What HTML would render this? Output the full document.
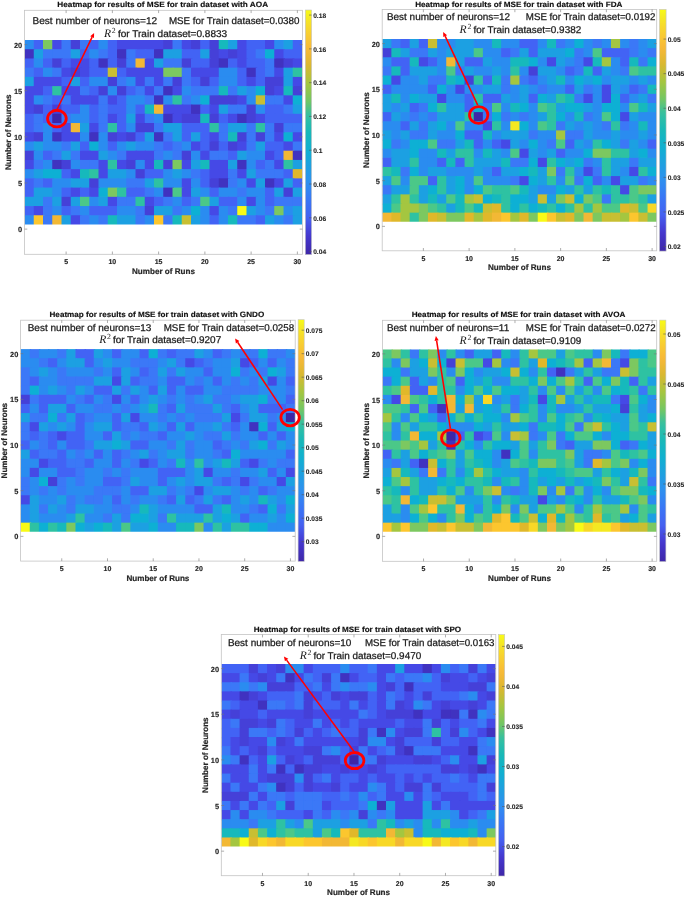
<!DOCTYPE html><html><head><meta charset="utf-8"><style>html,body{margin:0;padding:0;background:#fff;width:685px;height:897px;overflow:hidden}
svg{display:block;will-change:transform}
text{font-family:"Liberation Sans", sans-serif;fill:#262626;text-rendering:geometricPrecision}
.tk{font-size:7px;font-weight:bold;stroke:#262626;stroke-width:0.15px}
.cbt{font-size:6.6px;font-weight:bold;stroke:#262626;stroke-width:0.12px}
.tky{font-size:7.4px;font-weight:bold;stroke:#262626;stroke-width:0.15px}
.lb{font-size:8.1px;font-weight:bold;stroke:#262626;stroke-width:0.2px}
.ti{font-size:7.7px;font-weight:bold;fill:#111;stroke:#111;stroke-width:0.15px}
.an{font-size:9.8px;fill:#1a1a1a;stroke:#1a1a1a;stroke-width:0.25px}
.r2{font-family:"Liberation Serif",serif;font-style:italic;font-size:11.6px;fill:#1a1a1a}
.sup{font-family:"Liberation Serif",serif;font-size:7.8px;fill:#1a1a1a}
rect[class^=z]{width:1.16px;height:1.16px}
.z0{fill:#3e26a8}.z1{fill:#4030c0}.z2{fill:#4540d8}.z3{fill:#4549e6}.z4{fill:#4364f5}.z5{fill:#3a78f7}.z6{fill:#2c8cf0}.z7{fill:#1ea0e2}.z8{fill:#10b0d4}.z9{fill:#18b9bc}.za{fill:#2ec2a2}.zb{fill:#4cc888}.zc{fill:#7cc860}.zd{fill:#a4c640}.ze{fill:#c8bf30}.zf{fill:#e0b82c}.zg{fill:#f2b834}.zh{fill:#fcc62e}.zi{fill:#f8d828}.zj{fill:#f4e820}.zk{fill:#f8fa14}</style></head><body><svg width="685" height="897" viewBox="0 0 685 897">
<defs><linearGradient id="par" x1="0" y1="0" x2="0" y2="1"><stop offset="0.000" stop-color="#f9fb15"/><stop offset="0.025" stop-color="#f5ee21"/><stop offset="0.050" stop-color="#f6e227"/><stop offset="0.075" stop-color="#f7d72d"/><stop offset="0.100" stop-color="#f8cd31"/><stop offset="0.125" stop-color="#f8c434"/><stop offset="0.150" stop-color="#f8bb37"/><stop offset="0.175" stop-color="#f1b836"/><stop offset="0.200" stop-color="#e6b833"/><stop offset="0.225" stop-color="#dab831"/><stop offset="0.250" stop-color="#c9bc35"/><stop offset="0.275" stop-color="#b7c13a"/><stop offset="0.300" stop-color="#a4c640"/><stop offset="0.325" stop-color="#93c64c"/><stop offset="0.350" stop-color="#82c658"/><stop offset="0.375" stop-color="#6fc667"/><stop offset="0.400" stop-color="#54c381"/><stop offset="0.425" stop-color="#3ac09b"/><stop offset="0.450" stop-color="#2dbea7"/><stop offset="0.475" stop-color="#22bbaf"/><stop offset="0.500" stop-color="#18b8b8"/><stop offset="0.525" stop-color="#15b5c1"/><stop offset="0.550" stop-color="#12b2c9"/><stop offset="0.575" stop-color="#11afd1"/><stop offset="0.600" stop-color="#16a9d7"/><stop offset="0.625" stop-color="#1ca3dd"/><stop offset="0.650" stop-color="#219de2"/><stop offset="0.675" stop-color="#2797e8"/><stop offset="0.700" stop-color="#2d91ee"/><stop offset="0.725" stop-color="#3189f1"/><stop offset="0.750" stop-color="#3580f3"/><stop offset="0.775" stop-color="#3977f5"/><stop offset="0.800" stop-color="#3d6ff4"/><stop offset="0.825" stop-color="#4168f2"/><stop offset="0.850" stop-color="#4560f0"/><stop offset="0.875" stop-color="#4552e5"/><stop offset="0.900" stop-color="#4543d9"/><stop offset="0.925" stop-color="#4537cd"/><stop offset="0.950" stop-color="#4231c1"/><stop offset="0.975" stop-color="#402cb4"/><stop offset="1.000" stop-color="#3e26a8"/></linearGradient></defs>
<rect width="685" height="897" fill="#fff"/>
<rect x="24.5" y="10.3" width="278" height="244" fill="#fff"/>
<clipPath id="cAOA"><rect x="24.5" y="40" width="277.5" height="184.5"/></clipPath>
<filter id="fAOA" filterUnits="userSpaceOnUse" x="24.5" y="40" width="277.5" height="184.5"><feGaussianBlur stdDeviation="0.45" edgeMode="duplicate"/></filter>
<g clip-path="url(#cAOA)" filter="url(#fAOA)"><g transform="translate(24.5 40) scale(9.2500 9.2250)">
<rect x="0" y="0" width="1.16" height="1.16" class="z6"/>
<rect x="1" y="0" width="1.16" height="1.16" class="z4"/>
<rect x="2" y="0" width="1.16" height="1.16" class="zc"/>
<rect x="3" y="0" width="1.16" height="1.16" class="z3"/>
<rect x="4" y="0" width="1.16" height="1.16" class="z5"/>
<rect x="5" y="0" width="1.16" height="1.16" class="z2"/>
<rect x="6" y="0" width="1.16" height="1.16" class="z5"/>
<rect x="7" y="0" width="1.16" height="1.16" class="z4"/>
<rect x="8" y="0" width="1.16" height="1.16" class="z6"/>
<rect x="9" y="0" width="1.16" height="1.16" class="z4"/>
<rect x="10" y="0" width="1.16" height="1.16" class="z3"/>
<rect x="11" y="0" width="1.16" height="1.16" class="z3"/>
<rect x="12" y="0" width="1.16" height="1.16" class="z3"/>
<rect x="13" y="0" width="1.16" height="1.16" class="z3"/>
<rect x="14" y="0" width="1.16" height="1.16" class="z3"/>
<rect x="15" y="0" width="1.16" height="1.16" class="z2"/>
<rect x="16" y="0" width="1.16" height="1.16" class="z5"/>
<rect x="17" y="0" width="1.16" height="1.16" class="z3"/>
<rect x="18" y="0" width="1.16" height="1.16" class="z2"/>
<rect x="19" y="0" width="1.16" height="1.16" class="z4"/>
<rect x="20" y="0" width="1.16" height="1.16" class="z2"/>
<rect x="21" y="0" width="1.16" height="1.16" class="z9"/>
<rect x="22" y="0" width="1.16" height="1.16" class="z7"/>
<rect x="23" y="0" width="1.16" height="1.16" class="z3"/>
<rect x="24" y="0" width="1.16" height="1.16" class="z4"/>
<rect x="25" y="0" width="1.16" height="1.16" class="z4"/>
<rect x="26" y="0" width="1.16" height="1.16" class="z3"/>
<rect x="27" y="0" width="1.16" height="1.16" class="z6"/>
<rect x="28" y="0" width="1.16" height="1.16" class="z7"/>
<rect x="29" y="0" width="1.16" height="1.16" class="z4"/>
<rect x="0" y="1" width="1.16" height="1.16" class="z1"/>
<rect x="1" y="1" width="1.16" height="1.16" class="z7"/>
<rect x="2" y="1" width="1.16" height="1.16" class="z5"/>
<rect x="3" y="1" width="1.16" height="1.16" class="z5"/>
<rect x="4" y="1" width="1.16" height="1.16" class="z5"/>
<rect x="5" y="1" width="1.16" height="1.16" class="z7"/>
<rect x="6" y="1" width="1.16" height="1.16" class="z4"/>
<rect x="7" y="1" width="1.16" height="1.16" class="z6"/>
<rect x="8" y="1" width="1.16" height="1.16" class="z5"/>
<rect x="9" y="1" width="1.16" height="1.16" class="z4"/>
<rect x="10" y="1" width="1.16" height="1.16" class="z1"/>
<rect x="11" y="1" width="1.16" height="1.16" class="z5"/>
<rect x="12" y="1" width="1.16" height="1.16" class="z4"/>
<rect x="13" y="1" width="1.16" height="1.16" class="z4"/>
<rect x="14" y="1" width="1.16" height="1.16" class="z1"/>
<rect x="15" y="1" width="1.16" height="1.16" class="z7"/>
<rect x="16" y="1" width="1.16" height="1.16" class="z7"/>
<rect x="17" y="1" width="1.16" height="1.16" class="z4"/>
<rect x="18" y="1" width="1.16" height="1.16" class="z4"/>
<rect x="19" y="1" width="1.16" height="1.16" class="z7"/>
<rect x="20" y="1" width="1.16" height="1.16" class="z2"/>
<rect x="21" y="1" width="1.16" height="1.16" class="z3"/>
<rect x="22" y="1" width="1.16" height="1.16" class="z2"/>
<rect x="23" y="1" width="1.16" height="1.16" class="z3"/>
<rect x="24" y="1" width="1.16" height="1.16" class="z4"/>
<rect x="25" y="1" width="1.16" height="1.16" class="z5"/>
<rect x="26" y="1" width="1.16" height="1.16" class="z8"/>
<rect x="27" y="1" width="1.16" height="1.16" class="z3"/>
<rect x="28" y="1" width="1.16" height="1.16" class="z4"/>
<rect x="29" y="1" width="1.16" height="1.16" class="z4"/>
<rect x="0" y="2" width="1.16" height="1.16" class="z4"/>
<rect x="1" y="2" width="1.16" height="1.16" class="z6"/>
<rect x="2" y="2" width="1.16" height="1.16" class="z4"/>
<rect x="3" y="2" width="1.16" height="1.16" class="z2"/>
<rect x="4" y="2" width="1.16" height="1.16" class="z4"/>
<rect x="5" y="2" width="1.16" height="1.16" class="z3"/>
<rect x="6" y="2" width="1.16" height="1.16" class="z3"/>
<rect x="7" y="2" width="1.16" height="1.16" class="z4"/>
<rect x="8" y="2" width="1.16" height="1.16" class="z1"/>
<rect x="9" y="2" width="1.16" height="1.16" class="z4"/>
<rect x="10" y="2" width="1.16" height="1.16" class="z2"/>
<rect x="11" y="2" width="1.16" height="1.16" class="z5"/>
<rect x="12" y="2" width="1.16" height="1.16" class="zg"/>
<rect x="13" y="2" width="1.16" height="1.16" class="z3"/>
<rect x="14" y="2" width="1.16" height="1.16" class="z7"/>
<rect x="15" y="2" width="1.16" height="1.16" class="z5"/>
<rect x="16" y="2" width="1.16" height="1.16" class="z5"/>
<rect x="17" y="2" width="1.16" height="1.16" class="z2"/>
<rect x="18" y="2" width="1.16" height="1.16" class="z4"/>
<rect x="19" y="2" width="1.16" height="1.16" class="z4"/>
<rect x="20" y="2" width="1.16" height="1.16" class="z2"/>
<rect x="21" y="2" width="1.16" height="1.16" class="z1"/>
<rect x="22" y="2" width="1.16" height="1.16" class="z4"/>
<rect x="23" y="2" width="1.16" height="1.16" class="z3"/>
<rect x="24" y="2" width="1.16" height="1.16" class="z4"/>
<rect x="25" y="2" width="1.16" height="1.16" class="z4"/>
<rect x="26" y="2" width="1.16" height="1.16" class="z5"/>
<rect x="27" y="2" width="1.16" height="1.16" class="z1"/>
<rect x="28" y="2" width="1.16" height="1.16" class="z2"/>
<rect x="29" y="2" width="1.16" height="1.16" class="z3"/>
<rect x="0" y="3" width="1.16" height="1.16" class="z5"/>
<rect x="1" y="3" width="1.16" height="1.16" class="z4"/>
<rect x="2" y="3" width="1.16" height="1.16" class="z6"/>
<rect x="3" y="3" width="1.16" height="1.16" class="z5"/>
<rect x="4" y="3" width="1.16" height="1.16" class="z3"/>
<rect x="5" y="3" width="1.16" height="1.16" class="z2"/>
<rect x="6" y="3" width="1.16" height="1.16" class="z3"/>
<rect x="7" y="3" width="1.16" height="1.16" class="z4"/>
<rect x="8" y="3" width="1.16" height="1.16" class="z4"/>
<rect x="9" y="3" width="1.16" height="1.16" class="ze"/>
<rect x="10" y="3" width="1.16" height="1.16" class="z4"/>
<rect x="11" y="3" width="1.16" height="1.16" class="z3"/>
<rect x="12" y="3" width="1.16" height="1.16" class="z3"/>
<rect x="13" y="3" width="1.16" height="1.16" class="z3"/>
<rect x="14" y="3" width="1.16" height="1.16" class="z3"/>
<rect x="15" y="3" width="1.16" height="1.16" class="zc"/>
<rect x="16" y="3" width="1.16" height="1.16" class="zc"/>
<rect x="17" y="3" width="1.16" height="1.16" class="z5"/>
<rect x="18" y="3" width="1.16" height="1.16" class="z3"/>
<rect x="19" y="3" width="1.16" height="1.16" class="z3"/>
<rect x="20" y="3" width="1.16" height="1.16" class="z3"/>
<rect x="21" y="3" width="1.16" height="1.16" class="z6"/>
<rect x="22" y="3" width="1.16" height="1.16" class="z6"/>
<rect x="23" y="3" width="1.16" height="1.16" class="z4"/>
<rect x="24" y="3" width="1.16" height="1.16" class="z1"/>
<rect x="25" y="3" width="1.16" height="1.16" class="z4"/>
<rect x="26" y="3" width="1.16" height="1.16" class="z5"/>
<rect x="27" y="3" width="1.16" height="1.16" class="z3"/>
<rect x="28" y="3" width="1.16" height="1.16" class="z7"/>
<rect x="29" y="3" width="1.16" height="1.16" class="za"/>
<rect x="0" y="4" width="1.16" height="1.16" class="z7"/>
<rect x="1" y="4" width="1.16" height="1.16" class="z3"/>
<rect x="2" y="4" width="1.16" height="1.16" class="z3"/>
<rect x="3" y="4" width="1.16" height="1.16" class="z3"/>
<rect x="4" y="4" width="1.16" height="1.16" class="z4"/>
<rect x="5" y="4" width="1.16" height="1.16" class="z7"/>
<rect x="6" y="4" width="1.16" height="1.16" class="z4"/>
<rect x="7" y="4" width="1.16" height="1.16" class="z6"/>
<rect x="8" y="4" width="1.16" height="1.16" class="z6"/>
<rect x="9" y="4" width="1.16" height="1.16" class="z2"/>
<rect x="10" y="4" width="1.16" height="1.16" class="z5"/>
<rect x="11" y="4" width="1.16" height="1.16" class="z6"/>
<rect x="12" y="4" width="1.16" height="1.16" class="z3"/>
<rect x="13" y="4" width="1.16" height="1.16" class="z5"/>
<rect x="14" y="4" width="1.16" height="1.16" class="z3"/>
<rect x="15" y="4" width="1.16" height="1.16" class="z5"/>
<rect x="16" y="4" width="1.16" height="1.16" class="z2"/>
<rect x="17" y="4" width="1.16" height="1.16" class="z5"/>
<rect x="18" y="4" width="1.16" height="1.16" class="z4"/>
<rect x="19" y="4" width="1.16" height="1.16" class="z2"/>
<rect x="20" y="4" width="1.16" height="1.16" class="z4"/>
<rect x="21" y="4" width="1.16" height="1.16" class="z6"/>
<rect x="22" y="4" width="1.16" height="1.16" class="z6"/>
<rect x="23" y="4" width="1.16" height="1.16" class="z4"/>
<rect x="24" y="4" width="1.16" height="1.16" class="z3"/>
<rect x="25" y="4" width="1.16" height="1.16" class="z4"/>
<rect x="26" y="4" width="1.16" height="1.16" class="z2"/>
<rect x="27" y="4" width="1.16" height="1.16" class="z2"/>
<rect x="28" y="4" width="1.16" height="1.16" class="z7"/>
<rect x="29" y="4" width="1.16" height="1.16" class="z3"/>
<rect x="0" y="5" width="1.16" height="1.16" class="z3"/>
<rect x="1" y="5" width="1.16" height="1.16" class="z3"/>
<rect x="2" y="5" width="1.16" height="1.16" class="z4"/>
<rect x="3" y="5" width="1.16" height="1.16" class="za"/>
<rect x="4" y="5" width="1.16" height="1.16" class="z3"/>
<rect x="5" y="5" width="1.16" height="1.16" class="z3"/>
<rect x="6" y="5" width="1.16" height="1.16" class="z5"/>
<rect x="7" y="5" width="1.16" height="1.16" class="z4"/>
<rect x="8" y="5" width="1.16" height="1.16" class="z2"/>
<rect x="9" y="5" width="1.16" height="1.16" class="z6"/>
<rect x="10" y="5" width="1.16" height="1.16" class="z2"/>
<rect x="11" y="5" width="1.16" height="1.16" class="z4"/>
<rect x="12" y="5" width="1.16" height="1.16" class="z5"/>
<rect x="13" y="5" width="1.16" height="1.16" class="z3"/>
<rect x="14" y="5" width="1.16" height="1.16" class="z5"/>
<rect x="15" y="5" width="1.16" height="1.16" class="z1"/>
<rect x="16" y="5" width="1.16" height="1.16" class="z3"/>
<rect x="17" y="5" width="1.16" height="1.16" class="z6"/>
<rect x="18" y="5" width="1.16" height="1.16" class="z5"/>
<rect x="19" y="5" width="1.16" height="1.16" class="z5"/>
<rect x="20" y="5" width="1.16" height="1.16" class="z5"/>
<rect x="21" y="5" width="1.16" height="1.16" class="z9"/>
<rect x="22" y="5" width="1.16" height="1.16" class="z5"/>
<rect x="23" y="5" width="1.16" height="1.16" class="z7"/>
<rect x="24" y="5" width="1.16" height="1.16" class="z6"/>
<rect x="25" y="5" width="1.16" height="1.16" class="z8"/>
<rect x="26" y="5" width="1.16" height="1.16" class="z2"/>
<rect x="27" y="5" width="1.16" height="1.16" class="z3"/>
<rect x="28" y="5" width="1.16" height="1.16" class="z9"/>
<rect x="29" y="5" width="1.16" height="1.16" class="z2"/>
<rect x="0" y="6" width="1.16" height="1.16" class="z3"/>
<rect x="1" y="6" width="1.16" height="1.16" class="z6"/>
<rect x="2" y="6" width="1.16" height="1.16" class="z5"/>
<rect x="3" y="6" width="1.16" height="1.16" class="z4"/>
<rect x="4" y="6" width="1.16" height="1.16" class="z5"/>
<rect x="5" y="6" width="1.16" height="1.16" class="z3"/>
<rect x="6" y="6" width="1.16" height="1.16" class="z3"/>
<rect x="7" y="6" width="1.16" height="1.16" class="z3"/>
<rect x="8" y="6" width="1.16" height="1.16" class="z5"/>
<rect x="9" y="6" width="1.16" height="1.16" class="z3"/>
<rect x="10" y="6" width="1.16" height="1.16" class="z4"/>
<rect x="11" y="6" width="1.16" height="1.16" class="z6"/>
<rect x="12" y="6" width="1.16" height="1.16" class="z6"/>
<rect x="13" y="6" width="1.16" height="1.16" class="z5"/>
<rect x="14" y="6" width="1.16" height="1.16" class="z1"/>
<rect x="15" y="6" width="1.16" height="1.16" class="z6"/>
<rect x="16" y="6" width="1.16" height="1.16" class="za"/>
<rect x="17" y="6" width="1.16" height="1.16" class="z5"/>
<rect x="18" y="6" width="1.16" height="1.16" class="z6"/>
<rect x="19" y="6" width="1.16" height="1.16" class="z8"/>
<rect x="20" y="6" width="1.16" height="1.16" class="z2"/>
<rect x="21" y="6" width="1.16" height="1.16" class="z2"/>
<rect x="22" y="6" width="1.16" height="1.16" class="z2"/>
<rect x="23" y="6" width="1.16" height="1.16" class="z3"/>
<rect x="24" y="6" width="1.16" height="1.16" class="z6"/>
<rect x="25" y="6" width="1.16" height="1.16" class="ze"/>
<rect x="26" y="6" width="1.16" height="1.16" class="z5"/>
<rect x="27" y="6" width="1.16" height="1.16" class="z5"/>
<rect x="28" y="6" width="1.16" height="1.16" class="z3"/>
<rect x="29" y="6" width="1.16" height="1.16" class="z8"/>
<rect x="0" y="7" width="1.16" height="1.16" class="z3"/>
<rect x="1" y="7" width="1.16" height="1.16" class="z2"/>
<rect x="2" y="7" width="1.16" height="1.16" class="z4"/>
<rect x="3" y="7" width="1.16" height="1.16" class="z2"/>
<rect x="4" y="7" width="1.16" height="1.16" class="z4"/>
<rect x="5" y="7" width="1.16" height="1.16" class="z4"/>
<rect x="6" y="7" width="1.16" height="1.16" class="z6"/>
<rect x="7" y="7" width="1.16" height="1.16" class="z4"/>
<rect x="8" y="7" width="1.16" height="1.16" class="z5"/>
<rect x="9" y="7" width="1.16" height="1.16" class="z4"/>
<rect x="10" y="7" width="1.16" height="1.16" class="z4"/>
<rect x="11" y="7" width="1.16" height="1.16" class="z6"/>
<rect x="12" y="7" width="1.16" height="1.16" class="z4"/>
<rect x="13" y="7" width="1.16" height="1.16" class="z9"/>
<rect x="14" y="7" width="1.16" height="1.16" class="zg"/>
<rect x="15" y="7" width="1.16" height="1.16" class="z3"/>
<rect x="16" y="7" width="1.16" height="1.16" class="z3"/>
<rect x="17" y="7" width="1.16" height="1.16" class="z3"/>
<rect x="18" y="7" width="1.16" height="1.16" class="z1"/>
<rect x="19" y="7" width="1.16" height="1.16" class="z4"/>
<rect x="20" y="7" width="1.16" height="1.16" class="z3"/>
<rect x="21" y="7" width="1.16" height="1.16" class="z7"/>
<rect x="22" y="7" width="1.16" height="1.16" class="z5"/>
<rect x="23" y="7" width="1.16" height="1.16" class="z5"/>
<rect x="24" y="7" width="1.16" height="1.16" class="z2"/>
<rect x="25" y="7" width="1.16" height="1.16" class="z6"/>
<rect x="26" y="7" width="1.16" height="1.16" class="z4"/>
<rect x="27" y="7" width="1.16" height="1.16" class="z4"/>
<rect x="28" y="7" width="1.16" height="1.16" class="z5"/>
<rect x="29" y="7" width="1.16" height="1.16" class="z7"/>
<rect x="0" y="8" width="1.16" height="1.16" class="z4"/>
<rect x="1" y="8" width="1.16" height="1.16" class="z5"/>
<rect x="2" y="8" width="1.16" height="1.16" class="z4"/>
<rect x="3" y="8" width="1.16" height="1.16" class="z0"/>
<rect x="4" y="8" width="1.16" height="1.16" class="z5"/>
<rect x="5" y="8" width="1.16" height="1.16" class="z6"/>
<rect x="6" y="8" width="1.16" height="1.16" class="z6"/>
<rect x="7" y="8" width="1.16" height="1.16" class="z4"/>
<rect x="8" y="8" width="1.16" height="1.16" class="z5"/>
<rect x="9" y="8" width="1.16" height="1.16" class="z3"/>
<rect x="10" y="8" width="1.16" height="1.16" class="z4"/>
<rect x="11" y="8" width="1.16" height="1.16" class="z7"/>
<rect x="12" y="8" width="1.16" height="1.16" class="z3"/>
<rect x="13" y="8" width="1.16" height="1.16" class="z5"/>
<rect x="14" y="8" width="1.16" height="1.16" class="z6"/>
<rect x="15" y="8" width="1.16" height="1.16" class="z1"/>
<rect x="16" y="8" width="1.16" height="1.16" class="z3"/>
<rect x="17" y="8" width="1.16" height="1.16" class="z2"/>
<rect x="18" y="8" width="1.16" height="1.16" class="z2"/>
<rect x="19" y="8" width="1.16" height="1.16" class="z9"/>
<rect x="20" y="8" width="1.16" height="1.16" class="z2"/>
<rect x="21" y="8" width="1.16" height="1.16" class="z4"/>
<rect x="22" y="8" width="1.16" height="1.16" class="z3"/>
<rect x="23" y="8" width="1.16" height="1.16" class="z1"/>
<rect x="24" y="8" width="1.16" height="1.16" class="z2"/>
<rect x="25" y="8" width="1.16" height="1.16" class="z3"/>
<rect x="26" y="8" width="1.16" height="1.16" class="z4"/>
<rect x="27" y="8" width="1.16" height="1.16" class="z4"/>
<rect x="28" y="8" width="1.16" height="1.16" class="z4"/>
<rect x="29" y="8" width="1.16" height="1.16" class="z4"/>
<rect x="0" y="9" width="1.16" height="1.16" class="z4"/>
<rect x="1" y="9" width="1.16" height="1.16" class="z5"/>
<rect x="2" y="9" width="1.16" height="1.16" class="z6"/>
<rect x="3" y="9" width="1.16" height="1.16" class="z4"/>
<rect x="4" y="9" width="1.16" height="1.16" class="z3"/>
<rect x="5" y="9" width="1.16" height="1.16" class="zg"/>
<rect x="6" y="9" width="1.16" height="1.16" class="z7"/>
<rect x="7" y="9" width="1.16" height="1.16" class="z3"/>
<rect x="8" y="9" width="1.16" height="1.16" class="z5"/>
<rect x="9" y="9" width="1.16" height="1.16" class="za"/>
<rect x="10" y="9" width="1.16" height="1.16" class="z4"/>
<rect x="11" y="9" width="1.16" height="1.16" class="z6"/>
<rect x="12" y="9" width="1.16" height="1.16" class="z2"/>
<rect x="13" y="9" width="1.16" height="1.16" class="z2"/>
<rect x="14" y="9" width="1.16" height="1.16" class="z5"/>
<rect x="15" y="9" width="1.16" height="1.16" class="z7"/>
<rect x="16" y="9" width="1.16" height="1.16" class="z7"/>
<rect x="17" y="9" width="1.16" height="1.16" class="z4"/>
<rect x="18" y="9" width="1.16" height="1.16" class="z4"/>
<rect x="19" y="9" width="1.16" height="1.16" class="z4"/>
<rect x="20" y="9" width="1.16" height="1.16" class="za"/>
<rect x="21" y="9" width="1.16" height="1.16" class="z5"/>
<rect x="22" y="9" width="1.16" height="1.16" class="z7"/>
<rect x="23" y="9" width="1.16" height="1.16" class="z7"/>
<rect x="24" y="9" width="1.16" height="1.16" class="z5"/>
<rect x="25" y="9" width="1.16" height="1.16" class="za"/>
<rect x="26" y="9" width="1.16" height="1.16" class="z5"/>
<rect x="27" y="9" width="1.16" height="1.16" class="z2"/>
<rect x="28" y="9" width="1.16" height="1.16" class="z5"/>
<rect x="29" y="9" width="1.16" height="1.16" class="z5"/>
<rect x="0" y="10" width="1.16" height="1.16" class="z3"/>
<rect x="1" y="10" width="1.16" height="1.16" class="z2"/>
<rect x="2" y="10" width="1.16" height="1.16" class="z6"/>
<rect x="3" y="10" width="1.16" height="1.16" class="z1"/>
<rect x="4" y="10" width="1.16" height="1.16" class="z3"/>
<rect x="5" y="10" width="1.16" height="1.16" class="z3"/>
<rect x="6" y="10" width="1.16" height="1.16" class="z6"/>
<rect x="7" y="10" width="1.16" height="1.16" class="z1"/>
<rect x="8" y="10" width="1.16" height="1.16" class="z6"/>
<rect x="9" y="10" width="1.16" height="1.16" class="z2"/>
<rect x="10" y="10" width="1.16" height="1.16" class="z3"/>
<rect x="11" y="10" width="1.16" height="1.16" class="z2"/>
<rect x="12" y="10" width="1.16" height="1.16" class="z4"/>
<rect x="13" y="10" width="1.16" height="1.16" class="z7"/>
<rect x="14" y="10" width="1.16" height="1.16" class="z1"/>
<rect x="15" y="10" width="1.16" height="1.16" class="z5"/>
<rect x="16" y="10" width="1.16" height="1.16" class="z7"/>
<rect x="17" y="10" width="1.16" height="1.16" class="z4"/>
<rect x="18" y="10" width="1.16" height="1.16" class="z7"/>
<rect x="19" y="10" width="1.16" height="1.16" class="z4"/>
<rect x="20" y="10" width="1.16" height="1.16" class="z3"/>
<rect x="21" y="10" width="1.16" height="1.16" class="z5"/>
<rect x="22" y="10" width="1.16" height="1.16" class="z9"/>
<rect x="23" y="10" width="1.16" height="1.16" class="z2"/>
<rect x="24" y="10" width="1.16" height="1.16" class="z5"/>
<rect x="25" y="10" width="1.16" height="1.16" class="z2"/>
<rect x="26" y="10" width="1.16" height="1.16" class="z5"/>
<rect x="27" y="10" width="1.16" height="1.16" class="z3"/>
<rect x="28" y="10" width="1.16" height="1.16" class="z8"/>
<rect x="29" y="10" width="1.16" height="1.16" class="z3"/>
<rect x="0" y="11" width="1.16" height="1.16" class="z6"/>
<rect x="1" y="11" width="1.16" height="1.16" class="z7"/>
<rect x="2" y="11" width="1.16" height="1.16" class="z6"/>
<rect x="3" y="11" width="1.16" height="1.16" class="z6"/>
<rect x="4" y="11" width="1.16" height="1.16" class="z5"/>
<rect x="5" y="11" width="1.16" height="1.16" class="z7"/>
<rect x="6" y="11" width="1.16" height="1.16" class="z4"/>
<rect x="7" y="11" width="1.16" height="1.16" class="z8"/>
<rect x="8" y="11" width="1.16" height="1.16" class="z6"/>
<rect x="9" y="11" width="1.16" height="1.16" class="z4"/>
<rect x="10" y="11" width="1.16" height="1.16" class="z6"/>
<rect x="11" y="11" width="1.16" height="1.16" class="z7"/>
<rect x="12" y="11" width="1.16" height="1.16" class="z6"/>
<rect x="13" y="11" width="1.16" height="1.16" class="z6"/>
<rect x="14" y="11" width="1.16" height="1.16" class="z5"/>
<rect x="15" y="11" width="1.16" height="1.16" class="z4"/>
<rect x="16" y="11" width="1.16" height="1.16" class="z5"/>
<rect x="17" y="11" width="1.16" height="1.16" class="z6"/>
<rect x="18" y="11" width="1.16" height="1.16" class="z3"/>
<rect x="19" y="11" width="1.16" height="1.16" class="z4"/>
<rect x="20" y="11" width="1.16" height="1.16" class="z2"/>
<rect x="21" y="11" width="1.16" height="1.16" class="z4"/>
<rect x="22" y="11" width="1.16" height="1.16" class="z2"/>
<rect x="23" y="11" width="1.16" height="1.16" class="z3"/>
<rect x="24" y="11" width="1.16" height="1.16" class="z5"/>
<rect x="25" y="11" width="1.16" height="1.16" class="z7"/>
<rect x="26" y="11" width="1.16" height="1.16" class="z4"/>
<rect x="27" y="11" width="1.16" height="1.16" class="z4"/>
<rect x="28" y="11" width="1.16" height="1.16" class="z3"/>
<rect x="29" y="11" width="1.16" height="1.16" class="z5"/>
<rect x="0" y="12" width="1.16" height="1.16" class="z2"/>
<rect x="1" y="12" width="1.16" height="1.16" class="z6"/>
<rect x="2" y="12" width="1.16" height="1.16" class="z4"/>
<rect x="3" y="12" width="1.16" height="1.16" class="z5"/>
<rect x="4" y="12" width="1.16" height="1.16" class="z7"/>
<rect x="5" y="12" width="1.16" height="1.16" class="z5"/>
<rect x="6" y="12" width="1.16" height="1.16" class="z3"/>
<rect x="7" y="12" width="1.16" height="1.16" class="z3"/>
<rect x="8" y="12" width="1.16" height="1.16" class="z7"/>
<rect x="9" y="12" width="1.16" height="1.16" class="z6"/>
<rect x="10" y="12" width="1.16" height="1.16" class="z5"/>
<rect x="11" y="12" width="1.16" height="1.16" class="z3"/>
<rect x="12" y="12" width="1.16" height="1.16" class="z3"/>
<rect x="13" y="12" width="1.16" height="1.16" class="z3"/>
<rect x="14" y="12" width="1.16" height="1.16" class="z5"/>
<rect x="15" y="12" width="1.16" height="1.16" class="z6"/>
<rect x="16" y="12" width="1.16" height="1.16" class="z5"/>
<rect x="17" y="12" width="1.16" height="1.16" class="z2"/>
<rect x="18" y="12" width="1.16" height="1.16" class="z6"/>
<rect x="19" y="12" width="1.16" height="1.16" class="z3"/>
<rect x="20" y="12" width="1.16" height="1.16" class="z5"/>
<rect x="21" y="12" width="1.16" height="1.16" class="z5"/>
<rect x="22" y="12" width="1.16" height="1.16" class="z4"/>
<rect x="23" y="12" width="1.16" height="1.16" class="z7"/>
<rect x="24" y="12" width="1.16" height="1.16" class="z6"/>
<rect x="25" y="12" width="1.16" height="1.16" class="z6"/>
<rect x="26" y="12" width="1.16" height="1.16" class="z3"/>
<rect x="27" y="12" width="1.16" height="1.16" class="z4"/>
<rect x="28" y="12" width="1.16" height="1.16" class="zg"/>
<rect x="29" y="12" width="1.16" height="1.16" class="z1"/>
<rect x="0" y="13" width="1.16" height="1.16" class="z3"/>
<rect x="1" y="13" width="1.16" height="1.16" class="z5"/>
<rect x="2" y="13" width="1.16" height="1.16" class="z6"/>
<rect x="3" y="13" width="1.16" height="1.16" class="z1"/>
<rect x="4" y="13" width="1.16" height="1.16" class="z2"/>
<rect x="5" y="13" width="1.16" height="1.16" class="z6"/>
<rect x="6" y="13" width="1.16" height="1.16" class="z5"/>
<rect x="7" y="13" width="1.16" height="1.16" class="z5"/>
<rect x="8" y="13" width="1.16" height="1.16" class="z3"/>
<rect x="9" y="13" width="1.16" height="1.16" class="za"/>
<rect x="10" y="13" width="1.16" height="1.16" class="z3"/>
<rect x="11" y="13" width="1.16" height="1.16" class="z2"/>
<rect x="12" y="13" width="1.16" height="1.16" class="z6"/>
<rect x="13" y="13" width="1.16" height="1.16" class="z3"/>
<rect x="14" y="13" width="1.16" height="1.16" class="z9"/>
<rect x="15" y="13" width="1.16" height="1.16" class="z2"/>
<rect x="16" y="13" width="1.16" height="1.16" class="zc"/>
<rect x="17" y="13" width="1.16" height="1.16" class="z3"/>
<rect x="18" y="13" width="1.16" height="1.16" class="z7"/>
<rect x="19" y="13" width="1.16" height="1.16" class="z9"/>
<rect x="20" y="13" width="1.16" height="1.16" class="z3"/>
<rect x="21" y="13" width="1.16" height="1.16" class="z3"/>
<rect x="22" y="13" width="1.16" height="1.16" class="z7"/>
<rect x="23" y="13" width="1.16" height="1.16" class="z1"/>
<rect x="24" y="13" width="1.16" height="1.16" class="z6"/>
<rect x="25" y="13" width="1.16" height="1.16" class="z4"/>
<rect x="26" y="13" width="1.16" height="1.16" class="z5"/>
<rect x="27" y="13" width="1.16" height="1.16" class="z3"/>
<rect x="28" y="13" width="1.16" height="1.16" class="za"/>
<rect x="29" y="13" width="1.16" height="1.16" class="z7"/>
<rect x="0" y="14" width="1.16" height="1.16" class="z6"/>
<rect x="1" y="14" width="1.16" height="1.16" class="z7"/>
<rect x="2" y="14" width="1.16" height="1.16" class="z8"/>
<rect x="3" y="14" width="1.16" height="1.16" class="z8"/>
<rect x="4" y="14" width="1.16" height="1.16" class="z4"/>
<rect x="5" y="14" width="1.16" height="1.16" class="z3"/>
<rect x="6" y="14" width="1.16" height="1.16" class="z9"/>
<rect x="7" y="14" width="1.16" height="1.16" class="za"/>
<rect x="8" y="14" width="1.16" height="1.16" class="z3"/>
<rect x="9" y="14" width="1.16" height="1.16" class="z7"/>
<rect x="10" y="14" width="1.16" height="1.16" class="z7"/>
<rect x="11" y="14" width="1.16" height="1.16" class="z6"/>
<rect x="12" y="14" width="1.16" height="1.16" class="z2"/>
<rect x="13" y="14" width="1.16" height="1.16" class="z4"/>
<rect x="14" y="14" width="1.16" height="1.16" class="z4"/>
<rect x="15" y="14" width="1.16" height="1.16" class="z6"/>
<rect x="16" y="14" width="1.16" height="1.16" class="z7"/>
<rect x="17" y="14" width="1.16" height="1.16" class="z6"/>
<rect x="18" y="14" width="1.16" height="1.16" class="z5"/>
<rect x="19" y="14" width="1.16" height="1.16" class="z4"/>
<rect x="20" y="14" width="1.16" height="1.16" class="z3"/>
<rect x="21" y="14" width="1.16" height="1.16" class="z3"/>
<rect x="22" y="14" width="1.16" height="1.16" class="z5"/>
<rect x="23" y="14" width="1.16" height="1.16" class="z3"/>
<rect x="24" y="14" width="1.16" height="1.16" class="z7"/>
<rect x="25" y="14" width="1.16" height="1.16" class="z5"/>
<rect x="26" y="14" width="1.16" height="1.16" class="z5"/>
<rect x="27" y="14" width="1.16" height="1.16" class="z5"/>
<rect x="28" y="14" width="1.16" height="1.16" class="z4"/>
<rect x="29" y="14" width="1.16" height="1.16" class="zf"/>
<rect x="0" y="15" width="1.16" height="1.16" class="z4"/>
<rect x="1" y="15" width="1.16" height="1.16" class="z5"/>
<rect x="2" y="15" width="1.16" height="1.16" class="z4"/>
<rect x="3" y="15" width="1.16" height="1.16" class="z6"/>
<rect x="4" y="15" width="1.16" height="1.16" class="z6"/>
<rect x="5" y="15" width="1.16" height="1.16" class="z7"/>
<rect x="6" y="15" width="1.16" height="1.16" class="z7"/>
<rect x="7" y="15" width="1.16" height="1.16" class="z2"/>
<rect x="8" y="15" width="1.16" height="1.16" class="z6"/>
<rect x="9" y="15" width="1.16" height="1.16" class="z6"/>
<rect x="10" y="15" width="1.16" height="1.16" class="z6"/>
<rect x="11" y="15" width="1.16" height="1.16" class="z5"/>
<rect x="12" y="15" width="1.16" height="1.16" class="z5"/>
<rect x="13" y="15" width="1.16" height="1.16" class="z7"/>
<rect x="14" y="15" width="1.16" height="1.16" class="za"/>
<rect x="15" y="15" width="1.16" height="1.16" class="z6"/>
<rect x="16" y="15" width="1.16" height="1.16" class="z6"/>
<rect x="17" y="15" width="1.16" height="1.16" class="z3"/>
<rect x="18" y="15" width="1.16" height="1.16" class="z6"/>
<rect x="19" y="15" width="1.16" height="1.16" class="z4"/>
<rect x="20" y="15" width="1.16" height="1.16" class="z2"/>
<rect x="21" y="15" width="1.16" height="1.16" class="z1"/>
<rect x="22" y="15" width="1.16" height="1.16" class="z5"/>
<rect x="23" y="15" width="1.16" height="1.16" class="z6"/>
<rect x="24" y="15" width="1.16" height="1.16" class="z3"/>
<rect x="25" y="15" width="1.16" height="1.16" class="z7"/>
<rect x="26" y="15" width="1.16" height="1.16" class="z1"/>
<rect x="27" y="15" width="1.16" height="1.16" class="z3"/>
<rect x="28" y="15" width="1.16" height="1.16" class="z7"/>
<rect x="29" y="15" width="1.16" height="1.16" class="z4"/>
<rect x="0" y="16" width="1.16" height="1.16" class="z4"/>
<rect x="1" y="16" width="1.16" height="1.16" class="z7"/>
<rect x="2" y="16" width="1.16" height="1.16" class="z7"/>
<rect x="3" y="16" width="1.16" height="1.16" class="z6"/>
<rect x="4" y="16" width="1.16" height="1.16" class="z4"/>
<rect x="5" y="16" width="1.16" height="1.16" class="z3"/>
<rect x="6" y="16" width="1.16" height="1.16" class="z4"/>
<rect x="7" y="16" width="1.16" height="1.16" class="z3"/>
<rect x="8" y="16" width="1.16" height="1.16" class="z8"/>
<rect x="9" y="16" width="1.16" height="1.16" class="zc"/>
<rect x="10" y="16" width="1.16" height="1.16" class="za"/>
<rect x="11" y="16" width="1.16" height="1.16" class="z4"/>
<rect x="12" y="16" width="1.16" height="1.16" class="z4"/>
<rect x="13" y="16" width="1.16" height="1.16" class="z5"/>
<rect x="14" y="16" width="1.16" height="1.16" class="z6"/>
<rect x="15" y="16" width="1.16" height="1.16" class="z1"/>
<rect x="16" y="16" width="1.16" height="1.16" class="zb"/>
<rect x="17" y="16" width="1.16" height="1.16" class="z3"/>
<rect x="18" y="16" width="1.16" height="1.16" class="z7"/>
<rect x="19" y="16" width="1.16" height="1.16" class="z6"/>
<rect x="20" y="16" width="1.16" height="1.16" class="z4"/>
<rect x="21" y="16" width="1.16" height="1.16" class="z6"/>
<rect x="22" y="16" width="1.16" height="1.16" class="z6"/>
<rect x="23" y="16" width="1.16" height="1.16" class="z5"/>
<rect x="24" y="16" width="1.16" height="1.16" class="z6"/>
<rect x="25" y="16" width="1.16" height="1.16" class="z6"/>
<rect x="26" y="16" width="1.16" height="1.16" class="z4"/>
<rect x="27" y="16" width="1.16" height="1.16" class="z7"/>
<rect x="28" y="16" width="1.16" height="1.16" class="z2"/>
<rect x="29" y="16" width="1.16" height="1.16" class="z7"/>
<rect x="0" y="17" width="1.16" height="1.16" class="z7"/>
<rect x="1" y="17" width="1.16" height="1.16" class="z7"/>
<rect x="2" y="17" width="1.16" height="1.16" class="z5"/>
<rect x="3" y="17" width="1.16" height="1.16" class="z7"/>
<rect x="4" y="17" width="1.16" height="1.16" class="z2"/>
<rect x="5" y="17" width="1.16" height="1.16" class="z7"/>
<rect x="6" y="17" width="1.16" height="1.16" class="zb"/>
<rect x="7" y="17" width="1.16" height="1.16" class="z6"/>
<rect x="8" y="17" width="1.16" height="1.16" class="z7"/>
<rect x="9" y="17" width="1.16" height="1.16" class="z3"/>
<rect x="10" y="17" width="1.16" height="1.16" class="z5"/>
<rect x="11" y="17" width="1.16" height="1.16" class="z5"/>
<rect x="12" y="17" width="1.16" height="1.16" class="za"/>
<rect x="13" y="17" width="1.16" height="1.16" class="z3"/>
<rect x="14" y="17" width="1.16" height="1.16" class="z4"/>
<rect x="15" y="17" width="1.16" height="1.16" class="z5"/>
<rect x="16" y="17" width="1.16" height="1.16" class="z6"/>
<rect x="17" y="17" width="1.16" height="1.16" class="z4"/>
<rect x="18" y="17" width="1.16" height="1.16" class="z5"/>
<rect x="19" y="17" width="1.16" height="1.16" class="zb"/>
<rect x="20" y="17" width="1.16" height="1.16" class="z7"/>
<rect x="21" y="17" width="1.16" height="1.16" class="z4"/>
<rect x="22" y="17" width="1.16" height="1.16" class="z4"/>
<rect x="23" y="17" width="1.16" height="1.16" class="z6"/>
<rect x="24" y="17" width="1.16" height="1.16" class="z3"/>
<rect x="25" y="17" width="1.16" height="1.16" class="z6"/>
<rect x="26" y="17" width="1.16" height="1.16" class="z4"/>
<rect x="27" y="17" width="1.16" height="1.16" class="z5"/>
<rect x="28" y="17" width="1.16" height="1.16" class="z5"/>
<rect x="29" y="17" width="1.16" height="1.16" class="z5"/>
<rect x="0" y="18" width="1.16" height="1.16" class="z4"/>
<rect x="1" y="18" width="1.16" height="1.16" class="z3"/>
<rect x="2" y="18" width="1.16" height="1.16" class="z5"/>
<rect x="3" y="18" width="1.16" height="1.16" class="z6"/>
<rect x="4" y="18" width="1.16" height="1.16" class="z4"/>
<rect x="5" y="18" width="1.16" height="1.16" class="z5"/>
<rect x="6" y="18" width="1.16" height="1.16" class="z6"/>
<rect x="7" y="18" width="1.16" height="1.16" class="z4"/>
<rect x="8" y="18" width="1.16" height="1.16" class="z4"/>
<rect x="9" y="18" width="1.16" height="1.16" class="z4"/>
<rect x="10" y="18" width="1.16" height="1.16" class="z6"/>
<rect x="11" y="18" width="1.16" height="1.16" class="z6"/>
<rect x="12" y="18" width="1.16" height="1.16" class="z5"/>
<rect x="13" y="18" width="1.16" height="1.16" class="z2"/>
<rect x="14" y="18" width="1.16" height="1.16" class="z7"/>
<rect x="15" y="18" width="1.16" height="1.16" class="z7"/>
<rect x="16" y="18" width="1.16" height="1.16" class="z5"/>
<rect x="17" y="18" width="1.16" height="1.16" class="z6"/>
<rect x="18" y="18" width="1.16" height="1.16" class="z8"/>
<rect x="19" y="18" width="1.16" height="1.16" class="z6"/>
<rect x="20" y="18" width="1.16" height="1.16" class="z3"/>
<rect x="21" y="18" width="1.16" height="1.16" class="z6"/>
<rect x="22" y="18" width="1.16" height="1.16" class="z5"/>
<rect x="23" y="18" width="1.16" height="1.16" class="zk"/>
<rect x="24" y="18" width="1.16" height="1.16" class="z7"/>
<rect x="25" y="18" width="1.16" height="1.16" class="z6"/>
<rect x="26" y="18" width="1.16" height="1.16" class="z5"/>
<rect x="27" y="18" width="1.16" height="1.16" class="zc"/>
<rect x="28" y="18" width="1.16" height="1.16" class="z6"/>
<rect x="29" y="18" width="1.16" height="1.16" class="z7"/>
<rect x="0" y="19" width="1.16" height="1.16" class="z6"/>
<rect x="1" y="19" width="1.16" height="1.16" class="zh"/>
<rect x="2" y="19" width="1.16" height="1.16" class="z5"/>
<rect x="3" y="19" width="1.16" height="1.16" class="zg"/>
<rect x="4" y="19" width="1.16" height="1.16" class="z7"/>
<rect x="5" y="19" width="1.16" height="1.16" class="z3"/>
<rect x="6" y="19" width="1.16" height="1.16" class="z5"/>
<rect x="7" y="19" width="1.16" height="1.16" class="z6"/>
<rect x="8" y="19" width="1.16" height="1.16" class="z5"/>
<rect x="9" y="19" width="1.16" height="1.16" class="z9"/>
<rect x="10" y="19" width="1.16" height="1.16" class="z7"/>
<rect x="11" y="19" width="1.16" height="1.16" class="z7"/>
<rect x="12" y="19" width="1.16" height="1.16" class="z5"/>
<rect x="13" y="19" width="1.16" height="1.16" class="z6"/>
<rect x="14" y="19" width="1.16" height="1.16" class="zh"/>
<rect x="15" y="19" width="1.16" height="1.16" class="z5"/>
<rect x="16" y="19" width="1.16" height="1.16" class="z9"/>
<rect x="17" y="19" width="1.16" height="1.16" class="ze"/>
<rect x="18" y="19" width="1.16" height="1.16" class="z7"/>
<rect x="19" y="19" width="1.16" height="1.16" class="z6"/>
<rect x="20" y="19" width="1.16" height="1.16" class="z4"/>
<rect x="21" y="19" width="1.16" height="1.16" class="z6"/>
<rect x="22" y="19" width="1.16" height="1.16" class="z9"/>
<rect x="23" y="19" width="1.16" height="1.16" class="z5"/>
<rect x="24" y="19" width="1.16" height="1.16" class="z5"/>
<rect x="25" y="19" width="1.16" height="1.16" class="z4"/>
<rect x="26" y="19" width="1.16" height="1.16" class="z7"/>
<rect x="27" y="19" width="1.16" height="1.16" class="z6"/>
<rect x="28" y="19" width="1.16" height="1.16" class="z5"/>
<rect x="29" y="19" width="1.16" height="1.16" class="z7"/>
</g></g>
<rect x="24.5" y="10.3" width="278" height="244" fill="none" stroke="#c4c4c4" stroke-width="0.8"/>
<path d="M66.12 254.3v-2.8M66.12 10.3v2.8M112.38 254.3v-2.8M112.38 10.3v2.8M158.62 254.3v-2.8M158.62 10.3v2.8M204.88 254.3v-2.8M204.88 10.3v2.8M251.12 254.3v-2.8M251.12 10.3v2.8M297.38 254.3v-2.8M297.38 10.3v2.8M24.5 229.11h2.8M302.5 229.11h-2.8M24.5 182.99h2.8M302.5 182.99h-2.8M24.5 136.86h2.8M302.5 136.86h-2.8M24.5 90.74h2.8M302.5 90.74h-2.8M24.5 44.61h2.8M302.5 44.61h-2.8" stroke="#777" stroke-width="0.6" fill="none"/>
<text x="66.12" y="264.1" text-anchor="middle" class="tk">5</text>
<text x="112.38" y="264.1" text-anchor="middle" class="tk">10</text>
<text x="158.62" y="264.1" text-anchor="middle" class="tk">15</text>
<text x="204.88" y="264.1" text-anchor="middle" class="tk">20</text>
<text x="251.12" y="264.1" text-anchor="middle" class="tk">25</text>
<text x="297.38" y="264.1" text-anchor="middle" class="tk">30</text>
<text x="22.2" y="232.21" text-anchor="end" class="tky">0</text>
<text x="22.2" y="186.09" text-anchor="end" class="tky">5</text>
<text x="22.2" y="139.96" text-anchor="end" class="tky">10</text>
<text x="22.2" y="93.84" text-anchor="end" class="tky">15</text>
<text x="22.2" y="47.71" text-anchor="end" class="tky">20</text>
<text x="163.5" y="273.9" text-anchor="middle" class="lb">Number of Runs</text>
<text transform="translate(11.2 132.3) rotate(-90)" text-anchor="middle" class="lb">Number of Neurons</text>
<text x="57.3" y="7.36" class="ti" textLength="210.8" lengthAdjust="spacingAndGlyphs">Heatmap for results of MSE for train dataset with AOA</text>
<text x="32.5" y="24.1" class="an" textLength="124.6" lengthAdjust="spacingAndGlyphs">Best number of neurons=12</text>
<text x="168.9" y="24.1" class="an" textLength="130.6" lengthAdjust="spacingAndGlyphs">MSE for Train dataset=0.0380</text>
<text x="103.9" y="36.9" class="r2">R</text>
<text x="111.8" y="32.7" class="sup">2</text>
<text x="117.9" y="36.9" class="an" textLength="109.3" lengthAdjust="spacingAndGlyphs">for Train dataset=0.8833</text>
<rect x="305.3" y="10" width="6.3" height="244.6" fill="url(#par)"/>
<rect x="305.3" y="10" width="6.3" height="244.6" fill="none" stroke="#c4c4c4" stroke-width="0.6"/>
<path d="M311.6 251.6h-2.6" stroke="#555" stroke-width="0.6"/>
<text x="313.2" y="254.35" class="cbt" textLength="12.91" lengthAdjust="spacingAndGlyphs">0.04</text>
<path d="M311.6 217.81h-2.6" stroke="#555" stroke-width="0.6"/>
<text x="313.2" y="220.56" class="cbt" textLength="12.91" lengthAdjust="spacingAndGlyphs">0.06</text>
<path d="M311.6 184.02h-2.6" stroke="#555" stroke-width="0.6"/>
<text x="313.2" y="186.77" class="cbt" textLength="12.91" lengthAdjust="spacingAndGlyphs">0.08</text>
<path d="M311.6 150.23h-2.6" stroke="#555" stroke-width="0.6"/>
<text x="313.2" y="152.98" class="cbt" textLength="9.22" lengthAdjust="spacingAndGlyphs">0.1</text>
<path d="M311.6 116.44h-2.6" stroke="#555" stroke-width="0.6"/>
<text x="313.2" y="119.19" class="cbt" textLength="12.91" lengthAdjust="spacingAndGlyphs">0.12</text>
<path d="M311.6 82.65h-2.6" stroke="#555" stroke-width="0.6"/>
<text x="313.2" y="85.4" class="cbt" textLength="12.91" lengthAdjust="spacingAndGlyphs">0.14</text>
<path d="M311.6 48.86h-2.6" stroke="#555" stroke-width="0.6"/>
<text x="313.2" y="51.61" class="cbt" textLength="12.91" lengthAdjust="spacingAndGlyphs">0.16</text>
<path d="M311.6 15.07h-2.6" stroke="#555" stroke-width="0.6"/>
<text x="313.2" y="17.82" class="cbt" textLength="12.91" lengthAdjust="spacingAndGlyphs">0.18</text>
<ellipse cx="56.9" cy="118.6" rx="9.35" ry="8.35" fill="none" stroke="#f00" stroke-width="2.8"/>
<path d="M57.3 109L92.1 37.14" stroke="#f00" stroke-width="1.55"/>
<path d="M94.1 33L93.99 38.06L90.21 36.22Z" fill="#f00"/>
<rect x="382.2" y="9.4" width="274.5" height="241.4" fill="#fff"/>
<clipPath id="cFDA"><rect x="382.2" y="39" width="274.5" height="182.8"/></clipPath>
<filter id="fFDA" filterUnits="userSpaceOnUse" x="382.2" y="39" width="274.5" height="182.8"><feGaussianBlur stdDeviation="0.45" edgeMode="duplicate"/></filter>
<g clip-path="url(#cFDA)" filter="url(#fFDA)"><g transform="translate(382.2 39) scale(9.1500 9.1400)">
<rect x="0" y="0" width="1.16" height="1.16" class="z7"/>
<rect x="1" y="0" width="1.16" height="1.16" class="z5"/>
<rect x="2" y="0" width="1.16" height="1.16" class="z4"/>
<rect x="3" y="0" width="1.16" height="1.16" class="z7"/>
<rect x="4" y="0" width="1.16" height="1.16" class="z4"/>
<rect x="5" y="0" width="1.16" height="1.16" class="ze"/>
<rect x="6" y="0" width="1.16" height="1.16" class="z6"/>
<rect x="7" y="0" width="1.16" height="1.16" class="z6"/>
<rect x="8" y="0" width="1.16" height="1.16" class="z7"/>
<rect x="9" y="0" width="1.16" height="1.16" class="z7"/>
<rect x="10" y="0" width="1.16" height="1.16" class="z6"/>
<rect x="11" y="0" width="1.16" height="1.16" class="z6"/>
<rect x="12" y="0" width="1.16" height="1.16" class="z9"/>
<rect x="13" y="0" width="1.16" height="1.16" class="z6"/>
<rect x="14" y="0" width="1.16" height="1.16" class="z6"/>
<rect x="15" y="0" width="1.16" height="1.16" class="z4"/>
<rect x="16" y="0" width="1.16" height="1.16" class="z4"/>
<rect x="17" y="0" width="1.16" height="1.16" class="z6"/>
<rect x="18" y="0" width="1.16" height="1.16" class="z9"/>
<rect x="19" y="0" width="1.16" height="1.16" class="z5"/>
<rect x="20" y="0" width="1.16" height="1.16" class="z6"/>
<rect x="21" y="0" width="1.16" height="1.16" class="z8"/>
<rect x="22" y="0" width="1.16" height="1.16" class="z6"/>
<rect x="23" y="0" width="1.16" height="1.16" class="z5"/>
<rect x="24" y="0" width="1.16" height="1.16" class="z6"/>
<rect x="25" y="0" width="1.16" height="1.16" class="zd"/>
<rect x="26" y="0" width="1.16" height="1.16" class="z6"/>
<rect x="27" y="0" width="1.16" height="1.16" class="z5"/>
<rect x="28" y="0" width="1.16" height="1.16" class="z6"/>
<rect x="29" y="0" width="1.16" height="1.16" class="z7"/>
<rect x="0" y="1" width="1.16" height="1.16" class="z2"/>
<rect x="1" y="1" width="1.16" height="1.16" class="z9"/>
<rect x="2" y="1" width="1.16" height="1.16" class="z7"/>
<rect x="3" y="1" width="1.16" height="1.16" class="z5"/>
<rect x="4" y="1" width="1.16" height="1.16" class="z5"/>
<rect x="5" y="1" width="1.16" height="1.16" class="z7"/>
<rect x="6" y="1" width="1.16" height="1.16" class="z6"/>
<rect x="7" y="1" width="1.16" height="1.16" class="z7"/>
<rect x="8" y="1" width="1.16" height="1.16" class="z7"/>
<rect x="9" y="1" width="1.16" height="1.16" class="z7"/>
<rect x="10" y="1" width="1.16" height="1.16" class="zb"/>
<rect x="11" y="1" width="1.16" height="1.16" class="z6"/>
<rect x="12" y="1" width="1.16" height="1.16" class="z6"/>
<rect x="13" y="1" width="1.16" height="1.16" class="z4"/>
<rect x="14" y="1" width="1.16" height="1.16" class="z5"/>
<rect x="15" y="1" width="1.16" height="1.16" class="z7"/>
<rect x="16" y="1" width="1.16" height="1.16" class="z4"/>
<rect x="17" y="1" width="1.16" height="1.16" class="z7"/>
<rect x="18" y="1" width="1.16" height="1.16" class="z7"/>
<rect x="19" y="1" width="1.16" height="1.16" class="z7"/>
<rect x="20" y="1" width="1.16" height="1.16" class="z8"/>
<rect x="21" y="1" width="1.16" height="1.16" class="z5"/>
<rect x="22" y="1" width="1.16" height="1.16" class="z6"/>
<rect x="23" y="1" width="1.16" height="1.16" class="zb"/>
<rect x="24" y="1" width="1.16" height="1.16" class="z4"/>
<rect x="25" y="1" width="1.16" height="1.16" class="z4"/>
<rect x="26" y="1" width="1.16" height="1.16" class="z4"/>
<rect x="27" y="1" width="1.16" height="1.16" class="z5"/>
<rect x="28" y="1" width="1.16" height="1.16" class="z6"/>
<rect x="29" y="1" width="1.16" height="1.16" class="z5"/>
<rect x="0" y="2" width="1.16" height="1.16" class="z6"/>
<rect x="1" y="2" width="1.16" height="1.16" class="z4"/>
<rect x="2" y="2" width="1.16" height="1.16" class="z4"/>
<rect x="3" y="2" width="1.16" height="1.16" class="z9"/>
<rect x="4" y="2" width="1.16" height="1.16" class="z3"/>
<rect x="5" y="2" width="1.16" height="1.16" class="z4"/>
<rect x="6" y="2" width="1.16" height="1.16" class="z6"/>
<rect x="7" y="2" width="1.16" height="1.16" class="zg"/>
<rect x="8" y="2" width="1.16" height="1.16" class="z7"/>
<rect x="9" y="2" width="1.16" height="1.16" class="z4"/>
<rect x="10" y="2" width="1.16" height="1.16" class="z4"/>
<rect x="11" y="2" width="1.16" height="1.16" class="z7"/>
<rect x="12" y="2" width="1.16" height="1.16" class="z6"/>
<rect x="13" y="2" width="1.16" height="1.16" class="z6"/>
<rect x="14" y="2" width="1.16" height="1.16" class="z9"/>
<rect x="15" y="2" width="1.16" height="1.16" class="z9"/>
<rect x="16" y="2" width="1.16" height="1.16" class="z8"/>
<rect x="17" y="2" width="1.16" height="1.16" class="z6"/>
<rect x="18" y="2" width="1.16" height="1.16" class="z3"/>
<rect x="19" y="2" width="1.16" height="1.16" class="z7"/>
<rect x="20" y="2" width="1.16" height="1.16" class="z6"/>
<rect x="21" y="2" width="1.16" height="1.16" class="z5"/>
<rect x="22" y="2" width="1.16" height="1.16" class="z3"/>
<rect x="23" y="2" width="1.16" height="1.16" class="z9"/>
<rect x="24" y="2" width="1.16" height="1.16" class="zd"/>
<rect x="25" y="2" width="1.16" height="1.16" class="z6"/>
<rect x="26" y="2" width="1.16" height="1.16" class="z4"/>
<rect x="27" y="2" width="1.16" height="1.16" class="z9"/>
<rect x="28" y="2" width="1.16" height="1.16" class="z5"/>
<rect x="29" y="2" width="1.16" height="1.16" class="z8"/>
<rect x="0" y="3" width="1.16" height="1.16" class="z5"/>
<rect x="1" y="3" width="1.16" height="1.16" class="z9"/>
<rect x="2" y="3" width="1.16" height="1.16" class="z4"/>
<rect x="3" y="3" width="1.16" height="1.16" class="z7"/>
<rect x="4" y="3" width="1.16" height="1.16" class="z7"/>
<rect x="5" y="3" width="1.16" height="1.16" class="z7"/>
<rect x="6" y="3" width="1.16" height="1.16" class="z6"/>
<rect x="7" y="3" width="1.16" height="1.16" class="zb"/>
<rect x="8" y="3" width="1.16" height="1.16" class="z5"/>
<rect x="9" y="3" width="1.16" height="1.16" class="z7"/>
<rect x="10" y="3" width="1.16" height="1.16" class="z6"/>
<rect x="11" y="3" width="1.16" height="1.16" class="z6"/>
<rect x="12" y="3" width="1.16" height="1.16" class="z7"/>
<rect x="13" y="3" width="1.16" height="1.16" class="z6"/>
<rect x="14" y="3" width="1.16" height="1.16" class="za"/>
<rect x="15" y="3" width="1.16" height="1.16" class="z6"/>
<rect x="16" y="3" width="1.16" height="1.16" class="z2"/>
<rect x="17" y="3" width="1.16" height="1.16" class="z7"/>
<rect x="18" y="3" width="1.16" height="1.16" class="z7"/>
<rect x="19" y="3" width="1.16" height="1.16" class="z6"/>
<rect x="20" y="3" width="1.16" height="1.16" class="z4"/>
<rect x="21" y="3" width="1.16" height="1.16" class="z5"/>
<rect x="22" y="3" width="1.16" height="1.16" class="z9"/>
<rect x="23" y="3" width="1.16" height="1.16" class="z4"/>
<rect x="24" y="3" width="1.16" height="1.16" class="z7"/>
<rect x="25" y="3" width="1.16" height="1.16" class="z6"/>
<rect x="26" y="3" width="1.16" height="1.16" class="z5"/>
<rect x="27" y="3" width="1.16" height="1.16" class="zb"/>
<rect x="28" y="3" width="1.16" height="1.16" class="za"/>
<rect x="29" y="3" width="1.16" height="1.16" class="za"/>
<rect x="0" y="4" width="1.16" height="1.16" class="z8"/>
<rect x="1" y="4" width="1.16" height="1.16" class="z3"/>
<rect x="2" y="4" width="1.16" height="1.16" class="z6"/>
<rect x="3" y="4" width="1.16" height="1.16" class="z6"/>
<rect x="4" y="4" width="1.16" height="1.16" class="z7"/>
<rect x="5" y="4" width="1.16" height="1.16" class="z5"/>
<rect x="6" y="4" width="1.16" height="1.16" class="z5"/>
<rect x="7" y="4" width="1.16" height="1.16" class="z9"/>
<rect x="8" y="4" width="1.16" height="1.16" class="z8"/>
<rect x="9" y="4" width="1.16" height="1.16" class="z2"/>
<rect x="10" y="4" width="1.16" height="1.16" class="za"/>
<rect x="11" y="4" width="1.16" height="1.16" class="z4"/>
<rect x="12" y="4" width="1.16" height="1.16" class="z9"/>
<rect x="13" y="4" width="1.16" height="1.16" class="z5"/>
<rect x="14" y="4" width="1.16" height="1.16" class="zd"/>
<rect x="15" y="4" width="1.16" height="1.16" class="z5"/>
<rect x="16" y="4" width="1.16" height="1.16" class="z4"/>
<rect x="17" y="4" width="1.16" height="1.16" class="z6"/>
<rect x="18" y="4" width="1.16" height="1.16" class="z7"/>
<rect x="19" y="4" width="1.16" height="1.16" class="z9"/>
<rect x="20" y="4" width="1.16" height="1.16" class="z6"/>
<rect x="21" y="4" width="1.16" height="1.16" class="z8"/>
<rect x="22" y="4" width="1.16" height="1.16" class="z7"/>
<rect x="23" y="4" width="1.16" height="1.16" class="z8"/>
<rect x="24" y="4" width="1.16" height="1.16" class="z6"/>
<rect x="25" y="4" width="1.16" height="1.16" class="z7"/>
<rect x="26" y="4" width="1.16" height="1.16" class="z7"/>
<rect x="27" y="4" width="1.16" height="1.16" class="z6"/>
<rect x="28" y="4" width="1.16" height="1.16" class="z7"/>
<rect x="29" y="4" width="1.16" height="1.16" class="z6"/>
<rect x="0" y="5" width="1.16" height="1.16" class="z4"/>
<rect x="1" y="5" width="1.16" height="1.16" class="z6"/>
<rect x="2" y="5" width="1.16" height="1.16" class="z6"/>
<rect x="3" y="5" width="1.16" height="1.16" class="z6"/>
<rect x="4" y="5" width="1.16" height="1.16" class="z6"/>
<rect x="5" y="5" width="1.16" height="1.16" class="z4"/>
<rect x="6" y="5" width="1.16" height="1.16" class="z8"/>
<rect x="7" y="5" width="1.16" height="1.16" class="z6"/>
<rect x="8" y="5" width="1.16" height="1.16" class="z3"/>
<rect x="9" y="5" width="1.16" height="1.16" class="z6"/>
<rect x="10" y="5" width="1.16" height="1.16" class="z6"/>
<rect x="11" y="5" width="1.16" height="1.16" class="z7"/>
<rect x="12" y="5" width="1.16" height="1.16" class="z7"/>
<rect x="13" y="5" width="1.16" height="1.16" class="z5"/>
<rect x="14" y="5" width="1.16" height="1.16" class="z6"/>
<rect x="15" y="5" width="1.16" height="1.16" class="z7"/>
<rect x="16" y="5" width="1.16" height="1.16" class="z6"/>
<rect x="17" y="5" width="1.16" height="1.16" class="z5"/>
<rect x="18" y="5" width="1.16" height="1.16" class="z6"/>
<rect x="19" y="5" width="1.16" height="1.16" class="z6"/>
<rect x="20" y="5" width="1.16" height="1.16" class="z4"/>
<rect x="21" y="5" width="1.16" height="1.16" class="z7"/>
<rect x="22" y="5" width="1.16" height="1.16" class="z5"/>
<rect x="23" y="5" width="1.16" height="1.16" class="z6"/>
<rect x="24" y="5" width="1.16" height="1.16" class="z3"/>
<rect x="25" y="5" width="1.16" height="1.16" class="z7"/>
<rect x="26" y="5" width="1.16" height="1.16" class="z6"/>
<rect x="27" y="5" width="1.16" height="1.16" class="z4"/>
<rect x="28" y="5" width="1.16" height="1.16" class="z5"/>
<rect x="29" y="5" width="1.16" height="1.16" class="z9"/>
<rect x="0" y="6" width="1.16" height="1.16" class="z7"/>
<rect x="1" y="6" width="1.16" height="1.16" class="z9"/>
<rect x="2" y="6" width="1.16" height="1.16" class="z6"/>
<rect x="3" y="6" width="1.16" height="1.16" class="z8"/>
<rect x="4" y="6" width="1.16" height="1.16" class="z7"/>
<rect x="5" y="6" width="1.16" height="1.16" class="z7"/>
<rect x="6" y="6" width="1.16" height="1.16" class="z3"/>
<rect x="7" y="6" width="1.16" height="1.16" class="z6"/>
<rect x="8" y="6" width="1.16" height="1.16" class="z6"/>
<rect x="9" y="6" width="1.16" height="1.16" class="z4"/>
<rect x="10" y="6" width="1.16" height="1.16" class="za"/>
<rect x="11" y="6" width="1.16" height="1.16" class="z4"/>
<rect x="12" y="6" width="1.16" height="1.16" class="z4"/>
<rect x="13" y="6" width="1.16" height="1.16" class="z7"/>
<rect x="14" y="6" width="1.16" height="1.16" class="z6"/>
<rect x="15" y="6" width="1.16" height="1.16" class="z7"/>
<rect x="16" y="6" width="1.16" height="1.16" class="z4"/>
<rect x="17" y="6" width="1.16" height="1.16" class="z8"/>
<rect x="18" y="6" width="1.16" height="1.16" class="z7"/>
<rect x="19" y="6" width="1.16" height="1.16" class="za"/>
<rect x="20" y="6" width="1.16" height="1.16" class="z9"/>
<rect x="21" y="6" width="1.16" height="1.16" class="z5"/>
<rect x="22" y="6" width="1.16" height="1.16" class="z3"/>
<rect x="23" y="6" width="1.16" height="1.16" class="z6"/>
<rect x="24" y="6" width="1.16" height="1.16" class="z3"/>
<rect x="25" y="6" width="1.16" height="1.16" class="z8"/>
<rect x="26" y="6" width="1.16" height="1.16" class="z4"/>
<rect x="27" y="6" width="1.16" height="1.16" class="z6"/>
<rect x="28" y="6" width="1.16" height="1.16" class="z7"/>
<rect x="29" y="6" width="1.16" height="1.16" class="z5"/>
<rect x="0" y="7" width="1.16" height="1.16" class="z7"/>
<rect x="1" y="7" width="1.16" height="1.16" class="z6"/>
<rect x="2" y="7" width="1.16" height="1.16" class="z7"/>
<rect x="3" y="7" width="1.16" height="1.16" class="z4"/>
<rect x="4" y="7" width="1.16" height="1.16" class="z5"/>
<rect x="5" y="7" width="1.16" height="1.16" class="z8"/>
<rect x="6" y="7" width="1.16" height="1.16" class="za"/>
<rect x="7" y="7" width="1.16" height="1.16" class="z7"/>
<rect x="8" y="7" width="1.16" height="1.16" class="z7"/>
<rect x="9" y="7" width="1.16" height="1.16" class="z4"/>
<rect x="10" y="7" width="1.16" height="1.16" class="z8"/>
<rect x="11" y="7" width="1.16" height="1.16" class="z5"/>
<rect x="12" y="7" width="1.16" height="1.16" class="zb"/>
<rect x="13" y="7" width="1.16" height="1.16" class="z6"/>
<rect x="14" y="7" width="1.16" height="1.16" class="z9"/>
<rect x="15" y="7" width="1.16" height="1.16" class="z8"/>
<rect x="16" y="7" width="1.16" height="1.16" class="z6"/>
<rect x="17" y="7" width="1.16" height="1.16" class="zb"/>
<rect x="18" y="7" width="1.16" height="1.16" class="za"/>
<rect x="19" y="7" width="1.16" height="1.16" class="z7"/>
<rect x="20" y="7" width="1.16" height="1.16" class="z8"/>
<rect x="21" y="7" width="1.16" height="1.16" class="z8"/>
<rect x="22" y="7" width="1.16" height="1.16" class="z7"/>
<rect x="23" y="7" width="1.16" height="1.16" class="z6"/>
<rect x="24" y="7" width="1.16" height="1.16" class="z8"/>
<rect x="25" y="7" width="1.16" height="1.16" class="z8"/>
<rect x="26" y="7" width="1.16" height="1.16" class="z6"/>
<rect x="27" y="7" width="1.16" height="1.16" class="zb"/>
<rect x="28" y="7" width="1.16" height="1.16" class="z9"/>
<rect x="29" y="7" width="1.16" height="1.16" class="z7"/>
<rect x="0" y="8" width="1.16" height="1.16" class="z4"/>
<rect x="1" y="8" width="1.16" height="1.16" class="z7"/>
<rect x="2" y="8" width="1.16" height="1.16" class="z6"/>
<rect x="3" y="8" width="1.16" height="1.16" class="z5"/>
<rect x="4" y="8" width="1.16" height="1.16" class="z6"/>
<rect x="5" y="8" width="1.16" height="1.16" class="z5"/>
<rect x="6" y="8" width="1.16" height="1.16" class="z7"/>
<rect x="7" y="8" width="1.16" height="1.16" class="z7"/>
<rect x="8" y="8" width="1.16" height="1.16" class="z7"/>
<rect x="9" y="8" width="1.16" height="1.16" class="za"/>
<rect x="10" y="8" width="1.16" height="1.16" class="z0"/>
<rect x="11" y="8" width="1.16" height="1.16" class="z5"/>
<rect x="12" y="8" width="1.16" height="1.16" class="z8"/>
<rect x="13" y="8" width="1.16" height="1.16" class="z5"/>
<rect x="14" y="8" width="1.16" height="1.16" class="z6"/>
<rect x="15" y="8" width="1.16" height="1.16" class="z5"/>
<rect x="16" y="8" width="1.16" height="1.16" class="z6"/>
<rect x="17" y="8" width="1.16" height="1.16" class="z7"/>
<rect x="18" y="8" width="1.16" height="1.16" class="za"/>
<rect x="19" y="8" width="1.16" height="1.16" class="z8"/>
<rect x="20" y="8" width="1.16" height="1.16" class="z6"/>
<rect x="21" y="8" width="1.16" height="1.16" class="z9"/>
<rect x="22" y="8" width="1.16" height="1.16" class="z5"/>
<rect x="23" y="8" width="1.16" height="1.16" class="z6"/>
<rect x="24" y="8" width="1.16" height="1.16" class="zb"/>
<rect x="25" y="8" width="1.16" height="1.16" class="z8"/>
<rect x="26" y="8" width="1.16" height="1.16" class="z3"/>
<rect x="27" y="8" width="1.16" height="1.16" class="z7"/>
<rect x="28" y="8" width="1.16" height="1.16" class="z6"/>
<rect x="29" y="8" width="1.16" height="1.16" class="z6"/>
<rect x="0" y="9" width="1.16" height="1.16" class="z6"/>
<rect x="1" y="9" width="1.16" height="1.16" class="z6"/>
<rect x="2" y="9" width="1.16" height="1.16" class="z4"/>
<rect x="3" y="9" width="1.16" height="1.16" class="z7"/>
<rect x="4" y="9" width="1.16" height="1.16" class="z5"/>
<rect x="5" y="9" width="1.16" height="1.16" class="z7"/>
<rect x="6" y="9" width="1.16" height="1.16" class="z8"/>
<rect x="7" y="9" width="1.16" height="1.16" class="z6"/>
<rect x="8" y="9" width="1.16" height="1.16" class="zb"/>
<rect x="9" y="9" width="1.16" height="1.16" class="z6"/>
<rect x="10" y="9" width="1.16" height="1.16" class="z6"/>
<rect x="11" y="9" width="1.16" height="1.16" class="z3"/>
<rect x="12" y="9" width="1.16" height="1.16" class="za"/>
<rect x="13" y="9" width="1.16" height="1.16" class="z6"/>
<rect x="14" y="9" width="1.16" height="1.16" class="zj"/>
<rect x="15" y="9" width="1.16" height="1.16" class="z8"/>
<rect x="16" y="9" width="1.16" height="1.16" class="z6"/>
<rect x="17" y="9" width="1.16" height="1.16" class="zb"/>
<rect x="18" y="9" width="1.16" height="1.16" class="za"/>
<rect x="19" y="9" width="1.16" height="1.16" class="z5"/>
<rect x="20" y="9" width="1.16" height="1.16" class="z7"/>
<rect x="21" y="9" width="1.16" height="1.16" class="z6"/>
<rect x="22" y="9" width="1.16" height="1.16" class="z7"/>
<rect x="23" y="9" width="1.16" height="1.16" class="z6"/>
<rect x="24" y="9" width="1.16" height="1.16" class="z5"/>
<rect x="25" y="9" width="1.16" height="1.16" class="za"/>
<rect x="26" y="9" width="1.16" height="1.16" class="z5"/>
<rect x="27" y="9" width="1.16" height="1.16" class="z6"/>
<rect x="28" y="9" width="1.16" height="1.16" class="z9"/>
<rect x="29" y="9" width="1.16" height="1.16" class="z6"/>
<rect x="0" y="10" width="1.16" height="1.16" class="z7"/>
<rect x="1" y="10" width="1.16" height="1.16" class="z6"/>
<rect x="2" y="10" width="1.16" height="1.16" class="z7"/>
<rect x="3" y="10" width="1.16" height="1.16" class="z5"/>
<rect x="4" y="10" width="1.16" height="1.16" class="z5"/>
<rect x="5" y="10" width="1.16" height="1.16" class="z7"/>
<rect x="6" y="10" width="1.16" height="1.16" class="z6"/>
<rect x="7" y="10" width="1.16" height="1.16" class="z6"/>
<rect x="8" y="10" width="1.16" height="1.16" class="z8"/>
<rect x="9" y="10" width="1.16" height="1.16" class="z4"/>
<rect x="10" y="10" width="1.16" height="1.16" class="z4"/>
<rect x="11" y="10" width="1.16" height="1.16" class="z9"/>
<rect x="12" y="10" width="1.16" height="1.16" class="z6"/>
<rect x="13" y="10" width="1.16" height="1.16" class="z7"/>
<rect x="14" y="10" width="1.16" height="1.16" class="z7"/>
<rect x="15" y="10" width="1.16" height="1.16" class="z7"/>
<rect x="16" y="10" width="1.16" height="1.16" class="z5"/>
<rect x="17" y="10" width="1.16" height="1.16" class="z6"/>
<rect x="18" y="10" width="1.16" height="1.16" class="z6"/>
<rect x="19" y="10" width="1.16" height="1.16" class="zd"/>
<rect x="20" y="10" width="1.16" height="1.16" class="z5"/>
<rect x="21" y="10" width="1.16" height="1.16" class="z5"/>
<rect x="22" y="10" width="1.16" height="1.16" class="z7"/>
<rect x="23" y="10" width="1.16" height="1.16" class="z6"/>
<rect x="24" y="10" width="1.16" height="1.16" class="z6"/>
<rect x="25" y="10" width="1.16" height="1.16" class="z7"/>
<rect x="26" y="10" width="1.16" height="1.16" class="z6"/>
<rect x="27" y="10" width="1.16" height="1.16" class="z6"/>
<rect x="28" y="10" width="1.16" height="1.16" class="z7"/>
<rect x="29" y="10" width="1.16" height="1.16" class="z6"/>
<rect x="0" y="11" width="1.16" height="1.16" class="z8"/>
<rect x="1" y="11" width="1.16" height="1.16" class="z5"/>
<rect x="2" y="11" width="1.16" height="1.16" class="z6"/>
<rect x="3" y="11" width="1.16" height="1.16" class="z8"/>
<rect x="4" y="11" width="1.16" height="1.16" class="z8"/>
<rect x="5" y="11" width="1.16" height="1.16" class="zb"/>
<rect x="6" y="11" width="1.16" height="1.16" class="z5"/>
<rect x="7" y="11" width="1.16" height="1.16" class="z5"/>
<rect x="8" y="11" width="1.16" height="1.16" class="z7"/>
<rect x="9" y="11" width="1.16" height="1.16" class="z9"/>
<rect x="10" y="11" width="1.16" height="1.16" class="z4"/>
<rect x="11" y="11" width="1.16" height="1.16" class="z6"/>
<rect x="12" y="11" width="1.16" height="1.16" class="z4"/>
<rect x="13" y="11" width="1.16" height="1.16" class="z3"/>
<rect x="14" y="11" width="1.16" height="1.16" class="z7"/>
<rect x="15" y="11" width="1.16" height="1.16" class="z6"/>
<rect x="16" y="11" width="1.16" height="1.16" class="z8"/>
<rect x="17" y="11" width="1.16" height="1.16" class="z6"/>
<rect x="18" y="11" width="1.16" height="1.16" class="z5"/>
<rect x="19" y="11" width="1.16" height="1.16" class="zb"/>
<rect x="20" y="11" width="1.16" height="1.16" class="z4"/>
<rect x="21" y="11" width="1.16" height="1.16" class="z7"/>
<rect x="22" y="11" width="1.16" height="1.16" class="z6"/>
<rect x="23" y="11" width="1.16" height="1.16" class="za"/>
<rect x="24" y="11" width="1.16" height="1.16" class="z8"/>
<rect x="25" y="11" width="1.16" height="1.16" class="z7"/>
<rect x="26" y="11" width="1.16" height="1.16" class="z5"/>
<rect x="27" y="11" width="1.16" height="1.16" class="z7"/>
<rect x="28" y="11" width="1.16" height="1.16" class="z6"/>
<rect x="29" y="11" width="1.16" height="1.16" class="z4"/>
<rect x="0" y="12" width="1.16" height="1.16" class="z6"/>
<rect x="1" y="12" width="1.16" height="1.16" class="z7"/>
<rect x="2" y="12" width="1.16" height="1.16" class="z7"/>
<rect x="3" y="12" width="1.16" height="1.16" class="z8"/>
<rect x="4" y="12" width="1.16" height="1.16" class="z6"/>
<rect x="5" y="12" width="1.16" height="1.16" class="z6"/>
<rect x="6" y="12" width="1.16" height="1.16" class="z9"/>
<rect x="7" y="12" width="1.16" height="1.16" class="z7"/>
<rect x="8" y="12" width="1.16" height="1.16" class="za"/>
<rect x="9" y="12" width="1.16" height="1.16" class="za"/>
<rect x="10" y="12" width="1.16" height="1.16" class="z6"/>
<rect x="11" y="12" width="1.16" height="1.16" class="z9"/>
<rect x="12" y="12" width="1.16" height="1.16" class="z7"/>
<rect x="13" y="12" width="1.16" height="1.16" class="z6"/>
<rect x="14" y="12" width="1.16" height="1.16" class="zb"/>
<rect x="15" y="12" width="1.16" height="1.16" class="z3"/>
<rect x="16" y="12" width="1.16" height="1.16" class="z7"/>
<rect x="17" y="12" width="1.16" height="1.16" class="z6"/>
<rect x="18" y="12" width="1.16" height="1.16" class="z7"/>
<rect x="19" y="12" width="1.16" height="1.16" class="z4"/>
<rect x="20" y="12" width="1.16" height="1.16" class="z6"/>
<rect x="21" y="12" width="1.16" height="1.16" class="z6"/>
<rect x="22" y="12" width="1.16" height="1.16" class="z8"/>
<rect x="23" y="12" width="1.16" height="1.16" class="zc"/>
<rect x="24" y="12" width="1.16" height="1.16" class="zc"/>
<rect x="25" y="12" width="1.16" height="1.16" class="za"/>
<rect x="26" y="12" width="1.16" height="1.16" class="za"/>
<rect x="27" y="12" width="1.16" height="1.16" class="z7"/>
<rect x="28" y="12" width="1.16" height="1.16" class="z8"/>
<rect x="29" y="12" width="1.16" height="1.16" class="z6"/>
<rect x="0" y="13" width="1.16" height="1.16" class="z4"/>
<rect x="1" y="13" width="1.16" height="1.16" class="z7"/>
<rect x="2" y="13" width="1.16" height="1.16" class="z7"/>
<rect x="3" y="13" width="1.16" height="1.16" class="za"/>
<rect x="4" y="13" width="1.16" height="1.16" class="z6"/>
<rect x="5" y="13" width="1.16" height="1.16" class="z6"/>
<rect x="6" y="13" width="1.16" height="1.16" class="z4"/>
<rect x="7" y="13" width="1.16" height="1.16" class="z9"/>
<rect x="8" y="13" width="1.16" height="1.16" class="z4"/>
<rect x="9" y="13" width="1.16" height="1.16" class="za"/>
<rect x="10" y="13" width="1.16" height="1.16" class="z7"/>
<rect x="11" y="13" width="1.16" height="1.16" class="z7"/>
<rect x="12" y="13" width="1.16" height="1.16" class="z7"/>
<rect x="13" y="13" width="1.16" height="1.16" class="z9"/>
<rect x="14" y="13" width="1.16" height="1.16" class="z5"/>
<rect x="15" y="13" width="1.16" height="1.16" class="z5"/>
<rect x="16" y="13" width="1.16" height="1.16" class="z8"/>
<rect x="17" y="13" width="1.16" height="1.16" class="z3"/>
<rect x="18" y="13" width="1.16" height="1.16" class="za"/>
<rect x="19" y="13" width="1.16" height="1.16" class="z8"/>
<rect x="20" y="13" width="1.16" height="1.16" class="z7"/>
<rect x="21" y="13" width="1.16" height="1.16" class="z8"/>
<rect x="22" y="13" width="1.16" height="1.16" class="z5"/>
<rect x="23" y="13" width="1.16" height="1.16" class="z6"/>
<rect x="24" y="13" width="1.16" height="1.16" class="za"/>
<rect x="25" y="13" width="1.16" height="1.16" class="z7"/>
<rect x="26" y="13" width="1.16" height="1.16" class="z7"/>
<rect x="27" y="13" width="1.16" height="1.16" class="z5"/>
<rect x="28" y="13" width="1.16" height="1.16" class="z7"/>
<rect x="29" y="13" width="1.16" height="1.16" class="z7"/>
<rect x="0" y="14" width="1.16" height="1.16" class="za"/>
<rect x="1" y="14" width="1.16" height="1.16" class="z9"/>
<rect x="2" y="14" width="1.16" height="1.16" class="z5"/>
<rect x="3" y="14" width="1.16" height="1.16" class="z8"/>
<rect x="4" y="14" width="1.16" height="1.16" class="z6"/>
<rect x="5" y="14" width="1.16" height="1.16" class="z7"/>
<rect x="6" y="14" width="1.16" height="1.16" class="z7"/>
<rect x="7" y="14" width="1.16" height="1.16" class="z6"/>
<rect x="8" y="14" width="1.16" height="1.16" class="z6"/>
<rect x="9" y="14" width="1.16" height="1.16" class="z6"/>
<rect x="10" y="14" width="1.16" height="1.16" class="z7"/>
<rect x="11" y="14" width="1.16" height="1.16" class="z6"/>
<rect x="12" y="14" width="1.16" height="1.16" class="z4"/>
<rect x="13" y="14" width="1.16" height="1.16" class="z7"/>
<rect x="14" y="14" width="1.16" height="1.16" class="z7"/>
<rect x="15" y="14" width="1.16" height="1.16" class="z8"/>
<rect x="16" y="14" width="1.16" height="1.16" class="z9"/>
<rect x="17" y="14" width="1.16" height="1.16" class="z7"/>
<rect x="18" y="14" width="1.16" height="1.16" class="zc"/>
<rect x="19" y="14" width="1.16" height="1.16" class="z5"/>
<rect x="20" y="14" width="1.16" height="1.16" class="za"/>
<rect x="21" y="14" width="1.16" height="1.16" class="z6"/>
<rect x="22" y="14" width="1.16" height="1.16" class="z3"/>
<rect x="23" y="14" width="1.16" height="1.16" class="z5"/>
<rect x="24" y="14" width="1.16" height="1.16" class="za"/>
<rect x="25" y="14" width="1.16" height="1.16" class="z7"/>
<rect x="26" y="14" width="1.16" height="1.16" class="z6"/>
<rect x="27" y="14" width="1.16" height="1.16" class="z3"/>
<rect x="28" y="14" width="1.16" height="1.16" class="za"/>
<rect x="29" y="14" width="1.16" height="1.16" class="z8"/>
<rect x="0" y="15" width="1.16" height="1.16" class="z7"/>
<rect x="1" y="15" width="1.16" height="1.16" class="zb"/>
<rect x="2" y="15" width="1.16" height="1.16" class="z6"/>
<rect x="3" y="15" width="1.16" height="1.16" class="zb"/>
<rect x="4" y="15" width="1.16" height="1.16" class="zb"/>
<rect x="5" y="15" width="1.16" height="1.16" class="z4"/>
<rect x="6" y="15" width="1.16" height="1.16" class="za"/>
<rect x="7" y="15" width="1.16" height="1.16" class="z7"/>
<rect x="8" y="15" width="1.16" height="1.16" class="z8"/>
<rect x="9" y="15" width="1.16" height="1.16" class="z6"/>
<rect x="10" y="15" width="1.16" height="1.16" class="zb"/>
<rect x="11" y="15" width="1.16" height="1.16" class="z6"/>
<rect x="12" y="15" width="1.16" height="1.16" class="z6"/>
<rect x="13" y="15" width="1.16" height="1.16" class="z6"/>
<rect x="14" y="15" width="1.16" height="1.16" class="z5"/>
<rect x="15" y="15" width="1.16" height="1.16" class="z3"/>
<rect x="16" y="15" width="1.16" height="1.16" class="z8"/>
<rect x="17" y="15" width="1.16" height="1.16" class="z7"/>
<rect x="18" y="15" width="1.16" height="1.16" class="za"/>
<rect x="19" y="15" width="1.16" height="1.16" class="z6"/>
<rect x="20" y="15" width="1.16" height="1.16" class="zb"/>
<rect x="21" y="15" width="1.16" height="1.16" class="z5"/>
<rect x="22" y="15" width="1.16" height="1.16" class="z8"/>
<rect x="23" y="15" width="1.16" height="1.16" class="z4"/>
<rect x="24" y="15" width="1.16" height="1.16" class="z6"/>
<rect x="25" y="15" width="1.16" height="1.16" class="z3"/>
<rect x="26" y="15" width="1.16" height="1.16" class="z7"/>
<rect x="27" y="15" width="1.16" height="1.16" class="z7"/>
<rect x="28" y="15" width="1.16" height="1.16" class="z5"/>
<rect x="29" y="15" width="1.16" height="1.16" class="z6"/>
<rect x="0" y="16" width="1.16" height="1.16" class="z5"/>
<rect x="1" y="16" width="1.16" height="1.16" class="z7"/>
<rect x="2" y="16" width="1.16" height="1.16" class="z7"/>
<rect x="3" y="16" width="1.16" height="1.16" class="zb"/>
<rect x="4" y="16" width="1.16" height="1.16" class="z7"/>
<rect x="5" y="16" width="1.16" height="1.16" class="z8"/>
<rect x="6" y="16" width="1.16" height="1.16" class="za"/>
<rect x="7" y="16" width="1.16" height="1.16" class="z7"/>
<rect x="8" y="16" width="1.16" height="1.16" class="z8"/>
<rect x="9" y="16" width="1.16" height="1.16" class="z6"/>
<rect x="10" y="16" width="1.16" height="1.16" class="z8"/>
<rect x="11" y="16" width="1.16" height="1.16" class="zb"/>
<rect x="12" y="16" width="1.16" height="1.16" class="za"/>
<rect x="13" y="16" width="1.16" height="1.16" class="za"/>
<rect x="14" y="16" width="1.16" height="1.16" class="zb"/>
<rect x="15" y="16" width="1.16" height="1.16" class="z9"/>
<rect x="16" y="16" width="1.16" height="1.16" class="z7"/>
<rect x="17" y="16" width="1.16" height="1.16" class="z6"/>
<rect x="18" y="16" width="1.16" height="1.16" class="z6"/>
<rect x="19" y="16" width="1.16" height="1.16" class="z8"/>
<rect x="20" y="16" width="1.16" height="1.16" class="z7"/>
<rect x="21" y="16" width="1.16" height="1.16" class="za"/>
<rect x="22" y="16" width="1.16" height="1.16" class="z7"/>
<rect x="23" y="16" width="1.16" height="1.16" class="za"/>
<rect x="24" y="16" width="1.16" height="1.16" class="z9"/>
<rect x="25" y="16" width="1.16" height="1.16" class="za"/>
<rect x="26" y="16" width="1.16" height="1.16" class="z3"/>
<rect x="27" y="16" width="1.16" height="1.16" class="zb"/>
<rect x="28" y="16" width="1.16" height="1.16" class="zc"/>
<rect x="29" y="16" width="1.16" height="1.16" class="zc"/>
<rect x="0" y="17" width="1.16" height="1.16" class="z7"/>
<rect x="1" y="17" width="1.16" height="1.16" class="za"/>
<rect x="2" y="17" width="1.16" height="1.16" class="zd"/>
<rect x="3" y="17" width="1.16" height="1.16" class="za"/>
<rect x="4" y="17" width="1.16" height="1.16" class="z7"/>
<rect x="5" y="17" width="1.16" height="1.16" class="z9"/>
<rect x="6" y="17" width="1.16" height="1.16" class="z7"/>
<rect x="7" y="17" width="1.16" height="1.16" class="zb"/>
<rect x="8" y="17" width="1.16" height="1.16" class="z9"/>
<rect x="9" y="17" width="1.16" height="1.16" class="zd"/>
<rect x="10" y="17" width="1.16" height="1.16" class="ze"/>
<rect x="11" y="17" width="1.16" height="1.16" class="z8"/>
<rect x="12" y="17" width="1.16" height="1.16" class="z9"/>
<rect x="13" y="17" width="1.16" height="1.16" class="za"/>
<rect x="14" y="17" width="1.16" height="1.16" class="z8"/>
<rect x="15" y="17" width="1.16" height="1.16" class="z8"/>
<rect x="16" y="17" width="1.16" height="1.16" class="z7"/>
<rect x="17" y="17" width="1.16" height="1.16" class="ze"/>
<rect x="18" y="17" width="1.16" height="1.16" class="z7"/>
<rect x="19" y="17" width="1.16" height="1.16" class="zc"/>
<rect x="20" y="17" width="1.16" height="1.16" class="ze"/>
<rect x="21" y="17" width="1.16" height="1.16" class="z8"/>
<rect x="22" y="17" width="1.16" height="1.16" class="zc"/>
<rect x="23" y="17" width="1.16" height="1.16" class="zb"/>
<rect x="24" y="17" width="1.16" height="1.16" class="z5"/>
<rect x="25" y="17" width="1.16" height="1.16" class="za"/>
<rect x="26" y="17" width="1.16" height="1.16" class="za"/>
<rect x="27" y="17" width="1.16" height="1.16" class="zb"/>
<rect x="28" y="17" width="1.16" height="1.16" class="za"/>
<rect x="29" y="17" width="1.16" height="1.16" class="z7"/>
<rect x="0" y="18" width="1.16" height="1.16" class="z8"/>
<rect x="1" y="18" width="1.16" height="1.16" class="zb"/>
<rect x="2" y="18" width="1.16" height="1.16" class="zd"/>
<rect x="3" y="18" width="1.16" height="1.16" class="zd"/>
<rect x="4" y="18" width="1.16" height="1.16" class="zc"/>
<rect x="5" y="18" width="1.16" height="1.16" class="zb"/>
<rect x="6" y="18" width="1.16" height="1.16" class="za"/>
<rect x="7" y="18" width="1.16" height="1.16" class="z7"/>
<rect x="8" y="18" width="1.16" height="1.16" class="z9"/>
<rect x="9" y="18" width="1.16" height="1.16" class="zb"/>
<rect x="10" y="18" width="1.16" height="1.16" class="z9"/>
<rect x="11" y="18" width="1.16" height="1.16" class="ze"/>
<rect x="12" y="18" width="1.16" height="1.16" class="zf"/>
<rect x="13" y="18" width="1.16" height="1.16" class="za"/>
<rect x="14" y="18" width="1.16" height="1.16" class="z8"/>
<rect x="15" y="18" width="1.16" height="1.16" class="za"/>
<rect x="16" y="18" width="1.16" height="1.16" class="z8"/>
<rect x="17" y="18" width="1.16" height="1.16" class="z9"/>
<rect x="18" y="18" width="1.16" height="1.16" class="za"/>
<rect x="19" y="18" width="1.16" height="1.16" class="z8"/>
<rect x="20" y="18" width="1.16" height="1.16" class="za"/>
<rect x="21" y="18" width="1.16" height="1.16" class="zd"/>
<rect x="22" y="18" width="1.16" height="1.16" class="za"/>
<rect x="23" y="18" width="1.16" height="1.16" class="zd"/>
<rect x="24" y="18" width="1.16" height="1.16" class="zb"/>
<rect x="25" y="18" width="1.16" height="1.16" class="zb"/>
<rect x="26" y="18" width="1.16" height="1.16" class="zf"/>
<rect x="27" y="18" width="1.16" height="1.16" class="ze"/>
<rect x="28" y="18" width="1.16" height="1.16" class="zb"/>
<rect x="29" y="18" width="1.16" height="1.16" class="zi"/>
<rect x="0" y="19" width="1.16" height="1.16" class="zg"/>
<rect x="1" y="19" width="1.16" height="1.16" class="zf"/>
<rect x="2" y="19" width="1.16" height="1.16" class="zd"/>
<rect x="3" y="19" width="1.16" height="1.16" class="za"/>
<rect x="4" y="19" width="1.16" height="1.16" class="zc"/>
<rect x="5" y="19" width="1.16" height="1.16" class="zf"/>
<rect x="6" y="19" width="1.16" height="1.16" class="ze"/>
<rect x="7" y="19" width="1.16" height="1.16" class="zc"/>
<rect x="8" y="19" width="1.16" height="1.16" class="zc"/>
<rect x="9" y="19" width="1.16" height="1.16" class="zf"/>
<rect x="10" y="19" width="1.16" height="1.16" class="zd"/>
<rect x="11" y="19" width="1.16" height="1.16" class="zf"/>
<rect x="12" y="19" width="1.16" height="1.16" class="zg"/>
<rect x="13" y="19" width="1.16" height="1.16" class="zh"/>
<rect x="14" y="19" width="1.16" height="1.16" class="zd"/>
<rect x="15" y="19" width="1.16" height="1.16" class="zf"/>
<rect x="16" y="19" width="1.16" height="1.16" class="zc"/>
<rect x="17" y="19" width="1.16" height="1.16" class="zk"/>
<rect x="18" y="19" width="1.16" height="1.16" class="zh"/>
<rect x="19" y="19" width="1.16" height="1.16" class="ze"/>
<rect x="20" y="19" width="1.16" height="1.16" class="zf"/>
<rect x="21" y="19" width="1.16" height="1.16" class="zc"/>
<rect x="22" y="19" width="1.16" height="1.16" class="zg"/>
<rect x="23" y="19" width="1.16" height="1.16" class="zc"/>
<rect x="24" y="19" width="1.16" height="1.16" class="ze"/>
<rect x="25" y="19" width="1.16" height="1.16" class="ze"/>
<rect x="26" y="19" width="1.16" height="1.16" class="zd"/>
<rect x="27" y="19" width="1.16" height="1.16" class="zh"/>
<rect x="28" y="19" width="1.16" height="1.16" class="ze"/>
<rect x="29" y="19" width="1.16" height="1.16" class="zc"/>
</g></g>
<rect x="382.2" y="9.4" width="274.5" height="241.4" fill="none" stroke="#c4c4c4" stroke-width="0.8"/>
<path d="M423.38 250.8v-2.8M423.38 9.4v2.8M469.12 250.8v-2.8M469.12 9.4v2.8M514.88 250.8v-2.8M514.88 9.4v2.8M560.62 250.8v-2.8M560.62 9.4v2.8M606.38 250.8v-2.8M606.38 9.4v2.8M652.12 250.8v-2.8M652.12 9.4v2.8M382.2 226.37h2.8M656.7 226.37h-2.8M382.2 180.67h2.8M656.7 180.67h-2.8M382.2 134.97h2.8M656.7 134.97h-2.8M382.2 89.27h2.8M656.7 89.27h-2.8M382.2 43.57h2.8M656.7 43.57h-2.8" stroke="#777" stroke-width="0.6" fill="none"/>
<text x="423.38" y="260.6" text-anchor="middle" class="tk">5</text>
<text x="469.12" y="260.6" text-anchor="middle" class="tk">10</text>
<text x="514.88" y="260.6" text-anchor="middle" class="tk">15</text>
<text x="560.62" y="260.6" text-anchor="middle" class="tk">20</text>
<text x="606.38" y="260.6" text-anchor="middle" class="tk">25</text>
<text x="652.12" y="260.6" text-anchor="middle" class="tk">30</text>
<text x="379.9" y="229.47" text-anchor="end" class="tky">0</text>
<text x="379.9" y="183.77" text-anchor="end" class="tky">5</text>
<text x="379.9" y="138.07" text-anchor="end" class="tky">10</text>
<text x="379.9" y="92.37" text-anchor="end" class="tky">15</text>
<text x="379.9" y="46.67" text-anchor="end" class="tky">20</text>
<text x="519.45" y="270.4" text-anchor="middle" class="lb">Number of Runs</text>
<text transform="translate(368.9 130.1) rotate(-90)" text-anchor="middle" class="lb">Number of Neurons</text>
<text x="415.2" y="6.6" class="ti" textLength="207.3" lengthAdjust="spacingAndGlyphs">Heatmap for results of MSE for train dataset with FDA</text>
<text x="386.9" y="20" class="an" textLength="123.2" lengthAdjust="spacingAndGlyphs">Best number of neurons=12</text>
<text x="525.8" y="20" class="an" textLength="129.6" lengthAdjust="spacingAndGlyphs">MSE for Train dataset=0.0192</text>
<text x="459.5" y="32.8" class="r2">R</text>
<text x="467.4" y="28.6" class="sup">2</text>
<text x="473.4" y="32.8" class="an" textLength="107.8" lengthAdjust="spacingAndGlyphs">for Train dataset=0.9382</text>
<rect x="659.5" y="9.4" width="6.6" height="241.7" fill="url(#par)"/>
<rect x="659.5" y="9.4" width="6.6" height="241.7" fill="none" stroke="#c4c4c4" stroke-width="0.6"/>
<path d="M666.1 246.5h-2.6" stroke="#555" stroke-width="0.6"/>
<text x="667.7" y="249.25" class="cbt" textLength="12.91" lengthAdjust="spacingAndGlyphs">0.02</text>
<path d="M666.1 211.93h-2.6" stroke="#555" stroke-width="0.6"/>
<text x="667.7" y="214.68" class="cbt" textLength="16.6" lengthAdjust="spacingAndGlyphs">0.025</text>
<path d="M666.1 177.36h-2.6" stroke="#555" stroke-width="0.6"/>
<text x="667.7" y="180.11" class="cbt" textLength="12.91" lengthAdjust="spacingAndGlyphs">0.03</text>
<path d="M666.1 142.79h-2.6" stroke="#555" stroke-width="0.6"/>
<text x="667.7" y="145.54" class="cbt" textLength="16.6" lengthAdjust="spacingAndGlyphs">0.035</text>
<path d="M666.1 108.22h-2.6" stroke="#555" stroke-width="0.6"/>
<text x="667.7" y="110.97" class="cbt" textLength="12.91" lengthAdjust="spacingAndGlyphs">0.04</text>
<path d="M666.1 73.65h-2.6" stroke="#555" stroke-width="0.6"/>
<text x="667.7" y="76.4" class="cbt" textLength="16.6" lengthAdjust="spacingAndGlyphs">0.045</text>
<path d="M666.1 39.08h-2.6" stroke="#555" stroke-width="0.6"/>
<text x="667.7" y="41.83" class="cbt" textLength="12.91" lengthAdjust="spacingAndGlyphs">0.05</text>
<ellipse cx="478.7" cy="115" rx="9.2" ry="8.4" fill="none" stroke="#f00" stroke-width="2.8"/>
<path d="M477.7 105.2L445.16 36.16" stroke="#f00" stroke-width="1.55"/>
<path d="M443.2 32L447.06 35.27L443.26 37.06Z" fill="#f00"/>
<rect x="20.6" y="320.2" width="274.6" height="240.9" fill="#fff"/>
<clipPath id="cGNDO"><rect x="20.6" y="349.1" width="274.4" height="182.7"/></clipPath>
<filter id="fGNDO" filterUnits="userSpaceOnUse" x="20.6" y="349.1" width="274.4" height="182.7"><feGaussianBlur stdDeviation="0.45" edgeMode="duplicate"/></filter>
<g clip-path="url(#cGNDO)" filter="url(#fGNDO)"><g transform="translate(20.6 349.1) scale(9.1467 9.1350)">
<rect x="0" y="0" width="1.16" height="1.16" class="z6"/>
<rect x="1" y="0" width="1.16" height="1.16" class="z5"/>
<rect x="2" y="0" width="1.16" height="1.16" class="z6"/>
<rect x="3" y="0" width="1.16" height="1.16" class="z6"/>
<rect x="4" y="0" width="1.16" height="1.16" class="z5"/>
<rect x="5" y="0" width="1.16" height="1.16" class="z7"/>
<rect x="6" y="0" width="1.16" height="1.16" class="z4"/>
<rect x="7" y="0" width="1.16" height="1.16" class="z4"/>
<rect x="8" y="0" width="1.16" height="1.16" class="z7"/>
<rect x="9" y="0" width="1.16" height="1.16" class="z6"/>
<rect x="10" y="0" width="1.16" height="1.16" class="z4"/>
<rect x="11" y="0" width="1.16" height="1.16" class="z6"/>
<rect x="12" y="0" width="1.16" height="1.16" class="z6"/>
<rect x="13" y="0" width="1.16" height="1.16" class="z4"/>
<rect x="14" y="0" width="1.16" height="1.16" class="z8"/>
<rect x="15" y="0" width="1.16" height="1.16" class="z5"/>
<rect x="16" y="0" width="1.16" height="1.16" class="z4"/>
<rect x="17" y="0" width="1.16" height="1.16" class="z5"/>
<rect x="18" y="0" width="1.16" height="1.16" class="z5"/>
<rect x="19" y="0" width="1.16" height="1.16" class="z7"/>
<rect x="20" y="0" width="1.16" height="1.16" class="z6"/>
<rect x="21" y="0" width="1.16" height="1.16" class="z4"/>
<rect x="22" y="0" width="1.16" height="1.16" class="z5"/>
<rect x="23" y="0" width="1.16" height="1.16" class="z6"/>
<rect x="24" y="0" width="1.16" height="1.16" class="z5"/>
<rect x="25" y="0" width="1.16" height="1.16" class="z5"/>
<rect x="26" y="0" width="1.16" height="1.16" class="z8"/>
<rect x="27" y="0" width="1.16" height="1.16" class="z5"/>
<rect x="28" y="0" width="1.16" height="1.16" class="z5"/>
<rect x="29" y="0" width="1.16" height="1.16" class="z6"/>
<rect x="0" y="1" width="1.16" height="1.16" class="z6"/>
<rect x="1" y="1" width="1.16" height="1.16" class="z6"/>
<rect x="2" y="1" width="1.16" height="1.16" class="z5"/>
<rect x="3" y="1" width="1.16" height="1.16" class="z4"/>
<rect x="4" y="1" width="1.16" height="1.16" class="z6"/>
<rect x="5" y="1" width="1.16" height="1.16" class="z7"/>
<rect x="6" y="1" width="1.16" height="1.16" class="z7"/>
<rect x="7" y="1" width="1.16" height="1.16" class="z4"/>
<rect x="8" y="1" width="1.16" height="1.16" class="z6"/>
<rect x="9" y="1" width="1.16" height="1.16" class="z7"/>
<rect x="10" y="1" width="1.16" height="1.16" class="z6"/>
<rect x="11" y="1" width="1.16" height="1.16" class="z6"/>
<rect x="12" y="1" width="1.16" height="1.16" class="z5"/>
<rect x="13" y="1" width="1.16" height="1.16" class="z5"/>
<rect x="14" y="1" width="1.16" height="1.16" class="z5"/>
<rect x="15" y="1" width="1.16" height="1.16" class="z6"/>
<rect x="16" y="1" width="1.16" height="1.16" class="z7"/>
<rect x="17" y="1" width="1.16" height="1.16" class="z5"/>
<rect x="18" y="1" width="1.16" height="1.16" class="z3"/>
<rect x="19" y="1" width="1.16" height="1.16" class="z4"/>
<rect x="20" y="1" width="1.16" height="1.16" class="z5"/>
<rect x="21" y="1" width="1.16" height="1.16" class="z6"/>
<rect x="22" y="1" width="1.16" height="1.16" class="z6"/>
<rect x="23" y="1" width="1.16" height="1.16" class="z7"/>
<rect x="24" y="1" width="1.16" height="1.16" class="z3"/>
<rect x="25" y="1" width="1.16" height="1.16" class="z4"/>
<rect x="26" y="1" width="1.16" height="1.16" class="z6"/>
<rect x="27" y="1" width="1.16" height="1.16" class="z4"/>
<rect x="28" y="1" width="1.16" height="1.16" class="z6"/>
<rect x="29" y="1" width="1.16" height="1.16" class="z5"/>
<rect x="0" y="2" width="1.16" height="1.16" class="z5"/>
<rect x="1" y="2" width="1.16" height="1.16" class="z6"/>
<rect x="2" y="2" width="1.16" height="1.16" class="z7"/>
<rect x="3" y="2" width="1.16" height="1.16" class="z6"/>
<rect x="4" y="2" width="1.16" height="1.16" class="z5"/>
<rect x="5" y="2" width="1.16" height="1.16" class="z6"/>
<rect x="6" y="2" width="1.16" height="1.16" class="z6"/>
<rect x="7" y="2" width="1.16" height="1.16" class="z6"/>
<rect x="8" y="2" width="1.16" height="1.16" class="z5"/>
<rect x="9" y="2" width="1.16" height="1.16" class="z6"/>
<rect x="10" y="2" width="1.16" height="1.16" class="z4"/>
<rect x="11" y="2" width="1.16" height="1.16" class="z7"/>
<rect x="12" y="2" width="1.16" height="1.16" class="z6"/>
<rect x="13" y="2" width="1.16" height="1.16" class="z4"/>
<rect x="14" y="2" width="1.16" height="1.16" class="z5"/>
<rect x="15" y="2" width="1.16" height="1.16" class="z7"/>
<rect x="16" y="2" width="1.16" height="1.16" class="z5"/>
<rect x="17" y="2" width="1.16" height="1.16" class="z7"/>
<rect x="18" y="2" width="1.16" height="1.16" class="z6"/>
<rect x="19" y="2" width="1.16" height="1.16" class="z6"/>
<rect x="20" y="2" width="1.16" height="1.16" class="z4"/>
<rect x="21" y="2" width="1.16" height="1.16" class="z6"/>
<rect x="22" y="2" width="1.16" height="1.16" class="z6"/>
<rect x="23" y="2" width="1.16" height="1.16" class="z8"/>
<rect x="24" y="2" width="1.16" height="1.16" class="z5"/>
<rect x="25" y="2" width="1.16" height="1.16" class="z6"/>
<rect x="26" y="2" width="1.16" height="1.16" class="z5"/>
<rect x="27" y="2" width="1.16" height="1.16" class="z8"/>
<rect x="28" y="2" width="1.16" height="1.16" class="z7"/>
<rect x="29" y="2" width="1.16" height="1.16" class="z5"/>
<rect x="0" y="3" width="1.16" height="1.16" class="z5"/>
<rect x="1" y="3" width="1.16" height="1.16" class="z4"/>
<rect x="2" y="3" width="1.16" height="1.16" class="z6"/>
<rect x="3" y="3" width="1.16" height="1.16" class="z6"/>
<rect x="4" y="3" width="1.16" height="1.16" class="z5"/>
<rect x="5" y="3" width="1.16" height="1.16" class="z5"/>
<rect x="6" y="3" width="1.16" height="1.16" class="z5"/>
<rect x="7" y="3" width="1.16" height="1.16" class="z5"/>
<rect x="8" y="3" width="1.16" height="1.16" class="z7"/>
<rect x="9" y="3" width="1.16" height="1.16" class="z7"/>
<rect x="10" y="3" width="1.16" height="1.16" class="z3"/>
<rect x="11" y="3" width="1.16" height="1.16" class="z7"/>
<rect x="12" y="3" width="1.16" height="1.16" class="z4"/>
<rect x="13" y="3" width="1.16" height="1.16" class="z5"/>
<rect x="14" y="3" width="1.16" height="1.16" class="z5"/>
<rect x="15" y="3" width="1.16" height="1.16" class="z6"/>
<rect x="16" y="3" width="1.16" height="1.16" class="z4"/>
<rect x="17" y="3" width="1.16" height="1.16" class="z4"/>
<rect x="18" y="3" width="1.16" height="1.16" class="z6"/>
<rect x="19" y="3" width="1.16" height="1.16" class="z5"/>
<rect x="20" y="3" width="1.16" height="1.16" class="z6"/>
<rect x="21" y="3" width="1.16" height="1.16" class="z4"/>
<rect x="22" y="3" width="1.16" height="1.16" class="z6"/>
<rect x="23" y="3" width="1.16" height="1.16" class="z5"/>
<rect x="24" y="3" width="1.16" height="1.16" class="z6"/>
<rect x="25" y="3" width="1.16" height="1.16" class="z5"/>
<rect x="26" y="3" width="1.16" height="1.16" class="z7"/>
<rect x="27" y="3" width="1.16" height="1.16" class="z3"/>
<rect x="28" y="3" width="1.16" height="1.16" class="z6"/>
<rect x="29" y="3" width="1.16" height="1.16" class="z4"/>
<rect x="0" y="4" width="1.16" height="1.16" class="z5"/>
<rect x="1" y="4" width="1.16" height="1.16" class="z8"/>
<rect x="2" y="4" width="1.16" height="1.16" class="z6"/>
<rect x="3" y="4" width="1.16" height="1.16" class="z7"/>
<rect x="4" y="4" width="1.16" height="1.16" class="z6"/>
<rect x="5" y="4" width="1.16" height="1.16" class="z5"/>
<rect x="6" y="4" width="1.16" height="1.16" class="z7"/>
<rect x="7" y="4" width="1.16" height="1.16" class="z6"/>
<rect x="8" y="4" width="1.16" height="1.16" class="z4"/>
<rect x="9" y="4" width="1.16" height="1.16" class="z4"/>
<rect x="10" y="4" width="1.16" height="1.16" class="z7"/>
<rect x="11" y="4" width="1.16" height="1.16" class="z5"/>
<rect x="12" y="4" width="1.16" height="1.16" class="z7"/>
<rect x="13" y="4" width="1.16" height="1.16" class="z6"/>
<rect x="14" y="4" width="1.16" height="1.16" class="z4"/>
<rect x="15" y="4" width="1.16" height="1.16" class="z7"/>
<rect x="16" y="4" width="1.16" height="1.16" class="z4"/>
<rect x="17" y="4" width="1.16" height="1.16" class="z6"/>
<rect x="18" y="4" width="1.16" height="1.16" class="z4"/>
<rect x="19" y="4" width="1.16" height="1.16" class="z4"/>
<rect x="20" y="4" width="1.16" height="1.16" class="z6"/>
<rect x="21" y="4" width="1.16" height="1.16" class="z6"/>
<rect x="22" y="4" width="1.16" height="1.16" class="z5"/>
<rect x="23" y="4" width="1.16" height="1.16" class="z5"/>
<rect x="24" y="4" width="1.16" height="1.16" class="z5"/>
<rect x="25" y="4" width="1.16" height="1.16" class="z5"/>
<rect x="26" y="4" width="1.16" height="1.16" class="z6"/>
<rect x="27" y="4" width="1.16" height="1.16" class="z6"/>
<rect x="28" y="4" width="1.16" height="1.16" class="z6"/>
<rect x="29" y="4" width="1.16" height="1.16" class="z5"/>
<rect x="0" y="5" width="1.16" height="1.16" class="z2"/>
<rect x="1" y="5" width="1.16" height="1.16" class="z5"/>
<rect x="2" y="5" width="1.16" height="1.16" class="z4"/>
<rect x="3" y="5" width="1.16" height="1.16" class="z4"/>
<rect x="4" y="5" width="1.16" height="1.16" class="z4"/>
<rect x="5" y="5" width="1.16" height="1.16" class="z6"/>
<rect x="6" y="5" width="1.16" height="1.16" class="z5"/>
<rect x="7" y="5" width="1.16" height="1.16" class="z4"/>
<rect x="8" y="5" width="1.16" height="1.16" class="z6"/>
<rect x="9" y="5" width="1.16" height="1.16" class="z5"/>
<rect x="10" y="5" width="1.16" height="1.16" class="z3"/>
<rect x="11" y="5" width="1.16" height="1.16" class="z6"/>
<rect x="12" y="5" width="1.16" height="1.16" class="z4"/>
<rect x="13" y="5" width="1.16" height="1.16" class="z6"/>
<rect x="14" y="5" width="1.16" height="1.16" class="z7"/>
<rect x="15" y="5" width="1.16" height="1.16" class="z6"/>
<rect x="16" y="5" width="1.16" height="1.16" class="z5"/>
<rect x="17" y="5" width="1.16" height="1.16" class="z6"/>
<rect x="18" y="5" width="1.16" height="1.16" class="z5"/>
<rect x="19" y="5" width="1.16" height="1.16" class="z6"/>
<rect x="20" y="5" width="1.16" height="1.16" class="z7"/>
<rect x="21" y="5" width="1.16" height="1.16" class="z5"/>
<rect x="22" y="5" width="1.16" height="1.16" class="z5"/>
<rect x="23" y="5" width="1.16" height="1.16" class="z6"/>
<rect x="24" y="5" width="1.16" height="1.16" class="z7"/>
<rect x="25" y="5" width="1.16" height="1.16" class="z7"/>
<rect x="26" y="5" width="1.16" height="1.16" class="z8"/>
<rect x="27" y="5" width="1.16" height="1.16" class="z5"/>
<rect x="28" y="5" width="1.16" height="1.16" class="z6"/>
<rect x="29" y="5" width="1.16" height="1.16" class="z4"/>
<rect x="0" y="6" width="1.16" height="1.16" class="z4"/>
<rect x="1" y="6" width="1.16" height="1.16" class="z6"/>
<rect x="2" y="6" width="1.16" height="1.16" class="z4"/>
<rect x="3" y="6" width="1.16" height="1.16" class="z7"/>
<rect x="4" y="6" width="1.16" height="1.16" class="z7"/>
<rect x="5" y="6" width="1.16" height="1.16" class="z4"/>
<rect x="6" y="6" width="1.16" height="1.16" class="z6"/>
<rect x="7" y="6" width="1.16" height="1.16" class="z6"/>
<rect x="8" y="6" width="1.16" height="1.16" class="z5"/>
<rect x="9" y="6" width="1.16" height="1.16" class="z5"/>
<rect x="10" y="6" width="1.16" height="1.16" class="z6"/>
<rect x="11" y="6" width="1.16" height="1.16" class="z5"/>
<rect x="12" y="6" width="1.16" height="1.16" class="z6"/>
<rect x="13" y="6" width="1.16" height="1.16" class="z7"/>
<rect x="14" y="6" width="1.16" height="1.16" class="z9"/>
<rect x="15" y="6" width="1.16" height="1.16" class="z5"/>
<rect x="16" y="6" width="1.16" height="1.16" class="z4"/>
<rect x="17" y="6" width="1.16" height="1.16" class="z7"/>
<rect x="18" y="6" width="1.16" height="1.16" class="z5"/>
<rect x="19" y="6" width="1.16" height="1.16" class="z5"/>
<rect x="20" y="6" width="1.16" height="1.16" class="z5"/>
<rect x="21" y="6" width="1.16" height="1.16" class="z7"/>
<rect x="22" y="6" width="1.16" height="1.16" class="z5"/>
<rect x="23" y="6" width="1.16" height="1.16" class="z4"/>
<rect x="24" y="6" width="1.16" height="1.16" class="z6"/>
<rect x="25" y="6" width="1.16" height="1.16" class="z7"/>
<rect x="26" y="6" width="1.16" height="1.16" class="z4"/>
<rect x="27" y="6" width="1.16" height="1.16" class="z4"/>
<rect x="28" y="6" width="1.16" height="1.16" class="z4"/>
<rect x="29" y="6" width="1.16" height="1.16" class="z5"/>
<rect x="0" y="7" width="1.16" height="1.16" class="z7"/>
<rect x="1" y="7" width="1.16" height="1.16" class="z5"/>
<rect x="2" y="7" width="1.16" height="1.16" class="z5"/>
<rect x="3" y="7" width="1.16" height="1.16" class="z8"/>
<rect x="4" y="7" width="1.16" height="1.16" class="z5"/>
<rect x="5" y="7" width="1.16" height="1.16" class="z7"/>
<rect x="6" y="7" width="1.16" height="1.16" class="z4"/>
<rect x="7" y="7" width="1.16" height="1.16" class="z5"/>
<rect x="8" y="7" width="1.16" height="1.16" class="z6"/>
<rect x="9" y="7" width="1.16" height="1.16" class="z6"/>
<rect x="10" y="7" width="1.16" height="1.16" class="z4"/>
<rect x="11" y="7" width="1.16" height="1.16" class="z7"/>
<rect x="12" y="7" width="1.16" height="1.16" class="z3"/>
<rect x="13" y="7" width="1.16" height="1.16" class="z6"/>
<rect x="14" y="7" width="1.16" height="1.16" class="z6"/>
<rect x="15" y="7" width="1.16" height="1.16" class="z5"/>
<rect x="16" y="7" width="1.16" height="1.16" class="z6"/>
<rect x="17" y="7" width="1.16" height="1.16" class="z5"/>
<rect x="18" y="7" width="1.16" height="1.16" class="z6"/>
<rect x="19" y="7" width="1.16" height="1.16" class="z5"/>
<rect x="20" y="7" width="1.16" height="1.16" class="z5"/>
<rect x="21" y="7" width="1.16" height="1.16" class="z5"/>
<rect x="22" y="7" width="1.16" height="1.16" class="z7"/>
<rect x="23" y="7" width="1.16" height="1.16" class="z3"/>
<rect x="24" y="7" width="1.16" height="1.16" class="z5"/>
<rect x="25" y="7" width="1.16" height="1.16" class="z7"/>
<rect x="26" y="7" width="1.16" height="1.16" class="z7"/>
<rect x="27" y="7" width="1.16" height="1.16" class="z5"/>
<rect x="28" y="7" width="1.16" height="1.16" class="z6"/>
<rect x="29" y="7" width="1.16" height="1.16" class="z0"/>
<rect x="0" y="8" width="1.16" height="1.16" class="z5"/>
<rect x="1" y="8" width="1.16" height="1.16" class="z3"/>
<rect x="2" y="8" width="1.16" height="1.16" class="z7"/>
<rect x="3" y="8" width="1.16" height="1.16" class="z6"/>
<rect x="4" y="8" width="1.16" height="1.16" class="z7"/>
<rect x="5" y="8" width="1.16" height="1.16" class="z6"/>
<rect x="6" y="8" width="1.16" height="1.16" class="z4"/>
<rect x="7" y="8" width="1.16" height="1.16" class="z6"/>
<rect x="8" y="8" width="1.16" height="1.16" class="z7"/>
<rect x="9" y="8" width="1.16" height="1.16" class="z7"/>
<rect x="10" y="8" width="1.16" height="1.16" class="z4"/>
<rect x="11" y="8" width="1.16" height="1.16" class="z5"/>
<rect x="12" y="8" width="1.16" height="1.16" class="z5"/>
<rect x="13" y="8" width="1.16" height="1.16" class="z4"/>
<rect x="14" y="8" width="1.16" height="1.16" class="z7"/>
<rect x="15" y="8" width="1.16" height="1.16" class="z6"/>
<rect x="16" y="8" width="1.16" height="1.16" class="z4"/>
<rect x="17" y="8" width="1.16" height="1.16" class="z7"/>
<rect x="18" y="8" width="1.16" height="1.16" class="z4"/>
<rect x="19" y="8" width="1.16" height="1.16" class="z6"/>
<rect x="20" y="8" width="1.16" height="1.16" class="z6"/>
<rect x="21" y="8" width="1.16" height="1.16" class="z7"/>
<rect x="22" y="8" width="1.16" height="1.16" class="z5"/>
<rect x="23" y="8" width="1.16" height="1.16" class="z4"/>
<rect x="24" y="8" width="1.16" height="1.16" class="z6"/>
<rect x="25" y="8" width="1.16" height="1.16" class="z1"/>
<rect x="26" y="8" width="1.16" height="1.16" class="z8"/>
<rect x="27" y="8" width="1.16" height="1.16" class="z4"/>
<rect x="28" y="8" width="1.16" height="1.16" class="z7"/>
<rect x="29" y="8" width="1.16" height="1.16" class="z8"/>
<rect x="0" y="9" width="1.16" height="1.16" class="z5"/>
<rect x="1" y="9" width="1.16" height="1.16" class="z4"/>
<rect x="2" y="9" width="1.16" height="1.16" class="z5"/>
<rect x="3" y="9" width="1.16" height="1.16" class="z4"/>
<rect x="4" y="9" width="1.16" height="1.16" class="z3"/>
<rect x="5" y="9" width="1.16" height="1.16" class="z4"/>
<rect x="6" y="9" width="1.16" height="1.16" class="z4"/>
<rect x="7" y="9" width="1.16" height="1.16" class="z6"/>
<rect x="8" y="9" width="1.16" height="1.16" class="z6"/>
<rect x="9" y="9" width="1.16" height="1.16" class="z4"/>
<rect x="10" y="9" width="1.16" height="1.16" class="z7"/>
<rect x="11" y="9" width="1.16" height="1.16" class="z5"/>
<rect x="12" y="9" width="1.16" height="1.16" class="z6"/>
<rect x="13" y="9" width="1.16" height="1.16" class="z5"/>
<rect x="14" y="9" width="1.16" height="1.16" class="z5"/>
<rect x="15" y="9" width="1.16" height="1.16" class="z4"/>
<rect x="16" y="9" width="1.16" height="1.16" class="z6"/>
<rect x="17" y="9" width="1.16" height="1.16" class="z6"/>
<rect x="18" y="9" width="1.16" height="1.16" class="z7"/>
<rect x="19" y="9" width="1.16" height="1.16" class="z6"/>
<rect x="20" y="9" width="1.16" height="1.16" class="z5"/>
<rect x="21" y="9" width="1.16" height="1.16" class="z5"/>
<rect x="22" y="9" width="1.16" height="1.16" class="z7"/>
<rect x="23" y="9" width="1.16" height="1.16" class="z5"/>
<rect x="24" y="9" width="1.16" height="1.16" class="z6"/>
<rect x="25" y="9" width="1.16" height="1.16" class="z6"/>
<rect x="26" y="9" width="1.16" height="1.16" class="z4"/>
<rect x="27" y="9" width="1.16" height="1.16" class="z6"/>
<rect x="28" y="9" width="1.16" height="1.16" class="z4"/>
<rect x="29" y="9" width="1.16" height="1.16" class="z6"/>
<rect x="0" y="10" width="1.16" height="1.16" class="z4"/>
<rect x="1" y="10" width="1.16" height="1.16" class="z6"/>
<rect x="2" y="10" width="1.16" height="1.16" class="z5"/>
<rect x="3" y="10" width="1.16" height="1.16" class="z4"/>
<rect x="4" y="10" width="1.16" height="1.16" class="z6"/>
<rect x="5" y="10" width="1.16" height="1.16" class="z4"/>
<rect x="6" y="10" width="1.16" height="1.16" class="z4"/>
<rect x="7" y="10" width="1.16" height="1.16" class="z5"/>
<rect x="8" y="10" width="1.16" height="1.16" class="z7"/>
<rect x="9" y="10" width="1.16" height="1.16" class="z7"/>
<rect x="10" y="10" width="1.16" height="1.16" class="z8"/>
<rect x="11" y="10" width="1.16" height="1.16" class="z7"/>
<rect x="12" y="10" width="1.16" height="1.16" class="z4"/>
<rect x="13" y="10" width="1.16" height="1.16" class="z4"/>
<rect x="14" y="10" width="1.16" height="1.16" class="z6"/>
<rect x="15" y="10" width="1.16" height="1.16" class="z6"/>
<rect x="16" y="10" width="1.16" height="1.16" class="z5"/>
<rect x="17" y="10" width="1.16" height="1.16" class="z7"/>
<rect x="18" y="10" width="1.16" height="1.16" class="z5"/>
<rect x="19" y="10" width="1.16" height="1.16" class="z6"/>
<rect x="20" y="10" width="1.16" height="1.16" class="z6"/>
<rect x="21" y="10" width="1.16" height="1.16" class="z4"/>
<rect x="22" y="10" width="1.16" height="1.16" class="z5"/>
<rect x="23" y="10" width="1.16" height="1.16" class="z6"/>
<rect x="24" y="10" width="1.16" height="1.16" class="z5"/>
<rect x="25" y="10" width="1.16" height="1.16" class="z7"/>
<rect x="26" y="10" width="1.16" height="1.16" class="z8"/>
<rect x="27" y="10" width="1.16" height="1.16" class="z5"/>
<rect x="28" y="10" width="1.16" height="1.16" class="z7"/>
<rect x="29" y="10" width="1.16" height="1.16" class="z6"/>
<rect x="0" y="11" width="1.16" height="1.16" class="z7"/>
<rect x="1" y="11" width="1.16" height="1.16" class="z4"/>
<rect x="2" y="11" width="1.16" height="1.16" class="z5"/>
<rect x="3" y="11" width="1.16" height="1.16" class="z5"/>
<rect x="4" y="11" width="1.16" height="1.16" class="z4"/>
<rect x="5" y="11" width="1.16" height="1.16" class="z6"/>
<rect x="6" y="11" width="1.16" height="1.16" class="z5"/>
<rect x="7" y="11" width="1.16" height="1.16" class="z6"/>
<rect x="8" y="11" width="1.16" height="1.16" class="z4"/>
<rect x="9" y="11" width="1.16" height="1.16" class="z6"/>
<rect x="10" y="11" width="1.16" height="1.16" class="z4"/>
<rect x="11" y="11" width="1.16" height="1.16" class="z5"/>
<rect x="12" y="11" width="1.16" height="1.16" class="z6"/>
<rect x="13" y="11" width="1.16" height="1.16" class="z7"/>
<rect x="14" y="11" width="1.16" height="1.16" class="z5"/>
<rect x="15" y="11" width="1.16" height="1.16" class="z6"/>
<rect x="16" y="11" width="1.16" height="1.16" class="z7"/>
<rect x="17" y="11" width="1.16" height="1.16" class="z7"/>
<rect x="18" y="11" width="1.16" height="1.16" class="z5"/>
<rect x="19" y="11" width="1.16" height="1.16" class="z6"/>
<rect x="20" y="11" width="1.16" height="1.16" class="z6"/>
<rect x="21" y="11" width="1.16" height="1.16" class="z5"/>
<rect x="22" y="11" width="1.16" height="1.16" class="z4"/>
<rect x="23" y="11" width="1.16" height="1.16" class="z8"/>
<rect x="24" y="11" width="1.16" height="1.16" class="z6"/>
<rect x="25" y="11" width="1.16" height="1.16" class="z6"/>
<rect x="26" y="11" width="1.16" height="1.16" class="z6"/>
<rect x="27" y="11" width="1.16" height="1.16" class="z6"/>
<rect x="28" y="11" width="1.16" height="1.16" class="z6"/>
<rect x="29" y="11" width="1.16" height="1.16" class="z4"/>
<rect x="0" y="12" width="1.16" height="1.16" class="z6"/>
<rect x="1" y="12" width="1.16" height="1.16" class="z6"/>
<rect x="2" y="12" width="1.16" height="1.16" class="z3"/>
<rect x="3" y="12" width="1.16" height="1.16" class="z4"/>
<rect x="4" y="12" width="1.16" height="1.16" class="z4"/>
<rect x="5" y="12" width="1.16" height="1.16" class="z5"/>
<rect x="6" y="12" width="1.16" height="1.16" class="z5"/>
<rect x="7" y="12" width="1.16" height="1.16" class="z4"/>
<rect x="8" y="12" width="1.16" height="1.16" class="z6"/>
<rect x="9" y="12" width="1.16" height="1.16" class="z6"/>
<rect x="10" y="12" width="1.16" height="1.16" class="z4"/>
<rect x="11" y="12" width="1.16" height="1.16" class="z6"/>
<rect x="12" y="12" width="1.16" height="1.16" class="z5"/>
<rect x="13" y="12" width="1.16" height="1.16" class="z3"/>
<rect x="14" y="12" width="1.16" height="1.16" class="z4"/>
<rect x="15" y="12" width="1.16" height="1.16" class="z6"/>
<rect x="16" y="12" width="1.16" height="1.16" class="z5"/>
<rect x="17" y="12" width="1.16" height="1.16" class="z9"/>
<rect x="18" y="12" width="1.16" height="1.16" class="z6"/>
<rect x="19" y="12" width="1.16" height="1.16" class="za"/>
<rect x="20" y="12" width="1.16" height="1.16" class="z6"/>
<rect x="21" y="12" width="1.16" height="1.16" class="z7"/>
<rect x="22" y="12" width="1.16" height="1.16" class="z9"/>
<rect x="23" y="12" width="1.16" height="1.16" class="z7"/>
<rect x="24" y="12" width="1.16" height="1.16" class="z4"/>
<rect x="25" y="12" width="1.16" height="1.16" class="z3"/>
<rect x="26" y="12" width="1.16" height="1.16" class="z5"/>
<rect x="27" y="12" width="1.16" height="1.16" class="z6"/>
<rect x="28" y="12" width="1.16" height="1.16" class="z5"/>
<rect x="29" y="12" width="1.16" height="1.16" class="z5"/>
<rect x="0" y="13" width="1.16" height="1.16" class="z6"/>
<rect x="1" y="13" width="1.16" height="1.16" class="z3"/>
<rect x="2" y="13" width="1.16" height="1.16" class="z6"/>
<rect x="3" y="13" width="1.16" height="1.16" class="z6"/>
<rect x="4" y="13" width="1.16" height="1.16" class="z4"/>
<rect x="5" y="13" width="1.16" height="1.16" class="z4"/>
<rect x="6" y="13" width="1.16" height="1.16" class="z5"/>
<rect x="7" y="13" width="1.16" height="1.16" class="z6"/>
<rect x="8" y="13" width="1.16" height="1.16" class="z6"/>
<rect x="9" y="13" width="1.16" height="1.16" class="z5"/>
<rect x="10" y="13" width="1.16" height="1.16" class="z6"/>
<rect x="11" y="13" width="1.16" height="1.16" class="z5"/>
<rect x="12" y="13" width="1.16" height="1.16" class="z6"/>
<rect x="13" y="13" width="1.16" height="1.16" class="z6"/>
<rect x="14" y="13" width="1.16" height="1.16" class="z6"/>
<rect x="15" y="13" width="1.16" height="1.16" class="z4"/>
<rect x="16" y="13" width="1.16" height="1.16" class="z4"/>
<rect x="17" y="13" width="1.16" height="1.16" class="z4"/>
<rect x="18" y="13" width="1.16" height="1.16" class="z6"/>
<rect x="19" y="13" width="1.16" height="1.16" class="z7"/>
<rect x="20" y="13" width="1.16" height="1.16" class="z3"/>
<rect x="21" y="13" width="1.16" height="1.16" class="z6"/>
<rect x="22" y="13" width="1.16" height="1.16" class="z6"/>
<rect x="23" y="13" width="1.16" height="1.16" class="z5"/>
<rect x="24" y="13" width="1.16" height="1.16" class="z6"/>
<rect x="25" y="13" width="1.16" height="1.16" class="z6"/>
<rect x="26" y="13" width="1.16" height="1.16" class="z7"/>
<rect x="27" y="13" width="1.16" height="1.16" class="z4"/>
<rect x="28" y="13" width="1.16" height="1.16" class="z6"/>
<rect x="29" y="13" width="1.16" height="1.16" class="z3"/>
<rect x="0" y="14" width="1.16" height="1.16" class="z5"/>
<rect x="1" y="14" width="1.16" height="1.16" class="z6"/>
<rect x="2" y="14" width="1.16" height="1.16" class="z8"/>
<rect x="3" y="14" width="1.16" height="1.16" class="z2"/>
<rect x="4" y="14" width="1.16" height="1.16" class="z5"/>
<rect x="5" y="14" width="1.16" height="1.16" class="z6"/>
<rect x="6" y="14" width="1.16" height="1.16" class="z5"/>
<rect x="7" y="14" width="1.16" height="1.16" class="z6"/>
<rect x="8" y="14" width="1.16" height="1.16" class="z6"/>
<rect x="9" y="14" width="1.16" height="1.16" class="z4"/>
<rect x="10" y="14" width="1.16" height="1.16" class="z4"/>
<rect x="11" y="14" width="1.16" height="1.16" class="z5"/>
<rect x="12" y="14" width="1.16" height="1.16" class="z7"/>
<rect x="13" y="14" width="1.16" height="1.16" class="z6"/>
<rect x="14" y="14" width="1.16" height="1.16" class="z6"/>
<rect x="15" y="14" width="1.16" height="1.16" class="z4"/>
<rect x="16" y="14" width="1.16" height="1.16" class="z6"/>
<rect x="17" y="14" width="1.16" height="1.16" class="z7"/>
<rect x="18" y="14" width="1.16" height="1.16" class="z6"/>
<rect x="19" y="14" width="1.16" height="1.16" class="z7"/>
<rect x="20" y="14" width="1.16" height="1.16" class="z7"/>
<rect x="21" y="14" width="1.16" height="1.16" class="z5"/>
<rect x="22" y="14" width="1.16" height="1.16" class="z4"/>
<rect x="23" y="14" width="1.16" height="1.16" class="z5"/>
<rect x="24" y="14" width="1.16" height="1.16" class="z3"/>
<rect x="25" y="14" width="1.16" height="1.16" class="z5"/>
<rect x="26" y="14" width="1.16" height="1.16" class="z6"/>
<rect x="27" y="14" width="1.16" height="1.16" class="z6"/>
<rect x="28" y="14" width="1.16" height="1.16" class="z3"/>
<rect x="29" y="14" width="1.16" height="1.16" class="z7"/>
<rect x="0" y="15" width="1.16" height="1.16" class="z5"/>
<rect x="1" y="15" width="1.16" height="1.16" class="z6"/>
<rect x="2" y="15" width="1.16" height="1.16" class="z5"/>
<rect x="3" y="15" width="1.16" height="1.16" class="z6"/>
<rect x="4" y="15" width="1.16" height="1.16" class="z5"/>
<rect x="5" y="15" width="1.16" height="1.16" class="z6"/>
<rect x="6" y="15" width="1.16" height="1.16" class="z6"/>
<rect x="7" y="15" width="1.16" height="1.16" class="z6"/>
<rect x="8" y="15" width="1.16" height="1.16" class="z5"/>
<rect x="9" y="15" width="1.16" height="1.16" class="z5"/>
<rect x="10" y="15" width="1.16" height="1.16" class="z5"/>
<rect x="11" y="15" width="1.16" height="1.16" class="z6"/>
<rect x="12" y="15" width="1.16" height="1.16" class="z4"/>
<rect x="13" y="15" width="1.16" height="1.16" class="z4"/>
<rect x="14" y="15" width="1.16" height="1.16" class="z7"/>
<rect x="15" y="15" width="1.16" height="1.16" class="z7"/>
<rect x="16" y="15" width="1.16" height="1.16" class="z5"/>
<rect x="17" y="15" width="1.16" height="1.16" class="z6"/>
<rect x="18" y="15" width="1.16" height="1.16" class="z5"/>
<rect x="19" y="15" width="1.16" height="1.16" class="z3"/>
<rect x="20" y="15" width="1.16" height="1.16" class="z6"/>
<rect x="21" y="15" width="1.16" height="1.16" class="z7"/>
<rect x="22" y="15" width="1.16" height="1.16" class="z7"/>
<rect x="23" y="15" width="1.16" height="1.16" class="z6"/>
<rect x="24" y="15" width="1.16" height="1.16" class="z5"/>
<rect x="25" y="15" width="1.16" height="1.16" class="z6"/>
<rect x="26" y="15" width="1.16" height="1.16" class="z4"/>
<rect x="27" y="15" width="1.16" height="1.16" class="z5"/>
<rect x="28" y="15" width="1.16" height="1.16" class="z6"/>
<rect x="29" y="15" width="1.16" height="1.16" class="z6"/>
<rect x="0" y="16" width="1.16" height="1.16" class="z3"/>
<rect x="1" y="16" width="1.16" height="1.16" class="z7"/>
<rect x="2" y="16" width="1.16" height="1.16" class="z6"/>
<rect x="3" y="16" width="1.16" height="1.16" class="z6"/>
<rect x="4" y="16" width="1.16" height="1.16" class="z7"/>
<rect x="5" y="16" width="1.16" height="1.16" class="z5"/>
<rect x="6" y="16" width="1.16" height="1.16" class="z6"/>
<rect x="7" y="16" width="1.16" height="1.16" class="z5"/>
<rect x="8" y="16" width="1.16" height="1.16" class="z5"/>
<rect x="9" y="16" width="1.16" height="1.16" class="z6"/>
<rect x="10" y="16" width="1.16" height="1.16" class="z4"/>
<rect x="11" y="16" width="1.16" height="1.16" class="z6"/>
<rect x="12" y="16" width="1.16" height="1.16" class="z5"/>
<rect x="13" y="16" width="1.16" height="1.16" class="z6"/>
<rect x="14" y="16" width="1.16" height="1.16" class="z6"/>
<rect x="15" y="16" width="1.16" height="1.16" class="z5"/>
<rect x="16" y="16" width="1.16" height="1.16" class="z4"/>
<rect x="17" y="16" width="1.16" height="1.16" class="z7"/>
<rect x="18" y="16" width="1.16" height="1.16" class="z4"/>
<rect x="19" y="16" width="1.16" height="1.16" class="z5"/>
<rect x="20" y="16" width="1.16" height="1.16" class="z7"/>
<rect x="21" y="16" width="1.16" height="1.16" class="z5"/>
<rect x="22" y="16" width="1.16" height="1.16" class="z4"/>
<rect x="23" y="16" width="1.16" height="1.16" class="z6"/>
<rect x="24" y="16" width="1.16" height="1.16" class="z7"/>
<rect x="25" y="16" width="1.16" height="1.16" class="z6"/>
<rect x="26" y="16" width="1.16" height="1.16" class="z9"/>
<rect x="27" y="16" width="1.16" height="1.16" class="z7"/>
<rect x="28" y="16" width="1.16" height="1.16" class="z6"/>
<rect x="29" y="16" width="1.16" height="1.16" class="z8"/>
<rect x="0" y="17" width="1.16" height="1.16" class="z6"/>
<rect x="1" y="17" width="1.16" height="1.16" class="z7"/>
<rect x="2" y="17" width="1.16" height="1.16" class="z5"/>
<rect x="3" y="17" width="1.16" height="1.16" class="z7"/>
<rect x="4" y="17" width="1.16" height="1.16" class="z6"/>
<rect x="5" y="17" width="1.16" height="1.16" class="z5"/>
<rect x="6" y="17" width="1.16" height="1.16" class="z7"/>
<rect x="7" y="17" width="1.16" height="1.16" class="z7"/>
<rect x="8" y="17" width="1.16" height="1.16" class="z6"/>
<rect x="9" y="17" width="1.16" height="1.16" class="z6"/>
<rect x="10" y="17" width="1.16" height="1.16" class="z5"/>
<rect x="11" y="17" width="1.16" height="1.16" class="z5"/>
<rect x="12" y="17" width="1.16" height="1.16" class="z6"/>
<rect x="13" y="17" width="1.16" height="1.16" class="z9"/>
<rect x="14" y="17" width="1.16" height="1.16" class="z7"/>
<rect x="15" y="17" width="1.16" height="1.16" class="z6"/>
<rect x="16" y="17" width="1.16" height="1.16" class="z6"/>
<rect x="17" y="17" width="1.16" height="1.16" class="z6"/>
<rect x="18" y="17" width="1.16" height="1.16" class="z6"/>
<rect x="19" y="17" width="1.16" height="1.16" class="z4"/>
<rect x="20" y="17" width="1.16" height="1.16" class="z4"/>
<rect x="21" y="17" width="1.16" height="1.16" class="z7"/>
<rect x="22" y="17" width="1.16" height="1.16" class="z9"/>
<rect x="23" y="17" width="1.16" height="1.16" class="z6"/>
<rect x="24" y="17" width="1.16" height="1.16" class="z6"/>
<rect x="25" y="17" width="1.16" height="1.16" class="z5"/>
<rect x="26" y="17" width="1.16" height="1.16" class="z4"/>
<rect x="27" y="17" width="1.16" height="1.16" class="z8"/>
<rect x="28" y="17" width="1.16" height="1.16" class="z5"/>
<rect x="29" y="17" width="1.16" height="1.16" class="z7"/>
<rect x="0" y="18" width="1.16" height="1.16" class="z6"/>
<rect x="1" y="18" width="1.16" height="1.16" class="z7"/>
<rect x="2" y="18" width="1.16" height="1.16" class="z6"/>
<rect x="3" y="18" width="1.16" height="1.16" class="z6"/>
<rect x="4" y="18" width="1.16" height="1.16" class="z6"/>
<rect x="5" y="18" width="1.16" height="1.16" class="z7"/>
<rect x="6" y="18" width="1.16" height="1.16" class="za"/>
<rect x="7" y="18" width="1.16" height="1.16" class="z6"/>
<rect x="8" y="18" width="1.16" height="1.16" class="z6"/>
<rect x="9" y="18" width="1.16" height="1.16" class="z5"/>
<rect x="10" y="18" width="1.16" height="1.16" class="z7"/>
<rect x="11" y="18" width="1.16" height="1.16" class="z5"/>
<rect x="12" y="18" width="1.16" height="1.16" class="z8"/>
<rect x="13" y="18" width="1.16" height="1.16" class="z8"/>
<rect x="14" y="18" width="1.16" height="1.16" class="z7"/>
<rect x="15" y="18" width="1.16" height="1.16" class="z5"/>
<rect x="16" y="18" width="1.16" height="1.16" class="za"/>
<rect x="17" y="18" width="1.16" height="1.16" class="z7"/>
<rect x="18" y="18" width="1.16" height="1.16" class="z7"/>
<rect x="19" y="18" width="1.16" height="1.16" class="z7"/>
<rect x="20" y="18" width="1.16" height="1.16" class="za"/>
<rect x="21" y="18" width="1.16" height="1.16" class="z7"/>
<rect x="22" y="18" width="1.16" height="1.16" class="z8"/>
<rect x="23" y="18" width="1.16" height="1.16" class="z7"/>
<rect x="24" y="18" width="1.16" height="1.16" class="z4"/>
<rect x="25" y="18" width="1.16" height="1.16" class="z6"/>
<rect x="26" y="18" width="1.16" height="1.16" class="z6"/>
<rect x="27" y="18" width="1.16" height="1.16" class="z7"/>
<rect x="28" y="18" width="1.16" height="1.16" class="z6"/>
<rect x="29" y="18" width="1.16" height="1.16" class="z8"/>
<rect x="0" y="19" width="1.16" height="1.16" class="zk"/>
<rect x="1" y="19" width="1.16" height="1.16" class="za"/>
<rect x="2" y="19" width="1.16" height="1.16" class="z8"/>
<rect x="3" y="19" width="1.16" height="1.16" class="za"/>
<rect x="4" y="19" width="1.16" height="1.16" class="z9"/>
<rect x="5" y="19" width="1.16" height="1.16" class="zc"/>
<rect x="6" y="19" width="1.16" height="1.16" class="z8"/>
<rect x="7" y="19" width="1.16" height="1.16" class="z7"/>
<rect x="8" y="19" width="1.16" height="1.16" class="z8"/>
<rect x="9" y="19" width="1.16" height="1.16" class="z9"/>
<rect x="10" y="19" width="1.16" height="1.16" class="z7"/>
<rect x="11" y="19" width="1.16" height="1.16" class="zb"/>
<rect x="12" y="19" width="1.16" height="1.16" class="z7"/>
<rect x="13" y="19" width="1.16" height="1.16" class="z7"/>
<rect x="14" y="19" width="1.16" height="1.16" class="z8"/>
<rect x="15" y="19" width="1.16" height="1.16" class="z6"/>
<rect x="16" y="19" width="1.16" height="1.16" class="z6"/>
<rect x="17" y="19" width="1.16" height="1.16" class="z9"/>
<rect x="18" y="19" width="1.16" height="1.16" class="z9"/>
<rect x="19" y="19" width="1.16" height="1.16" class="zc"/>
<rect x="20" y="19" width="1.16" height="1.16" class="z6"/>
<rect x="21" y="19" width="1.16" height="1.16" class="za"/>
<rect x="22" y="19" width="1.16" height="1.16" class="z7"/>
<rect x="23" y="19" width="1.16" height="1.16" class="za"/>
<rect x="24" y="19" width="1.16" height="1.16" class="za"/>
<rect x="25" y="19" width="1.16" height="1.16" class="z8"/>
<rect x="26" y="19" width="1.16" height="1.16" class="z8"/>
<rect x="27" y="19" width="1.16" height="1.16" class="z6"/>
<rect x="28" y="19" width="1.16" height="1.16" class="z6"/>
<rect x="29" y="19" width="1.16" height="1.16" class="z6"/>
</g></g>
<rect x="20.6" y="320.2" width="274.6" height="240.9" fill="none" stroke="#c4c4c4" stroke-width="0.8"/>
<path d="M61.76 561.1v-2.8M61.76 320.2v2.8M107.49 561.1v-2.8M107.49 320.2v2.8M153.23 561.1v-2.8M153.23 320.2v2.8M198.96 561.1v-2.8M198.96 320.2v2.8M244.69 561.1v-2.8M244.69 320.2v2.8M290.43 561.1v-2.8M290.43 320.2v2.8M20.6 536.37h2.8M295.2 536.37h-2.8M20.6 490.69h2.8M295.2 490.69h-2.8M20.6 445.02h2.8M295.2 445.02h-2.8M20.6 399.34h2.8M295.2 399.34h-2.8M20.6 353.67h2.8M295.2 353.67h-2.8" stroke="#777" stroke-width="0.6" fill="none"/>
<text x="61.76" y="570.9" text-anchor="middle" class="tk">5</text>
<text x="107.49" y="570.9" text-anchor="middle" class="tk">10</text>
<text x="153.23" y="570.9" text-anchor="middle" class="tk">15</text>
<text x="198.96" y="570.9" text-anchor="middle" class="tk">20</text>
<text x="244.69" y="570.9" text-anchor="middle" class="tk">25</text>
<text x="290.43" y="570.9" text-anchor="middle" class="tk">30</text>
<text x="18.3" y="539.47" text-anchor="end" class="tky">0</text>
<text x="18.3" y="493.79" text-anchor="end" class="tky">5</text>
<text x="18.3" y="448.12" text-anchor="end" class="tky">10</text>
<text x="18.3" y="402.44" text-anchor="end" class="tky">15</text>
<text x="18.3" y="356.77" text-anchor="end" class="tky">20</text>
<text x="157.9" y="580.7" text-anchor="middle" class="lb">Number of Runs</text>
<text transform="translate(7.3 440.65) rotate(-90)" text-anchor="middle" class="lb">Number of Neurons</text>
<text x="49.5" y="317" class="ti" textLength="214.7" lengthAdjust="spacingAndGlyphs">Heatmap for results of MSE for train dataset with GNDO</text>
<text x="27.7" y="330.7" class="an" textLength="123.7" lengthAdjust="spacingAndGlyphs">Best number of neurons=13</text>
<text x="163.7" y="330.7" class="an" textLength="130.5" lengthAdjust="spacingAndGlyphs">MSE for Train dataset=0.0258</text>
<text x="99.2" y="342.9" class="r2">R</text>
<text x="107.1" y="338.7" class="sup">2</text>
<text x="112.9" y="342.9" class="an" textLength="108.3" lengthAdjust="spacingAndGlyphs">for Train dataset=0.9207</text>
<rect x="298.1" y="319.7" width="6.1" height="241.7" fill="url(#par)"/>
<rect x="298.1" y="319.7" width="6.1" height="241.7" fill="none" stroke="#c4c4c4" stroke-width="0.6"/>
<path d="M304.2 541.7h-2.6" stroke="#555" stroke-width="0.6"/>
<text x="305.8" y="544.45" class="cbt" textLength="12.91" lengthAdjust="spacingAndGlyphs">0.03</text>
<path d="M304.2 518.2h-2.6" stroke="#555" stroke-width="0.6"/>
<text x="305.8" y="520.95" class="cbt" textLength="16.6" lengthAdjust="spacingAndGlyphs">0.035</text>
<path d="M304.2 494.7h-2.6" stroke="#555" stroke-width="0.6"/>
<text x="305.8" y="497.45" class="cbt" textLength="12.91" lengthAdjust="spacingAndGlyphs">0.04</text>
<path d="M304.2 471.2h-2.6" stroke="#555" stroke-width="0.6"/>
<text x="305.8" y="473.95" class="cbt" textLength="16.6" lengthAdjust="spacingAndGlyphs">0.045</text>
<path d="M304.2 447.7h-2.6" stroke="#555" stroke-width="0.6"/>
<text x="305.8" y="450.45" class="cbt" textLength="12.91" lengthAdjust="spacingAndGlyphs">0.05</text>
<path d="M304.2 424.2h-2.6" stroke="#555" stroke-width="0.6"/>
<text x="305.8" y="426.95" class="cbt" textLength="16.6" lengthAdjust="spacingAndGlyphs">0.055</text>
<path d="M304.2 400.7h-2.6" stroke="#555" stroke-width="0.6"/>
<text x="305.8" y="403.45" class="cbt" textLength="12.91" lengthAdjust="spacingAndGlyphs">0.06</text>
<path d="M304.2 377.2h-2.6" stroke="#555" stroke-width="0.6"/>
<text x="305.8" y="379.95" class="cbt" textLength="16.6" lengthAdjust="spacingAndGlyphs">0.065</text>
<path d="M304.2 353.7h-2.6" stroke="#555" stroke-width="0.6"/>
<text x="305.8" y="356.45" class="cbt" textLength="12.91" lengthAdjust="spacingAndGlyphs">0.07</text>
<path d="M304.2 330.2h-2.6" stroke="#555" stroke-width="0.6"/>
<text x="305.8" y="332.95" class="cbt" textLength="16.6" lengthAdjust="spacingAndGlyphs">0.075</text>
<ellipse cx="290.1" cy="417.6" rx="9.2" ry="8.2" fill="none" stroke="#f00" stroke-width="2.8"/>
<path d="M282.6 409.6L237.65 342.23" stroke="#f00" stroke-width="1.55"/>
<path d="M235.1 338.4L239.4 341.06L235.91 343.39Z" fill="#f00"/>
<rect x="382.4" y="320.3" width="274.3" height="241" fill="#fff"/>
<clipPath id="cAVOA"><rect x="382.4" y="349.3" width="274.3" height="182.5"/></clipPath>
<filter id="fAVOA" filterUnits="userSpaceOnUse" x="382.4" y="349.3" width="274.3" height="182.5"><feGaussianBlur stdDeviation="0.45" edgeMode="duplicate"/></filter>
<g clip-path="url(#cAVOA)" filter="url(#fAVOA)"><g transform="translate(382.4 349.3) scale(9.1433 9.1250)">
<rect x="0" y="0" width="1.16" height="1.16" class="zb"/>
<rect x="1" y="0" width="1.16" height="1.16" class="zc"/>
<rect x="2" y="0" width="1.16" height="1.16" class="za"/>
<rect x="3" y="0" width="1.16" height="1.16" class="z5"/>
<rect x="4" y="0" width="1.16" height="1.16" class="za"/>
<rect x="5" y="0" width="1.16" height="1.16" class="zc"/>
<rect x="6" y="0" width="1.16" height="1.16" class="z6"/>
<rect x="7" y="0" width="1.16" height="1.16" class="za"/>
<rect x="8" y="0" width="1.16" height="1.16" class="z6"/>
<rect x="9" y="0" width="1.16" height="1.16" class="z4"/>
<rect x="10" y="0" width="1.16" height="1.16" class="z7"/>
<rect x="11" y="0" width="1.16" height="1.16" class="z7"/>
<rect x="12" y="0" width="1.16" height="1.16" class="z4"/>
<rect x="13" y="0" width="1.16" height="1.16" class="z9"/>
<rect x="14" y="0" width="1.16" height="1.16" class="z6"/>
<rect x="15" y="0" width="1.16" height="1.16" class="za"/>
<rect x="16" y="0" width="1.16" height="1.16" class="zd"/>
<rect x="17" y="0" width="1.16" height="1.16" class="zb"/>
<rect x="18" y="0" width="1.16" height="1.16" class="zb"/>
<rect x="19" y="0" width="1.16" height="1.16" class="z7"/>
<rect x="20" y="0" width="1.16" height="1.16" class="zb"/>
<rect x="21" y="0" width="1.16" height="1.16" class="za"/>
<rect x="22" y="0" width="1.16" height="1.16" class="za"/>
<rect x="23" y="0" width="1.16" height="1.16" class="z6"/>
<rect x="24" y="0" width="1.16" height="1.16" class="zc"/>
<rect x="25" y="0" width="1.16" height="1.16" class="z9"/>
<rect x="26" y="0" width="1.16" height="1.16" class="z5"/>
<rect x="27" y="0" width="1.16" height="1.16" class="z8"/>
<rect x="28" y="0" width="1.16" height="1.16" class="z8"/>
<rect x="29" y="0" width="1.16" height="1.16" class="zb"/>
<rect x="0" y="1" width="1.16" height="1.16" class="za"/>
<rect x="1" y="1" width="1.16" height="1.16" class="z6"/>
<rect x="2" y="1" width="1.16" height="1.16" class="zc"/>
<rect x="3" y="1" width="1.16" height="1.16" class="z7"/>
<rect x="4" y="1" width="1.16" height="1.16" class="z8"/>
<rect x="5" y="1" width="1.16" height="1.16" class="ze"/>
<rect x="6" y="1" width="1.16" height="1.16" class="z8"/>
<rect x="7" y="1" width="1.16" height="1.16" class="z2"/>
<rect x="8" y="1" width="1.16" height="1.16" class="ze"/>
<rect x="9" y="1" width="1.16" height="1.16" class="zb"/>
<rect x="10" y="1" width="1.16" height="1.16" class="zb"/>
<rect x="11" y="1" width="1.16" height="1.16" class="z3"/>
<rect x="12" y="1" width="1.16" height="1.16" class="zd"/>
<rect x="13" y="1" width="1.16" height="1.16" class="z6"/>
<rect x="14" y="1" width="1.16" height="1.16" class="z5"/>
<rect x="15" y="1" width="1.16" height="1.16" class="za"/>
<rect x="16" y="1" width="1.16" height="1.16" class="z7"/>
<rect x="17" y="1" width="1.16" height="1.16" class="zf"/>
<rect x="18" y="1" width="1.16" height="1.16" class="z8"/>
<rect x="19" y="1" width="1.16" height="1.16" class="z9"/>
<rect x="20" y="1" width="1.16" height="1.16" class="za"/>
<rect x="21" y="1" width="1.16" height="1.16" class="zd"/>
<rect x="22" y="1" width="1.16" height="1.16" class="z4"/>
<rect x="23" y="1" width="1.16" height="1.16" class="zd"/>
<rect x="24" y="1" width="1.16" height="1.16" class="zg"/>
<rect x="25" y="1" width="1.16" height="1.16" class="z5"/>
<rect x="26" y="1" width="1.16" height="1.16" class="z3"/>
<rect x="27" y="1" width="1.16" height="1.16" class="zc"/>
<rect x="28" y="1" width="1.16" height="1.16" class="za"/>
<rect x="29" y="1" width="1.16" height="1.16" class="zb"/>
<rect x="0" y="2" width="1.16" height="1.16" class="z8"/>
<rect x="1" y="2" width="1.16" height="1.16" class="z8"/>
<rect x="2" y="2" width="1.16" height="1.16" class="z5"/>
<rect x="3" y="2" width="1.16" height="1.16" class="z7"/>
<rect x="4" y="2" width="1.16" height="1.16" class="z7"/>
<rect x="5" y="2" width="1.16" height="1.16" class="zc"/>
<rect x="6" y="2" width="1.16" height="1.16" class="za"/>
<rect x="7" y="2" width="1.16" height="1.16" class="z6"/>
<rect x="8" y="2" width="1.16" height="1.16" class="zc"/>
<rect x="9" y="2" width="1.16" height="1.16" class="z8"/>
<rect x="10" y="2" width="1.16" height="1.16" class="z6"/>
<rect x="11" y="2" width="1.16" height="1.16" class="z7"/>
<rect x="12" y="2" width="1.16" height="1.16" class="z7"/>
<rect x="13" y="2" width="1.16" height="1.16" class="z8"/>
<rect x="14" y="2" width="1.16" height="1.16" class="ze"/>
<rect x="15" y="2" width="1.16" height="1.16" class="z8"/>
<rect x="16" y="2" width="1.16" height="1.16" class="z6"/>
<rect x="17" y="2" width="1.16" height="1.16" class="za"/>
<rect x="18" y="2" width="1.16" height="1.16" class="z4"/>
<rect x="19" y="2" width="1.16" height="1.16" class="z1"/>
<rect x="20" y="2" width="1.16" height="1.16" class="z5"/>
<rect x="21" y="2" width="1.16" height="1.16" class="z7"/>
<rect x="22" y="2" width="1.16" height="1.16" class="za"/>
<rect x="23" y="2" width="1.16" height="1.16" class="z7"/>
<rect x="24" y="2" width="1.16" height="1.16" class="z5"/>
<rect x="25" y="2" width="1.16" height="1.16" class="z5"/>
<rect x="26" y="2" width="1.16" height="1.16" class="ze"/>
<rect x="27" y="2" width="1.16" height="1.16" class="zc"/>
<rect x="28" y="2" width="1.16" height="1.16" class="za"/>
<rect x="29" y="2" width="1.16" height="1.16" class="za"/>
<rect x="0" y="3" width="1.16" height="1.16" class="z5"/>
<rect x="1" y="3" width="1.16" height="1.16" class="z8"/>
<rect x="2" y="3" width="1.16" height="1.16" class="zb"/>
<rect x="3" y="3" width="1.16" height="1.16" class="z4"/>
<rect x="4" y="3" width="1.16" height="1.16" class="z7"/>
<rect x="5" y="3" width="1.16" height="1.16" class="z6"/>
<rect x="6" y="3" width="1.16" height="1.16" class="za"/>
<rect x="7" y="3" width="1.16" height="1.16" class="zb"/>
<rect x="8" y="3" width="1.16" height="1.16" class="z4"/>
<rect x="9" y="3" width="1.16" height="1.16" class="z8"/>
<rect x="10" y="3" width="1.16" height="1.16" class="z7"/>
<rect x="11" y="3" width="1.16" height="1.16" class="z9"/>
<rect x="12" y="3" width="1.16" height="1.16" class="z6"/>
<rect x="13" y="3" width="1.16" height="1.16" class="z6"/>
<rect x="14" y="3" width="1.16" height="1.16" class="za"/>
<rect x="15" y="3" width="1.16" height="1.16" class="za"/>
<rect x="16" y="3" width="1.16" height="1.16" class="z8"/>
<rect x="17" y="3" width="1.16" height="1.16" class="zc"/>
<rect x="18" y="3" width="1.16" height="1.16" class="z8"/>
<rect x="19" y="3" width="1.16" height="1.16" class="zb"/>
<rect x="20" y="3" width="1.16" height="1.16" class="zd"/>
<rect x="21" y="3" width="1.16" height="1.16" class="za"/>
<rect x="22" y="3" width="1.16" height="1.16" class="z4"/>
<rect x="23" y="3" width="1.16" height="1.16" class="zb"/>
<rect x="24" y="3" width="1.16" height="1.16" class="z8"/>
<rect x="25" y="3" width="1.16" height="1.16" class="zc"/>
<rect x="26" y="3" width="1.16" height="1.16" class="z9"/>
<rect x="27" y="3" width="1.16" height="1.16" class="z4"/>
<rect x="28" y="3" width="1.16" height="1.16" class="za"/>
<rect x="29" y="3" width="1.16" height="1.16" class="z7"/>
<rect x="0" y="4" width="1.16" height="1.16" class="za"/>
<rect x="1" y="4" width="1.16" height="1.16" class="zb"/>
<rect x="2" y="4" width="1.16" height="1.16" class="zf"/>
<rect x="3" y="4" width="1.16" height="1.16" class="z4"/>
<rect x="4" y="4" width="1.16" height="1.16" class="z4"/>
<rect x="5" y="4" width="1.16" height="1.16" class="zf"/>
<rect x="6" y="4" width="1.16" height="1.16" class="za"/>
<rect x="7" y="4" width="1.16" height="1.16" class="za"/>
<rect x="8" y="4" width="1.16" height="1.16" class="z6"/>
<rect x="9" y="4" width="1.16" height="1.16" class="z8"/>
<rect x="10" y="4" width="1.16" height="1.16" class="zb"/>
<rect x="11" y="4" width="1.16" height="1.16" class="z8"/>
<rect x="12" y="4" width="1.16" height="1.16" class="zb"/>
<rect x="13" y="4" width="1.16" height="1.16" class="z8"/>
<rect x="14" y="4" width="1.16" height="1.16" class="z8"/>
<rect x="15" y="4" width="1.16" height="1.16" class="z7"/>
<rect x="16" y="4" width="1.16" height="1.16" class="za"/>
<rect x="17" y="4" width="1.16" height="1.16" class="z6"/>
<rect x="18" y="4" width="1.16" height="1.16" class="zb"/>
<rect x="19" y="4" width="1.16" height="1.16" class="z6"/>
<rect x="20" y="4" width="1.16" height="1.16" class="zb"/>
<rect x="21" y="4" width="1.16" height="1.16" class="z7"/>
<rect x="22" y="4" width="1.16" height="1.16" class="za"/>
<rect x="23" y="4" width="1.16" height="1.16" class="z6"/>
<rect x="24" y="4" width="1.16" height="1.16" class="zb"/>
<rect x="25" y="4" width="1.16" height="1.16" class="z8"/>
<rect x="26" y="4" width="1.16" height="1.16" class="z9"/>
<rect x="27" y="4" width="1.16" height="1.16" class="za"/>
<rect x="28" y="4" width="1.16" height="1.16" class="z5"/>
<rect x="29" y="4" width="1.16" height="1.16" class="za"/>
<rect x="0" y="5" width="1.16" height="1.16" class="z6"/>
<rect x="1" y="5" width="1.16" height="1.16" class="z3"/>
<rect x="2" y="5" width="1.16" height="1.16" class="zg"/>
<rect x="3" y="5" width="1.16" height="1.16" class="zb"/>
<rect x="4" y="5" width="1.16" height="1.16" class="za"/>
<rect x="5" y="5" width="1.16" height="1.16" class="z8"/>
<rect x="6" y="5" width="1.16" height="1.16" class="za"/>
<rect x="7" y="5" width="1.16" height="1.16" class="zg"/>
<rect x="8" y="5" width="1.16" height="1.16" class="z8"/>
<rect x="9" y="5" width="1.16" height="1.16" class="zd"/>
<rect x="10" y="5" width="1.16" height="1.16" class="z7"/>
<rect x="11" y="5" width="1.16" height="1.16" class="zi"/>
<rect x="12" y="5" width="1.16" height="1.16" class="z6"/>
<rect x="13" y="5" width="1.16" height="1.16" class="z7"/>
<rect x="14" y="5" width="1.16" height="1.16" class="z5"/>
<rect x="15" y="5" width="1.16" height="1.16" class="z7"/>
<rect x="16" y="5" width="1.16" height="1.16" class="z9"/>
<rect x="17" y="5" width="1.16" height="1.16" class="z3"/>
<rect x="18" y="5" width="1.16" height="1.16" class="z9"/>
<rect x="19" y="5" width="1.16" height="1.16" class="zd"/>
<rect x="20" y="5" width="1.16" height="1.16" class="z7"/>
<rect x="21" y="5" width="1.16" height="1.16" class="za"/>
<rect x="22" y="5" width="1.16" height="1.16" class="z7"/>
<rect x="23" y="5" width="1.16" height="1.16" class="z9"/>
<rect x="24" y="5" width="1.16" height="1.16" class="z9"/>
<rect x="25" y="5" width="1.16" height="1.16" class="z5"/>
<rect x="26" y="5" width="1.16" height="1.16" class="z3"/>
<rect x="27" y="5" width="1.16" height="1.16" class="zb"/>
<rect x="28" y="5" width="1.16" height="1.16" class="z8"/>
<rect x="29" y="5" width="1.16" height="1.16" class="z6"/>
<rect x="0" y="6" width="1.16" height="1.16" class="zb"/>
<rect x="1" y="6" width="1.16" height="1.16" class="zb"/>
<rect x="2" y="6" width="1.16" height="1.16" class="za"/>
<rect x="3" y="6" width="1.16" height="1.16" class="z4"/>
<rect x="4" y="6" width="1.16" height="1.16" class="zb"/>
<rect x="5" y="6" width="1.16" height="1.16" class="z4"/>
<rect x="6" y="6" width="1.16" height="1.16" class="z1"/>
<rect x="7" y="6" width="1.16" height="1.16" class="zg"/>
<rect x="8" y="6" width="1.16" height="1.16" class="z7"/>
<rect x="9" y="6" width="1.16" height="1.16" class="zg"/>
<rect x="10" y="6" width="1.16" height="1.16" class="z7"/>
<rect x="11" y="6" width="1.16" height="1.16" class="z8"/>
<rect x="12" y="6" width="1.16" height="1.16" class="z7"/>
<rect x="13" y="6" width="1.16" height="1.16" class="za"/>
<rect x="14" y="6" width="1.16" height="1.16" class="z5"/>
<rect x="15" y="6" width="1.16" height="1.16" class="z8"/>
<rect x="16" y="6" width="1.16" height="1.16" class="za"/>
<rect x="17" y="6" width="1.16" height="1.16" class="z6"/>
<rect x="18" y="6" width="1.16" height="1.16" class="z9"/>
<rect x="19" y="6" width="1.16" height="1.16" class="z6"/>
<rect x="20" y="6" width="1.16" height="1.16" class="z6"/>
<rect x="21" y="6" width="1.16" height="1.16" class="z7"/>
<rect x="22" y="6" width="1.16" height="1.16" class="za"/>
<rect x="23" y="6" width="1.16" height="1.16" class="z7"/>
<rect x="24" y="6" width="1.16" height="1.16" class="z7"/>
<rect x="25" y="6" width="1.16" height="1.16" class="z8"/>
<rect x="26" y="6" width="1.16" height="1.16" class="z2"/>
<rect x="27" y="6" width="1.16" height="1.16" class="za"/>
<rect x="28" y="6" width="1.16" height="1.16" class="z7"/>
<rect x="29" y="6" width="1.16" height="1.16" class="z6"/>
<rect x="0" y="7" width="1.16" height="1.16" class="zd"/>
<rect x="1" y="7" width="1.16" height="1.16" class="za"/>
<rect x="2" y="7" width="1.16" height="1.16" class="z6"/>
<rect x="3" y="7" width="1.16" height="1.16" class="zb"/>
<rect x="4" y="7" width="1.16" height="1.16" class="z8"/>
<rect x="5" y="7" width="1.16" height="1.16" class="z7"/>
<rect x="6" y="7" width="1.16" height="1.16" class="z4"/>
<rect x="7" y="7" width="1.16" height="1.16" class="z8"/>
<rect x="8" y="7" width="1.16" height="1.16" class="zb"/>
<rect x="9" y="7" width="1.16" height="1.16" class="z8"/>
<rect x="10" y="7" width="1.16" height="1.16" class="za"/>
<rect x="11" y="7" width="1.16" height="1.16" class="z8"/>
<rect x="12" y="7" width="1.16" height="1.16" class="z8"/>
<rect x="13" y="7" width="1.16" height="1.16" class="z6"/>
<rect x="14" y="7" width="1.16" height="1.16" class="zd"/>
<rect x="15" y="7" width="1.16" height="1.16" class="zb"/>
<rect x="16" y="7" width="1.16" height="1.16" class="za"/>
<rect x="17" y="7" width="1.16" height="1.16" class="z6"/>
<rect x="18" y="7" width="1.16" height="1.16" class="zb"/>
<rect x="19" y="7" width="1.16" height="1.16" class="z8"/>
<rect x="20" y="7" width="1.16" height="1.16" class="za"/>
<rect x="21" y="7" width="1.16" height="1.16" class="zb"/>
<rect x="22" y="7" width="1.16" height="1.16" class="z6"/>
<rect x="23" y="7" width="1.16" height="1.16" class="z9"/>
<rect x="24" y="7" width="1.16" height="1.16" class="z8"/>
<rect x="25" y="7" width="1.16" height="1.16" class="z7"/>
<rect x="26" y="7" width="1.16" height="1.16" class="z7"/>
<rect x="27" y="7" width="1.16" height="1.16" class="zb"/>
<rect x="28" y="7" width="1.16" height="1.16" class="z7"/>
<rect x="29" y="7" width="1.16" height="1.16" class="z8"/>
<rect x="0" y="8" width="1.16" height="1.16" class="zb"/>
<rect x="1" y="8" width="1.16" height="1.16" class="z6"/>
<rect x="2" y="8" width="1.16" height="1.16" class="zb"/>
<rect x="3" y="8" width="1.16" height="1.16" class="z7"/>
<rect x="4" y="8" width="1.16" height="1.16" class="za"/>
<rect x="5" y="8" width="1.16" height="1.16" class="za"/>
<rect x="6" y="8" width="1.16" height="1.16" class="z8"/>
<rect x="7" y="8" width="1.16" height="1.16" class="z6"/>
<rect x="8" y="8" width="1.16" height="1.16" class="z6"/>
<rect x="9" y="8" width="1.16" height="1.16" class="z6"/>
<rect x="10" y="8" width="1.16" height="1.16" class="z8"/>
<rect x="11" y="8" width="1.16" height="1.16" class="z7"/>
<rect x="12" y="8" width="1.16" height="1.16" class="za"/>
<rect x="13" y="8" width="1.16" height="1.16" class="z7"/>
<rect x="14" y="8" width="1.16" height="1.16" class="z7"/>
<rect x="15" y="8" width="1.16" height="1.16" class="z8"/>
<rect x="16" y="8" width="1.16" height="1.16" class="z5"/>
<rect x="17" y="8" width="1.16" height="1.16" class="z9"/>
<rect x="18" y="8" width="1.16" height="1.16" class="z9"/>
<rect x="19" y="8" width="1.16" height="1.16" class="z8"/>
<rect x="20" y="8" width="1.16" height="1.16" class="zb"/>
<rect x="21" y="8" width="1.16" height="1.16" class="z5"/>
<rect x="22" y="8" width="1.16" height="1.16" class="zc"/>
<rect x="23" y="8" width="1.16" height="1.16" class="ze"/>
<rect x="24" y="8" width="1.16" height="1.16" class="za"/>
<rect x="25" y="8" width="1.16" height="1.16" class="z8"/>
<rect x="26" y="8" width="1.16" height="1.16" class="z7"/>
<rect x="27" y="8" width="1.16" height="1.16" class="zb"/>
<rect x="28" y="8" width="1.16" height="1.16" class="za"/>
<rect x="29" y="8" width="1.16" height="1.16" class="ze"/>
<rect x="0" y="9" width="1.16" height="1.16" class="za"/>
<rect x="1" y="9" width="1.16" height="1.16" class="z6"/>
<rect x="2" y="9" width="1.16" height="1.16" class="za"/>
<rect x="3" y="9" width="1.16" height="1.16" class="zg"/>
<rect x="4" y="9" width="1.16" height="1.16" class="z8"/>
<rect x="5" y="9" width="1.16" height="1.16" class="z8"/>
<rect x="6" y="9" width="1.16" height="1.16" class="zd"/>
<rect x="7" y="9" width="1.16" height="1.16" class="z0"/>
<rect x="8" y="9" width="1.16" height="1.16" class="z4"/>
<rect x="9" y="9" width="1.16" height="1.16" class="za"/>
<rect x="10" y="9" width="1.16" height="1.16" class="z3"/>
<rect x="11" y="9" width="1.16" height="1.16" class="z4"/>
<rect x="12" y="9" width="1.16" height="1.16" class="zb"/>
<rect x="13" y="9" width="1.16" height="1.16" class="z6"/>
<rect x="14" y="9" width="1.16" height="1.16" class="ze"/>
<rect x="15" y="9" width="1.16" height="1.16" class="zd"/>
<rect x="16" y="9" width="1.16" height="1.16" class="z5"/>
<rect x="17" y="9" width="1.16" height="1.16" class="z6"/>
<rect x="18" y="9" width="1.16" height="1.16" class="zb"/>
<rect x="19" y="9" width="1.16" height="1.16" class="z5"/>
<rect x="20" y="9" width="1.16" height="1.16" class="z8"/>
<rect x="21" y="9" width="1.16" height="1.16" class="zb"/>
<rect x="22" y="9" width="1.16" height="1.16" class="zb"/>
<rect x="23" y="9" width="1.16" height="1.16" class="z8"/>
<rect x="24" y="9" width="1.16" height="1.16" class="z6"/>
<rect x="25" y="9" width="1.16" height="1.16" class="z8"/>
<rect x="26" y="9" width="1.16" height="1.16" class="z8"/>
<rect x="27" y="9" width="1.16" height="1.16" class="za"/>
<rect x="28" y="9" width="1.16" height="1.16" class="za"/>
<rect x="29" y="9" width="1.16" height="1.16" class="z7"/>
<rect x="0" y="10" width="1.16" height="1.16" class="zb"/>
<rect x="1" y="10" width="1.16" height="1.16" class="zb"/>
<rect x="2" y="10" width="1.16" height="1.16" class="zc"/>
<rect x="3" y="10" width="1.16" height="1.16" class="zb"/>
<rect x="4" y="10" width="1.16" height="1.16" class="zd"/>
<rect x="5" y="10" width="1.16" height="1.16" class="z7"/>
<rect x="6" y="10" width="1.16" height="1.16" class="za"/>
<rect x="7" y="10" width="1.16" height="1.16" class="z1"/>
<rect x="8" y="10" width="1.16" height="1.16" class="za"/>
<rect x="9" y="10" width="1.16" height="1.16" class="z8"/>
<rect x="10" y="10" width="1.16" height="1.16" class="z6"/>
<rect x="11" y="10" width="1.16" height="1.16" class="za"/>
<rect x="12" y="10" width="1.16" height="1.16" class="z8"/>
<rect x="13" y="10" width="1.16" height="1.16" class="z8"/>
<rect x="14" y="10" width="1.16" height="1.16" class="z7"/>
<rect x="15" y="10" width="1.16" height="1.16" class="zb"/>
<rect x="16" y="10" width="1.16" height="1.16" class="z7"/>
<rect x="17" y="10" width="1.16" height="1.16" class="za"/>
<rect x="18" y="10" width="1.16" height="1.16" class="zc"/>
<rect x="19" y="10" width="1.16" height="1.16" class="z5"/>
<rect x="20" y="10" width="1.16" height="1.16" class="z4"/>
<rect x="21" y="10" width="1.16" height="1.16" class="z7"/>
<rect x="22" y="10" width="1.16" height="1.16" class="z7"/>
<rect x="23" y="10" width="1.16" height="1.16" class="zc"/>
<rect x="24" y="10" width="1.16" height="1.16" class="zc"/>
<rect x="25" y="10" width="1.16" height="1.16" class="z8"/>
<rect x="26" y="10" width="1.16" height="1.16" class="z4"/>
<rect x="27" y="10" width="1.16" height="1.16" class="z5"/>
<rect x="28" y="10" width="1.16" height="1.16" class="z8"/>
<rect x="29" y="10" width="1.16" height="1.16" class="z7"/>
<rect x="0" y="11" width="1.16" height="1.16" class="z4"/>
<rect x="1" y="11" width="1.16" height="1.16" class="za"/>
<rect x="2" y="11" width="1.16" height="1.16" class="z7"/>
<rect x="3" y="11" width="1.16" height="1.16" class="zb"/>
<rect x="4" y="11" width="1.16" height="1.16" class="z8"/>
<rect x="5" y="11" width="1.16" height="1.16" class="za"/>
<rect x="6" y="11" width="1.16" height="1.16" class="zb"/>
<rect x="7" y="11" width="1.16" height="1.16" class="zc"/>
<rect x="8" y="11" width="1.16" height="1.16" class="z7"/>
<rect x="9" y="11" width="1.16" height="1.16" class="zb"/>
<rect x="10" y="11" width="1.16" height="1.16" class="z8"/>
<rect x="11" y="11" width="1.16" height="1.16" class="z8"/>
<rect x="12" y="11" width="1.16" height="1.16" class="z6"/>
<rect x="13" y="11" width="1.16" height="1.16" class="z1"/>
<rect x="14" y="11" width="1.16" height="1.16" class="z8"/>
<rect x="15" y="11" width="1.16" height="1.16" class="zb"/>
<rect x="16" y="11" width="1.16" height="1.16" class="z6"/>
<rect x="17" y="11" width="1.16" height="1.16" class="za"/>
<rect x="18" y="11" width="1.16" height="1.16" class="za"/>
<rect x="19" y="11" width="1.16" height="1.16" class="za"/>
<rect x="20" y="11" width="1.16" height="1.16" class="zc"/>
<rect x="21" y="11" width="1.16" height="1.16" class="z7"/>
<rect x="22" y="11" width="1.16" height="1.16" class="z5"/>
<rect x="23" y="11" width="1.16" height="1.16" class="z5"/>
<rect x="24" y="11" width="1.16" height="1.16" class="z6"/>
<rect x="25" y="11" width="1.16" height="1.16" class="zb"/>
<rect x="26" y="11" width="1.16" height="1.16" class="z9"/>
<rect x="27" y="11" width="1.16" height="1.16" class="za"/>
<rect x="28" y="11" width="1.16" height="1.16" class="zb"/>
<rect x="29" y="11" width="1.16" height="1.16" class="z8"/>
<rect x="0" y="12" width="1.16" height="1.16" class="z6"/>
<rect x="1" y="12" width="1.16" height="1.16" class="z5"/>
<rect x="2" y="12" width="1.16" height="1.16" class="z7"/>
<rect x="3" y="12" width="1.16" height="1.16" class="z4"/>
<rect x="4" y="12" width="1.16" height="1.16" class="z1"/>
<rect x="5" y="12" width="1.16" height="1.16" class="ze"/>
<rect x="6" y="12" width="1.16" height="1.16" class="z8"/>
<rect x="7" y="12" width="1.16" height="1.16" class="za"/>
<rect x="8" y="12" width="1.16" height="1.16" class="z7"/>
<rect x="9" y="12" width="1.16" height="1.16" class="za"/>
<rect x="10" y="12" width="1.16" height="1.16" class="z9"/>
<rect x="11" y="12" width="1.16" height="1.16" class="z8"/>
<rect x="12" y="12" width="1.16" height="1.16" class="z6"/>
<rect x="13" y="12" width="1.16" height="1.16" class="z7"/>
<rect x="14" y="12" width="1.16" height="1.16" class="zb"/>
<rect x="15" y="12" width="1.16" height="1.16" class="za"/>
<rect x="16" y="12" width="1.16" height="1.16" class="z9"/>
<rect x="17" y="12" width="1.16" height="1.16" class="zc"/>
<rect x="18" y="12" width="1.16" height="1.16" class="zc"/>
<rect x="19" y="12" width="1.16" height="1.16" class="za"/>
<rect x="20" y="12" width="1.16" height="1.16" class="zb"/>
<rect x="21" y="12" width="1.16" height="1.16" class="z7"/>
<rect x="22" y="12" width="1.16" height="1.16" class="z5"/>
<rect x="23" y="12" width="1.16" height="1.16" class="zf"/>
<rect x="24" y="12" width="1.16" height="1.16" class="zd"/>
<rect x="25" y="12" width="1.16" height="1.16" class="zb"/>
<rect x="26" y="12" width="1.16" height="1.16" class="zc"/>
<rect x="27" y="12" width="1.16" height="1.16" class="z6"/>
<rect x="28" y="12" width="1.16" height="1.16" class="z8"/>
<rect x="29" y="12" width="1.16" height="1.16" class="z6"/>
<rect x="0" y="13" width="1.16" height="1.16" class="z7"/>
<rect x="1" y="13" width="1.16" height="1.16" class="zd"/>
<rect x="2" y="13" width="1.16" height="1.16" class="z9"/>
<rect x="3" y="13" width="1.16" height="1.16" class="z7"/>
<rect x="4" y="13" width="1.16" height="1.16" class="z5"/>
<rect x="5" y="13" width="1.16" height="1.16" class="zg"/>
<rect x="6" y="13" width="1.16" height="1.16" class="z5"/>
<rect x="7" y="13" width="1.16" height="1.16" class="za"/>
<rect x="8" y="13" width="1.16" height="1.16" class="z6"/>
<rect x="9" y="13" width="1.16" height="1.16" class="z9"/>
<rect x="10" y="13" width="1.16" height="1.16" class="zd"/>
<rect x="11" y="13" width="1.16" height="1.16" class="za"/>
<rect x="12" y="13" width="1.16" height="1.16" class="z8"/>
<rect x="13" y="13" width="1.16" height="1.16" class="z7"/>
<rect x="14" y="13" width="1.16" height="1.16" class="z7"/>
<rect x="15" y="13" width="1.16" height="1.16" class="z6"/>
<rect x="16" y="13" width="1.16" height="1.16" class="za"/>
<rect x="17" y="13" width="1.16" height="1.16" class="z8"/>
<rect x="18" y="13" width="1.16" height="1.16" class="z8"/>
<rect x="19" y="13" width="1.16" height="1.16" class="z9"/>
<rect x="20" y="13" width="1.16" height="1.16" class="za"/>
<rect x="21" y="13" width="1.16" height="1.16" class="zb"/>
<rect x="22" y="13" width="1.16" height="1.16" class="zb"/>
<rect x="23" y="13" width="1.16" height="1.16" class="z7"/>
<rect x="24" y="13" width="1.16" height="1.16" class="za"/>
<rect x="25" y="13" width="1.16" height="1.16" class="z8"/>
<rect x="26" y="13" width="1.16" height="1.16" class="z7"/>
<rect x="27" y="13" width="1.16" height="1.16" class="z9"/>
<rect x="28" y="13" width="1.16" height="1.16" class="zc"/>
<rect x="29" y="13" width="1.16" height="1.16" class="z6"/>
<rect x="0" y="14" width="1.16" height="1.16" class="z8"/>
<rect x="1" y="14" width="1.16" height="1.16" class="zb"/>
<rect x="2" y="14" width="1.16" height="1.16" class="zd"/>
<rect x="3" y="14" width="1.16" height="1.16" class="za"/>
<rect x="4" y="14" width="1.16" height="1.16" class="z7"/>
<rect x="5" y="14" width="1.16" height="1.16" class="z7"/>
<rect x="6" y="14" width="1.16" height="1.16" class="z8"/>
<rect x="7" y="14" width="1.16" height="1.16" class="z9"/>
<rect x="8" y="14" width="1.16" height="1.16" class="z8"/>
<rect x="9" y="14" width="1.16" height="1.16" class="za"/>
<rect x="10" y="14" width="1.16" height="1.16" class="za"/>
<rect x="11" y="14" width="1.16" height="1.16" class="z9"/>
<rect x="12" y="14" width="1.16" height="1.16" class="z6"/>
<rect x="13" y="14" width="1.16" height="1.16" class="z9"/>
<rect x="14" y="14" width="1.16" height="1.16" class="za"/>
<rect x="15" y="14" width="1.16" height="1.16" class="z6"/>
<rect x="16" y="14" width="1.16" height="1.16" class="z9"/>
<rect x="17" y="14" width="1.16" height="1.16" class="z7"/>
<rect x="18" y="14" width="1.16" height="1.16" class="z8"/>
<rect x="19" y="14" width="1.16" height="1.16" class="z7"/>
<rect x="20" y="14" width="1.16" height="1.16" class="z9"/>
<rect x="21" y="14" width="1.16" height="1.16" class="z7"/>
<rect x="22" y="14" width="1.16" height="1.16" class="z8"/>
<rect x="23" y="14" width="1.16" height="1.16" class="z9"/>
<rect x="24" y="14" width="1.16" height="1.16" class="zc"/>
<rect x="25" y="14" width="1.16" height="1.16" class="za"/>
<rect x="26" y="14" width="1.16" height="1.16" class="z7"/>
<rect x="27" y="14" width="1.16" height="1.16" class="ze"/>
<rect x="28" y="14" width="1.16" height="1.16" class="za"/>
<rect x="29" y="14" width="1.16" height="1.16" class="z5"/>
<rect x="0" y="15" width="1.16" height="1.16" class="za"/>
<rect x="1" y="15" width="1.16" height="1.16" class="z9"/>
<rect x="2" y="15" width="1.16" height="1.16" class="z6"/>
<rect x="3" y="15" width="1.16" height="1.16" class="za"/>
<rect x="4" y="15" width="1.16" height="1.16" class="z7"/>
<rect x="5" y="15" width="1.16" height="1.16" class="z7"/>
<rect x="6" y="15" width="1.16" height="1.16" class="za"/>
<rect x="7" y="15" width="1.16" height="1.16" class="z8"/>
<rect x="8" y="15" width="1.16" height="1.16" class="zb"/>
<rect x="9" y="15" width="1.16" height="1.16" class="z6"/>
<rect x="10" y="15" width="1.16" height="1.16" class="za"/>
<rect x="11" y="15" width="1.16" height="1.16" class="zc"/>
<rect x="12" y="15" width="1.16" height="1.16" class="ze"/>
<rect x="13" y="15" width="1.16" height="1.16" class="z6"/>
<rect x="14" y="15" width="1.16" height="1.16" class="z5"/>
<rect x="15" y="15" width="1.16" height="1.16" class="z6"/>
<rect x="16" y="15" width="1.16" height="1.16" class="z9"/>
<rect x="17" y="15" width="1.16" height="1.16" class="zc"/>
<rect x="18" y="15" width="1.16" height="1.16" class="z6"/>
<rect x="19" y="15" width="1.16" height="1.16" class="zd"/>
<rect x="20" y="15" width="1.16" height="1.16" class="z5"/>
<rect x="21" y="15" width="1.16" height="1.16" class="zb"/>
<rect x="22" y="15" width="1.16" height="1.16" class="z6"/>
<rect x="23" y="15" width="1.16" height="1.16" class="z8"/>
<rect x="24" y="15" width="1.16" height="1.16" class="z6"/>
<rect x="25" y="15" width="1.16" height="1.16" class="zb"/>
<rect x="26" y="15" width="1.16" height="1.16" class="zc"/>
<rect x="27" y="15" width="1.16" height="1.16" class="zc"/>
<rect x="28" y="15" width="1.16" height="1.16" class="z9"/>
<rect x="29" y="15" width="1.16" height="1.16" class="z8"/>
<rect x="0" y="16" width="1.16" height="1.16" class="zb"/>
<rect x="1" y="16" width="1.16" height="1.16" class="za"/>
<rect x="2" y="16" width="1.16" height="1.16" class="zg"/>
<rect x="3" y="16" width="1.16" height="1.16" class="z8"/>
<rect x="4" y="16" width="1.16" height="1.16" class="z9"/>
<rect x="5" y="16" width="1.16" height="1.16" class="ze"/>
<rect x="6" y="16" width="1.16" height="1.16" class="ze"/>
<rect x="7" y="16" width="1.16" height="1.16" class="zc"/>
<rect x="8" y="16" width="1.16" height="1.16" class="z7"/>
<rect x="9" y="16" width="1.16" height="1.16" class="z7"/>
<rect x="10" y="16" width="1.16" height="1.16" class="z7"/>
<rect x="11" y="16" width="1.16" height="1.16" class="za"/>
<rect x="12" y="16" width="1.16" height="1.16" class="z6"/>
<rect x="13" y="16" width="1.16" height="1.16" class="za"/>
<rect x="14" y="16" width="1.16" height="1.16" class="z9"/>
<rect x="15" y="16" width="1.16" height="1.16" class="z7"/>
<rect x="16" y="16" width="1.16" height="1.16" class="z7"/>
<rect x="17" y="16" width="1.16" height="1.16" class="z3"/>
<rect x="18" y="16" width="1.16" height="1.16" class="z7"/>
<rect x="19" y="16" width="1.16" height="1.16" class="z6"/>
<rect x="20" y="16" width="1.16" height="1.16" class="z9"/>
<rect x="21" y="16" width="1.16" height="1.16" class="z8"/>
<rect x="22" y="16" width="1.16" height="1.16" class="z6"/>
<rect x="23" y="16" width="1.16" height="1.16" class="za"/>
<rect x="24" y="16" width="1.16" height="1.16" class="z7"/>
<rect x="25" y="16" width="1.16" height="1.16" class="z7"/>
<rect x="26" y="16" width="1.16" height="1.16" class="z9"/>
<rect x="27" y="16" width="1.16" height="1.16" class="zb"/>
<rect x="28" y="16" width="1.16" height="1.16" class="zc"/>
<rect x="29" y="16" width="1.16" height="1.16" class="z6"/>
<rect x="0" y="17" width="1.16" height="1.16" class="z7"/>
<rect x="1" y="17" width="1.16" height="1.16" class="za"/>
<rect x="2" y="17" width="1.16" height="1.16" class="z6"/>
<rect x="3" y="17" width="1.16" height="1.16" class="zb"/>
<rect x="4" y="17" width="1.16" height="1.16" class="zd"/>
<rect x="5" y="17" width="1.16" height="1.16" class="zh"/>
<rect x="6" y="17" width="1.16" height="1.16" class="za"/>
<rect x="7" y="17" width="1.16" height="1.16" class="za"/>
<rect x="8" y="17" width="1.16" height="1.16" class="zg"/>
<rect x="9" y="17" width="1.16" height="1.16" class="z8"/>
<rect x="10" y="17" width="1.16" height="1.16" class="z6"/>
<rect x="11" y="17" width="1.16" height="1.16" class="za"/>
<rect x="12" y="17" width="1.16" height="1.16" class="z8"/>
<rect x="13" y="17" width="1.16" height="1.16" class="zc"/>
<rect x="14" y="17" width="1.16" height="1.16" class="z6"/>
<rect x="15" y="17" width="1.16" height="1.16" class="zc"/>
<rect x="16" y="17" width="1.16" height="1.16" class="z7"/>
<rect x="17" y="17" width="1.16" height="1.16" class="zb"/>
<rect x="18" y="17" width="1.16" height="1.16" class="zb"/>
<rect x="19" y="17" width="1.16" height="1.16" class="zd"/>
<rect x="20" y="17" width="1.16" height="1.16" class="zb"/>
<rect x="21" y="17" width="1.16" height="1.16" class="z6"/>
<rect x="22" y="17" width="1.16" height="1.16" class="za"/>
<rect x="23" y="17" width="1.16" height="1.16" class="zd"/>
<rect x="24" y="17" width="1.16" height="1.16" class="zb"/>
<rect x="25" y="17" width="1.16" height="1.16" class="zb"/>
<rect x="26" y="17" width="1.16" height="1.16" class="zd"/>
<rect x="27" y="17" width="1.16" height="1.16" class="z6"/>
<rect x="28" y="17" width="1.16" height="1.16" class="zb"/>
<rect x="29" y="17" width="1.16" height="1.16" class="za"/>
<rect x="0" y="18" width="1.16" height="1.16" class="z7"/>
<rect x="1" y="18" width="1.16" height="1.16" class="z7"/>
<rect x="2" y="18" width="1.16" height="1.16" class="z6"/>
<rect x="3" y="18" width="1.16" height="1.16" class="z8"/>
<rect x="4" y="18" width="1.16" height="1.16" class="zb"/>
<rect x="5" y="18" width="1.16" height="1.16" class="z8"/>
<rect x="6" y="18" width="1.16" height="1.16" class="z6"/>
<rect x="7" y="18" width="1.16" height="1.16" class="za"/>
<rect x="8" y="18" width="1.16" height="1.16" class="zc"/>
<rect x="9" y="18" width="1.16" height="1.16" class="z8"/>
<rect x="10" y="18" width="1.16" height="1.16" class="zb"/>
<rect x="11" y="18" width="1.16" height="1.16" class="za"/>
<rect x="12" y="18" width="1.16" height="1.16" class="zf"/>
<rect x="13" y="18" width="1.16" height="1.16" class="zh"/>
<rect x="14" y="18" width="1.16" height="1.16" class="z9"/>
<rect x="15" y="18" width="1.16" height="1.16" class="zb"/>
<rect x="16" y="18" width="1.16" height="1.16" class="ze"/>
<rect x="17" y="18" width="1.16" height="1.16" class="z8"/>
<rect x="18" y="18" width="1.16" height="1.16" class="zf"/>
<rect x="19" y="18" width="1.16" height="1.16" class="z9"/>
<rect x="20" y="18" width="1.16" height="1.16" class="zd"/>
<rect x="21" y="18" width="1.16" height="1.16" class="zb"/>
<rect x="22" y="18" width="1.16" height="1.16" class="za"/>
<rect x="23" y="18" width="1.16" height="1.16" class="zf"/>
<rect x="24" y="18" width="1.16" height="1.16" class="za"/>
<rect x="25" y="18" width="1.16" height="1.16" class="zb"/>
<rect x="26" y="18" width="1.16" height="1.16" class="z7"/>
<rect x="27" y="18" width="1.16" height="1.16" class="z8"/>
<rect x="28" y="18" width="1.16" height="1.16" class="zb"/>
<rect x="29" y="18" width="1.16" height="1.16" class="z7"/>
<rect x="0" y="19" width="1.16" height="1.16" class="zh"/>
<rect x="1" y="19" width="1.16" height="1.16" class="zd"/>
<rect x="2" y="19" width="1.16" height="1.16" class="zh"/>
<rect x="3" y="19" width="1.16" height="1.16" class="zc"/>
<rect x="4" y="19" width="1.16" height="1.16" class="zc"/>
<rect x="5" y="19" width="1.16" height="1.16" class="zf"/>
<rect x="6" y="19" width="1.16" height="1.16" class="ze"/>
<rect x="7" y="19" width="1.16" height="1.16" class="zh"/>
<rect x="8" y="19" width="1.16" height="1.16" class="ze"/>
<rect x="9" y="19" width="1.16" height="1.16" class="ze"/>
<rect x="10" y="19" width="1.16" height="1.16" class="zc"/>
<rect x="11" y="19" width="1.16" height="1.16" class="zg"/>
<rect x="12" y="19" width="1.16" height="1.16" class="zh"/>
<rect x="13" y="19" width="1.16" height="1.16" class="zh"/>
<rect x="14" y="19" width="1.16" height="1.16" class="zh"/>
<rect x="15" y="19" width="1.16" height="1.16" class="zf"/>
<rect x="16" y="19" width="1.16" height="1.16" class="zi"/>
<rect x="17" y="19" width="1.16" height="1.16" class="zc"/>
<rect x="18" y="19" width="1.16" height="1.16" class="zg"/>
<rect x="19" y="19" width="1.16" height="1.16" class="zc"/>
<rect x="20" y="19" width="1.16" height="1.16" class="zd"/>
<rect x="21" y="19" width="1.16" height="1.16" class="zk"/>
<rect x="22" y="19" width="1.16" height="1.16" class="zi"/>
<rect x="23" y="19" width="1.16" height="1.16" class="zj"/>
<rect x="24" y="19" width="1.16" height="1.16" class="zj"/>
<rect x="25" y="19" width="1.16" height="1.16" class="zh"/>
<rect x="26" y="19" width="1.16" height="1.16" class="zf"/>
<rect x="27" y="19" width="1.16" height="1.16" class="ze"/>
<rect x="28" y="19" width="1.16" height="1.16" class="ze"/>
<rect x="29" y="19" width="1.16" height="1.16" class="zc"/>
</g></g>
<rect x="382.4" y="320.3" width="274.3" height="241" fill="none" stroke="#c4c4c4" stroke-width="0.8"/>
<path d="M423.54 561.3v-2.8M423.54 320.3v2.8M469.26 561.3v-2.8M469.26 320.3v2.8M514.98 561.3v-2.8M514.98 320.3v2.8M560.7 561.3v-2.8M560.7 320.3v2.8M606.41 561.3v-2.8M606.41 320.3v2.8M652.13 561.3v-2.8M652.13 320.3v2.8M382.4 536.36h2.8M656.7 536.36h-2.8M382.4 490.74h2.8M656.7 490.74h-2.8M382.4 445.11h2.8M656.7 445.11h-2.8M382.4 399.49h2.8M656.7 399.49h-2.8M382.4 353.86h2.8M656.7 353.86h-2.8" stroke="#777" stroke-width="0.6" fill="none"/>
<text x="423.54" y="571.1" text-anchor="middle" class="tk">5</text>
<text x="469.26" y="571.1" text-anchor="middle" class="tk">10</text>
<text x="514.98" y="571.1" text-anchor="middle" class="tk">15</text>
<text x="560.7" y="571.1" text-anchor="middle" class="tk">20</text>
<text x="606.41" y="571.1" text-anchor="middle" class="tk">25</text>
<text x="652.13" y="571.1" text-anchor="middle" class="tk">30</text>
<text x="380.1" y="539.46" text-anchor="end" class="tky">0</text>
<text x="380.1" y="493.84" text-anchor="end" class="tky">5</text>
<text x="380.1" y="448.21" text-anchor="end" class="tky">10</text>
<text x="380.1" y="402.59" text-anchor="end" class="tky">15</text>
<text x="380.1" y="356.96" text-anchor="end" class="tky">20</text>
<text x="519.55" y="580.9" text-anchor="middle" class="lb">Number of Runs</text>
<text transform="translate(369.1 440.8) rotate(-90)" text-anchor="middle" class="lb">Number of Neurons</text>
<text x="411.7" y="317.2" class="ti" textLength="213.7" lengthAdjust="spacingAndGlyphs">Heatmap for results of MSE for train dataset with AVOA</text>
<text x="386.9" y="331.1" class="an" textLength="122.3" lengthAdjust="spacingAndGlyphs">Best number of neurons=11</text>
<text x="525.8" y="331.1" class="an" textLength="129.8" lengthAdjust="spacingAndGlyphs">MSE for Train dataset=0.0272</text>
<text x="459.5" y="343.8" class="r2">R</text>
<text x="467.4" y="339.6" class="sup">2</text>
<text x="473.4" y="343.8" class="an" textLength="107.8" lengthAdjust="spacingAndGlyphs">for Train dataset=0.9109</text>
<rect x="659.7" y="320.1" width="6.2" height="241.5" fill="url(#par)"/>
<rect x="659.7" y="320.1" width="6.2" height="241.5" fill="none" stroke="#c4c4c4" stroke-width="0.6"/>
<path d="M665.9 534h-2.6" stroke="#555" stroke-width="0.6"/>
<text x="667.5" y="536.75" class="cbt" textLength="12.91" lengthAdjust="spacingAndGlyphs">0.03</text>
<path d="M665.9 484h-2.6" stroke="#555" stroke-width="0.6"/>
<text x="667.5" y="486.75" class="cbt" textLength="16.6" lengthAdjust="spacingAndGlyphs">0.035</text>
<path d="M665.9 434h-2.6" stroke="#555" stroke-width="0.6"/>
<text x="667.5" y="436.75" class="cbt" textLength="12.91" lengthAdjust="spacingAndGlyphs">0.04</text>
<path d="M665.9 384h-2.6" stroke="#555" stroke-width="0.6"/>
<text x="667.5" y="386.75" class="cbt" textLength="16.6" lengthAdjust="spacingAndGlyphs">0.045</text>
<path d="M665.9 334h-2.6" stroke="#555" stroke-width="0.6"/>
<text x="667.5" y="336.75" class="cbt" textLength="12.91" lengthAdjust="spacingAndGlyphs">0.05</text>
<ellipse cx="450.8" cy="438" rx="9.25" ry="8.1" fill="none" stroke="#f00" stroke-width="2.8"/>
<path d="M450.4 428.6L436.61 340.64" stroke="#f00" stroke-width="1.55"/>
<path d="M435.9 336.1L438.69 340.32L434.54 340.97Z" fill="#f00"/>
<rect x="221.3" y="634.6" width="274.5" height="241.1" fill="#fff"/>
<clipPath id="cSPO"><rect x="221.3" y="664" width="274.5" height="182.6"/></clipPath>
<filter id="fSPO" filterUnits="userSpaceOnUse" x="221.3" y="664" width="274.5" height="182.6"><feGaussianBlur stdDeviation="0.45" edgeMode="duplicate"/></filter>
<g clip-path="url(#cSPO)" filter="url(#fSPO)"><g transform="translate(221.3 664) scale(9.1500 9.1300)">
<rect x="0" y="0" width="1.16" height="1.16" class="z4"/>
<rect x="1" y="0" width="1.16" height="1.16" class="z4"/>
<rect x="2" y="0" width="1.16" height="1.16" class="z4"/>
<rect x="3" y="0" width="1.16" height="1.16" class="z2"/>
<rect x="4" y="0" width="1.16" height="1.16" class="z4"/>
<rect x="5" y="0" width="1.16" height="1.16" class="z3"/>
<rect x="6" y="0" width="1.16" height="1.16" class="z2"/>
<rect x="7" y="0" width="1.16" height="1.16" class="z6"/>
<rect x="8" y="0" width="1.16" height="1.16" class="z6"/>
<rect x="9" y="0" width="1.16" height="1.16" class="z3"/>
<rect x="10" y="0" width="1.16" height="1.16" class="z4"/>
<rect x="11" y="0" width="1.16" height="1.16" class="z4"/>
<rect x="12" y="0" width="1.16" height="1.16" class="z4"/>
<rect x="13" y="0" width="1.16" height="1.16" class="z6"/>
<rect x="14" y="0" width="1.16" height="1.16" class="z4"/>
<rect x="15" y="0" width="1.16" height="1.16" class="z4"/>
<rect x="16" y="0" width="1.16" height="1.16" class="z5"/>
<rect x="17" y="0" width="1.16" height="1.16" class="z3"/>
<rect x="18" y="0" width="1.16" height="1.16" class="z3"/>
<rect x="19" y="0" width="1.16" height="1.16" class="z7"/>
<rect x="20" y="0" width="1.16" height="1.16" class="z3"/>
<rect x="21" y="0" width="1.16" height="1.16" class="z3"/>
<rect x="22" y="0" width="1.16" height="1.16" class="z1"/>
<rect x="23" y="0" width="1.16" height="1.16" class="z3"/>
<rect x="24" y="0" width="1.16" height="1.16" class="z6"/>
<rect x="25" y="0" width="1.16" height="1.16" class="z4"/>
<rect x="26" y="0" width="1.16" height="1.16" class="z5"/>
<rect x="27" y="0" width="1.16" height="1.16" class="z2"/>
<rect x="28" y="0" width="1.16" height="1.16" class="z5"/>
<rect x="29" y="0" width="1.16" height="1.16" class="z3"/>
<rect x="0" y="1" width="1.16" height="1.16" class="z3"/>
<rect x="1" y="1" width="1.16" height="1.16" class="z3"/>
<rect x="2" y="1" width="1.16" height="1.16" class="z5"/>
<rect x="3" y="1" width="1.16" height="1.16" class="z3"/>
<rect x="4" y="1" width="1.16" height="1.16" class="z2"/>
<rect x="5" y="1" width="1.16" height="1.16" class="z3"/>
<rect x="6" y="1" width="1.16" height="1.16" class="z5"/>
<rect x="7" y="1" width="1.16" height="1.16" class="z1"/>
<rect x="8" y="1" width="1.16" height="1.16" class="z3"/>
<rect x="9" y="1" width="1.16" height="1.16" class="z5"/>
<rect x="10" y="1" width="1.16" height="1.16" class="z4"/>
<rect x="11" y="1" width="1.16" height="1.16" class="z2"/>
<rect x="12" y="1" width="1.16" height="1.16" class="z5"/>
<rect x="13" y="1" width="1.16" height="1.16" class="z1"/>
<rect x="14" y="1" width="1.16" height="1.16" class="z3"/>
<rect x="15" y="1" width="1.16" height="1.16" class="z4"/>
<rect x="16" y="1" width="1.16" height="1.16" class="z4"/>
<rect x="17" y="1" width="1.16" height="1.16" class="z3"/>
<rect x="18" y="1" width="1.16" height="1.16" class="z5"/>
<rect x="19" y="1" width="1.16" height="1.16" class="z4"/>
<rect x="20" y="1" width="1.16" height="1.16" class="z5"/>
<rect x="21" y="1" width="1.16" height="1.16" class="z5"/>
<rect x="22" y="1" width="1.16" height="1.16" class="z6"/>
<rect x="23" y="1" width="1.16" height="1.16" class="z4"/>
<rect x="24" y="1" width="1.16" height="1.16" class="z2"/>
<rect x="25" y="1" width="1.16" height="1.16" class="z3"/>
<rect x="26" y="1" width="1.16" height="1.16" class="z3"/>
<rect x="27" y="1" width="1.16" height="1.16" class="z4"/>
<rect x="28" y="1" width="1.16" height="1.16" class="z3"/>
<rect x="29" y="1" width="1.16" height="1.16" class="z2"/>
<rect x="0" y="2" width="1.16" height="1.16" class="z5"/>
<rect x="1" y="2" width="1.16" height="1.16" class="z5"/>
<rect x="2" y="2" width="1.16" height="1.16" class="z6"/>
<rect x="3" y="2" width="1.16" height="1.16" class="z5"/>
<rect x="4" y="2" width="1.16" height="1.16" class="z6"/>
<rect x="5" y="2" width="1.16" height="1.16" class="z2"/>
<rect x="6" y="2" width="1.16" height="1.16" class="z2"/>
<rect x="7" y="2" width="1.16" height="1.16" class="z2"/>
<rect x="8" y="2" width="1.16" height="1.16" class="z4"/>
<rect x="9" y="2" width="1.16" height="1.16" class="z4"/>
<rect x="10" y="2" width="1.16" height="1.16" class="z5"/>
<rect x="11" y="2" width="1.16" height="1.16" class="z3"/>
<rect x="12" y="2" width="1.16" height="1.16" class="z5"/>
<rect x="13" y="2" width="1.16" height="1.16" class="z6"/>
<rect x="14" y="2" width="1.16" height="1.16" class="z5"/>
<rect x="15" y="2" width="1.16" height="1.16" class="z5"/>
<rect x="16" y="2" width="1.16" height="1.16" class="z6"/>
<rect x="17" y="2" width="1.16" height="1.16" class="z3"/>
<rect x="18" y="2" width="1.16" height="1.16" class="z2"/>
<rect x="19" y="2" width="1.16" height="1.16" class="z4"/>
<rect x="20" y="2" width="1.16" height="1.16" class="z1"/>
<rect x="21" y="2" width="1.16" height="1.16" class="z4"/>
<rect x="22" y="2" width="1.16" height="1.16" class="z4"/>
<rect x="23" y="2" width="1.16" height="1.16" class="z4"/>
<rect x="24" y="2" width="1.16" height="1.16" class="z3"/>
<rect x="25" y="2" width="1.16" height="1.16" class="z3"/>
<rect x="26" y="2" width="1.16" height="1.16" class="z3"/>
<rect x="27" y="2" width="1.16" height="1.16" class="z2"/>
<rect x="28" y="2" width="1.16" height="1.16" class="z2"/>
<rect x="29" y="2" width="1.16" height="1.16" class="z5"/>
<rect x="0" y="3" width="1.16" height="1.16" class="z3"/>
<rect x="1" y="3" width="1.16" height="1.16" class="z3"/>
<rect x="2" y="3" width="1.16" height="1.16" class="z1"/>
<rect x="3" y="3" width="1.16" height="1.16" class="z2"/>
<rect x="4" y="3" width="1.16" height="1.16" class="z3"/>
<rect x="5" y="3" width="1.16" height="1.16" class="z4"/>
<rect x="6" y="3" width="1.16" height="1.16" class="z4"/>
<rect x="7" y="3" width="1.16" height="1.16" class="z4"/>
<rect x="8" y="3" width="1.16" height="1.16" class="z5"/>
<rect x="9" y="3" width="1.16" height="1.16" class="z2"/>
<rect x="10" y="3" width="1.16" height="1.16" class="z3"/>
<rect x="11" y="3" width="1.16" height="1.16" class="z4"/>
<rect x="12" y="3" width="1.16" height="1.16" class="z2"/>
<rect x="13" y="3" width="1.16" height="1.16" class="z3"/>
<rect x="14" y="3" width="1.16" height="1.16" class="z2"/>
<rect x="15" y="3" width="1.16" height="1.16" class="z2"/>
<rect x="16" y="3" width="1.16" height="1.16" class="z4"/>
<rect x="17" y="3" width="1.16" height="1.16" class="z3"/>
<rect x="18" y="3" width="1.16" height="1.16" class="z5"/>
<rect x="19" y="3" width="1.16" height="1.16" class="z4"/>
<rect x="20" y="3" width="1.16" height="1.16" class="z3"/>
<rect x="21" y="3" width="1.16" height="1.16" class="z4"/>
<rect x="22" y="3" width="1.16" height="1.16" class="z2"/>
<rect x="23" y="3" width="1.16" height="1.16" class="z4"/>
<rect x="24" y="3" width="1.16" height="1.16" class="z4"/>
<rect x="25" y="3" width="1.16" height="1.16" class="z4"/>
<rect x="26" y="3" width="1.16" height="1.16" class="z5"/>
<rect x="27" y="3" width="1.16" height="1.16" class="z6"/>
<rect x="28" y="3" width="1.16" height="1.16" class="z3"/>
<rect x="29" y="3" width="1.16" height="1.16" class="z2"/>
<rect x="0" y="4" width="1.16" height="1.16" class="z5"/>
<rect x="1" y="4" width="1.16" height="1.16" class="z4"/>
<rect x="2" y="4" width="1.16" height="1.16" class="z3"/>
<rect x="3" y="4" width="1.16" height="1.16" class="z3"/>
<rect x="4" y="4" width="1.16" height="1.16" class="z1"/>
<rect x="5" y="4" width="1.16" height="1.16" class="z5"/>
<rect x="6" y="4" width="1.16" height="1.16" class="z5"/>
<rect x="7" y="4" width="1.16" height="1.16" class="z4"/>
<rect x="8" y="4" width="1.16" height="1.16" class="z5"/>
<rect x="9" y="4" width="1.16" height="1.16" class="z2"/>
<rect x="10" y="4" width="1.16" height="1.16" class="z4"/>
<rect x="11" y="4" width="1.16" height="1.16" class="z4"/>
<rect x="12" y="4" width="1.16" height="1.16" class="z4"/>
<rect x="13" y="4" width="1.16" height="1.16" class="z3"/>
<rect x="14" y="4" width="1.16" height="1.16" class="z5"/>
<rect x="15" y="4" width="1.16" height="1.16" class="z3"/>
<rect x="16" y="4" width="1.16" height="1.16" class="z4"/>
<rect x="17" y="4" width="1.16" height="1.16" class="z3"/>
<rect x="18" y="4" width="1.16" height="1.16" class="z5"/>
<rect x="19" y="4" width="1.16" height="1.16" class="z2"/>
<rect x="20" y="4" width="1.16" height="1.16" class="z3"/>
<rect x="21" y="4" width="1.16" height="1.16" class="z6"/>
<rect x="22" y="4" width="1.16" height="1.16" class="z5"/>
<rect x="23" y="4" width="1.16" height="1.16" class="z3"/>
<rect x="24" y="4" width="1.16" height="1.16" class="z2"/>
<rect x="25" y="4" width="1.16" height="1.16" class="z3"/>
<rect x="26" y="4" width="1.16" height="1.16" class="z3"/>
<rect x="27" y="4" width="1.16" height="1.16" class="z2"/>
<rect x="28" y="4" width="1.16" height="1.16" class="z3"/>
<rect x="29" y="4" width="1.16" height="1.16" class="z5"/>
<rect x="0" y="5" width="1.16" height="1.16" class="z3"/>
<rect x="1" y="5" width="1.16" height="1.16" class="z2"/>
<rect x="2" y="5" width="1.16" height="1.16" class="z3"/>
<rect x="3" y="5" width="1.16" height="1.16" class="z3"/>
<rect x="4" y="5" width="1.16" height="1.16" class="z4"/>
<rect x="5" y="5" width="1.16" height="1.16" class="z3"/>
<rect x="6" y="5" width="1.16" height="1.16" class="z3"/>
<rect x="7" y="5" width="1.16" height="1.16" class="z3"/>
<rect x="8" y="5" width="1.16" height="1.16" class="z3"/>
<rect x="9" y="5" width="1.16" height="1.16" class="z2"/>
<rect x="10" y="5" width="1.16" height="1.16" class="z3"/>
<rect x="11" y="5" width="1.16" height="1.16" class="z3"/>
<rect x="12" y="5" width="1.16" height="1.16" class="z3"/>
<rect x="13" y="5" width="1.16" height="1.16" class="z3"/>
<rect x="14" y="5" width="1.16" height="1.16" class="z3"/>
<rect x="15" y="5" width="1.16" height="1.16" class="z5"/>
<rect x="16" y="5" width="1.16" height="1.16" class="z4"/>
<rect x="17" y="5" width="1.16" height="1.16" class="z3"/>
<rect x="18" y="5" width="1.16" height="1.16" class="z2"/>
<rect x="19" y="5" width="1.16" height="1.16" class="z2"/>
<rect x="20" y="5" width="1.16" height="1.16" class="z2"/>
<rect x="21" y="5" width="1.16" height="1.16" class="z1"/>
<rect x="22" y="5" width="1.16" height="1.16" class="z3"/>
<rect x="23" y="5" width="1.16" height="1.16" class="z3"/>
<rect x="24" y="5" width="1.16" height="1.16" class="z1"/>
<rect x="25" y="5" width="1.16" height="1.16" class="z1"/>
<rect x="26" y="5" width="1.16" height="1.16" class="z5"/>
<rect x="27" y="5" width="1.16" height="1.16" class="z1"/>
<rect x="28" y="5" width="1.16" height="1.16" class="z6"/>
<rect x="29" y="5" width="1.16" height="1.16" class="z5"/>
<rect x="0" y="6" width="1.16" height="1.16" class="z4"/>
<rect x="1" y="6" width="1.16" height="1.16" class="z5"/>
<rect x="2" y="6" width="1.16" height="1.16" class="z2"/>
<rect x="3" y="6" width="1.16" height="1.16" class="z2"/>
<rect x="4" y="6" width="1.16" height="1.16" class="z3"/>
<rect x="5" y="6" width="1.16" height="1.16" class="z2"/>
<rect x="6" y="6" width="1.16" height="1.16" class="z5"/>
<rect x="7" y="6" width="1.16" height="1.16" class="z4"/>
<rect x="8" y="6" width="1.16" height="1.16" class="z3"/>
<rect x="9" y="6" width="1.16" height="1.16" class="z3"/>
<rect x="10" y="6" width="1.16" height="1.16" class="z5"/>
<rect x="11" y="6" width="1.16" height="1.16" class="z3"/>
<rect x="12" y="6" width="1.16" height="1.16" class="z4"/>
<rect x="13" y="6" width="1.16" height="1.16" class="z3"/>
<rect x="14" y="6" width="1.16" height="1.16" class="z4"/>
<rect x="15" y="6" width="1.16" height="1.16" class="z3"/>
<rect x="16" y="6" width="1.16" height="1.16" class="z3"/>
<rect x="17" y="6" width="1.16" height="1.16" class="z3"/>
<rect x="18" y="6" width="1.16" height="1.16" class="z3"/>
<rect x="19" y="6" width="1.16" height="1.16" class="z4"/>
<rect x="20" y="6" width="1.16" height="1.16" class="z3"/>
<rect x="21" y="6" width="1.16" height="1.16" class="z3"/>
<rect x="22" y="6" width="1.16" height="1.16" class="z5"/>
<rect x="23" y="6" width="1.16" height="1.16" class="z2"/>
<rect x="24" y="6" width="1.16" height="1.16" class="z4"/>
<rect x="25" y="6" width="1.16" height="1.16" class="z3"/>
<rect x="26" y="6" width="1.16" height="1.16" class="z4"/>
<rect x="27" y="6" width="1.16" height="1.16" class="z4"/>
<rect x="28" y="6" width="1.16" height="1.16" class="z5"/>
<rect x="29" y="6" width="1.16" height="1.16" class="z3"/>
<rect x="0" y="7" width="1.16" height="1.16" class="z4"/>
<rect x="1" y="7" width="1.16" height="1.16" class="z4"/>
<rect x="2" y="7" width="1.16" height="1.16" class="z2"/>
<rect x="3" y="7" width="1.16" height="1.16" class="z5"/>
<rect x="4" y="7" width="1.16" height="1.16" class="z5"/>
<rect x="5" y="7" width="1.16" height="1.16" class="z4"/>
<rect x="6" y="7" width="1.16" height="1.16" class="z5"/>
<rect x="7" y="7" width="1.16" height="1.16" class="z4"/>
<rect x="8" y="7" width="1.16" height="1.16" class="z2"/>
<rect x="9" y="7" width="1.16" height="1.16" class="z4"/>
<rect x="10" y="7" width="1.16" height="1.16" class="z3"/>
<rect x="11" y="7" width="1.16" height="1.16" class="z4"/>
<rect x="12" y="7" width="1.16" height="1.16" class="z5"/>
<rect x="13" y="7" width="1.16" height="1.16" class="z4"/>
<rect x="14" y="7" width="1.16" height="1.16" class="z4"/>
<rect x="15" y="7" width="1.16" height="1.16" class="z2"/>
<rect x="16" y="7" width="1.16" height="1.16" class="z5"/>
<rect x="17" y="7" width="1.16" height="1.16" class="z1"/>
<rect x="18" y="7" width="1.16" height="1.16" class="z6"/>
<rect x="19" y="7" width="1.16" height="1.16" class="z3"/>
<rect x="20" y="7" width="1.16" height="1.16" class="z2"/>
<rect x="21" y="7" width="1.16" height="1.16" class="z2"/>
<rect x="22" y="7" width="1.16" height="1.16" class="z5"/>
<rect x="23" y="7" width="1.16" height="1.16" class="za"/>
<rect x="24" y="7" width="1.16" height="1.16" class="z4"/>
<rect x="25" y="7" width="1.16" height="1.16" class="z2"/>
<rect x="26" y="7" width="1.16" height="1.16" class="z6"/>
<rect x="27" y="7" width="1.16" height="1.16" class="z4"/>
<rect x="28" y="7" width="1.16" height="1.16" class="z3"/>
<rect x="29" y="7" width="1.16" height="1.16" class="z1"/>
<rect x="0" y="8" width="1.16" height="1.16" class="z4"/>
<rect x="1" y="8" width="1.16" height="1.16" class="z3"/>
<rect x="2" y="8" width="1.16" height="1.16" class="z2"/>
<rect x="3" y="8" width="1.16" height="1.16" class="z3"/>
<rect x="4" y="8" width="1.16" height="1.16" class="z3"/>
<rect x="5" y="8" width="1.16" height="1.16" class="z6"/>
<rect x="6" y="8" width="1.16" height="1.16" class="z2"/>
<rect x="7" y="8" width="1.16" height="1.16" class="z3"/>
<rect x="8" y="8" width="1.16" height="1.16" class="z5"/>
<rect x="9" y="8" width="1.16" height="1.16" class="z3"/>
<rect x="10" y="8" width="1.16" height="1.16" class="z3"/>
<rect x="11" y="8" width="1.16" height="1.16" class="z3"/>
<rect x="12" y="8" width="1.16" height="1.16" class="z3"/>
<rect x="13" y="8" width="1.16" height="1.16" class="z3"/>
<rect x="14" y="8" width="1.16" height="1.16" class="z3"/>
<rect x="15" y="8" width="1.16" height="1.16" class="z2"/>
<rect x="16" y="8" width="1.16" height="1.16" class="z6"/>
<rect x="17" y="8" width="1.16" height="1.16" class="z6"/>
<rect x="18" y="8" width="1.16" height="1.16" class="z3"/>
<rect x="19" y="8" width="1.16" height="1.16" class="z2"/>
<rect x="20" y="8" width="1.16" height="1.16" class="z4"/>
<rect x="21" y="8" width="1.16" height="1.16" class="z4"/>
<rect x="22" y="8" width="1.16" height="1.16" class="z4"/>
<rect x="23" y="8" width="1.16" height="1.16" class="z2"/>
<rect x="24" y="8" width="1.16" height="1.16" class="z4"/>
<rect x="25" y="8" width="1.16" height="1.16" class="z4"/>
<rect x="26" y="8" width="1.16" height="1.16" class="z3"/>
<rect x="27" y="8" width="1.16" height="1.16" class="z3"/>
<rect x="28" y="8" width="1.16" height="1.16" class="z5"/>
<rect x="29" y="8" width="1.16" height="1.16" class="z6"/>
<rect x="0" y="9" width="1.16" height="1.16" class="z5"/>
<rect x="1" y="9" width="1.16" height="1.16" class="z3"/>
<rect x="2" y="9" width="1.16" height="1.16" class="z4"/>
<rect x="3" y="9" width="1.16" height="1.16" class="z3"/>
<rect x="4" y="9" width="1.16" height="1.16" class="z2"/>
<rect x="5" y="9" width="1.16" height="1.16" class="z4"/>
<rect x="6" y="9" width="1.16" height="1.16" class="z3"/>
<rect x="7" y="9" width="1.16" height="1.16" class="z3"/>
<rect x="8" y="9" width="1.16" height="1.16" class="z3"/>
<rect x="9" y="9" width="1.16" height="1.16" class="z2"/>
<rect x="10" y="9" width="1.16" height="1.16" class="z2"/>
<rect x="11" y="9" width="1.16" height="1.16" class="z5"/>
<rect x="12" y="9" width="1.16" height="1.16" class="z6"/>
<rect x="13" y="9" width="1.16" height="1.16" class="z4"/>
<rect x="14" y="9" width="1.16" height="1.16" class="z2"/>
<rect x="15" y="9" width="1.16" height="1.16" class="z5"/>
<rect x="16" y="9" width="1.16" height="1.16" class="z3"/>
<rect x="17" y="9" width="1.16" height="1.16" class="z4"/>
<rect x="18" y="9" width="1.16" height="1.16" class="z5"/>
<rect x="19" y="9" width="1.16" height="1.16" class="z2"/>
<rect x="20" y="9" width="1.16" height="1.16" class="z1"/>
<rect x="21" y="9" width="1.16" height="1.16" class="z5"/>
<rect x="22" y="9" width="1.16" height="1.16" class="z5"/>
<rect x="23" y="9" width="1.16" height="1.16" class="z5"/>
<rect x="24" y="9" width="1.16" height="1.16" class="z3"/>
<rect x="25" y="9" width="1.16" height="1.16" class="z3"/>
<rect x="26" y="9" width="1.16" height="1.16" class="z3"/>
<rect x="27" y="9" width="1.16" height="1.16" class="z1"/>
<rect x="28" y="9" width="1.16" height="1.16" class="z5"/>
<rect x="29" y="9" width="1.16" height="1.16" class="z5"/>
<rect x="0" y="10" width="1.16" height="1.16" class="z6"/>
<rect x="1" y="10" width="1.16" height="1.16" class="z5"/>
<rect x="2" y="10" width="1.16" height="1.16" class="z1"/>
<rect x="3" y="10" width="1.16" height="1.16" class="z4"/>
<rect x="4" y="10" width="1.16" height="1.16" class="z3"/>
<rect x="5" y="10" width="1.16" height="1.16" class="z7"/>
<rect x="6" y="10" width="1.16" height="1.16" class="z4"/>
<rect x="7" y="10" width="1.16" height="1.16" class="z2"/>
<rect x="8" y="10" width="1.16" height="1.16" class="z3"/>
<rect x="9" y="10" width="1.16" height="1.16" class="z4"/>
<rect x="10" y="10" width="1.16" height="1.16" class="z2"/>
<rect x="11" y="10" width="1.16" height="1.16" class="z2"/>
<rect x="12" y="10" width="1.16" height="1.16" class="z2"/>
<rect x="13" y="10" width="1.16" height="1.16" class="z4"/>
<rect x="14" y="10" width="1.16" height="1.16" class="z0"/>
<rect x="15" y="10" width="1.16" height="1.16" class="z5"/>
<rect x="16" y="10" width="1.16" height="1.16" class="z5"/>
<rect x="17" y="10" width="1.16" height="1.16" class="z2"/>
<rect x="18" y="10" width="1.16" height="1.16" class="z3"/>
<rect x="19" y="10" width="1.16" height="1.16" class="z3"/>
<rect x="20" y="10" width="1.16" height="1.16" class="z3"/>
<rect x="21" y="10" width="1.16" height="1.16" class="z2"/>
<rect x="22" y="10" width="1.16" height="1.16" class="z2"/>
<rect x="23" y="10" width="1.16" height="1.16" class="z3"/>
<rect x="24" y="10" width="1.16" height="1.16" class="z4"/>
<rect x="25" y="10" width="1.16" height="1.16" class="z6"/>
<rect x="26" y="10" width="1.16" height="1.16" class="z3"/>
<rect x="27" y="10" width="1.16" height="1.16" class="z3"/>
<rect x="28" y="10" width="1.16" height="1.16" class="z7"/>
<rect x="29" y="10" width="1.16" height="1.16" class="z2"/>
<rect x="0" y="11" width="1.16" height="1.16" class="z3"/>
<rect x="1" y="11" width="1.16" height="1.16" class="z3"/>
<rect x="2" y="11" width="1.16" height="1.16" class="z3"/>
<rect x="3" y="11" width="1.16" height="1.16" class="z5"/>
<rect x="4" y="11" width="1.16" height="1.16" class="z3"/>
<rect x="5" y="11" width="1.16" height="1.16" class="z5"/>
<rect x="6" y="11" width="1.16" height="1.16" class="z1"/>
<rect x="7" y="11" width="1.16" height="1.16" class="z4"/>
<rect x="8" y="11" width="1.16" height="1.16" class="z1"/>
<rect x="9" y="11" width="1.16" height="1.16" class="z2"/>
<rect x="10" y="11" width="1.16" height="1.16" class="z2"/>
<rect x="11" y="11" width="1.16" height="1.16" class="z3"/>
<rect x="12" y="11" width="1.16" height="1.16" class="z3"/>
<rect x="13" y="11" width="1.16" height="1.16" class="z2"/>
<rect x="14" y="11" width="1.16" height="1.16" class="z3"/>
<rect x="15" y="11" width="1.16" height="1.16" class="z3"/>
<rect x="16" y="11" width="1.16" height="1.16" class="z2"/>
<rect x="17" y="11" width="1.16" height="1.16" class="z3"/>
<rect x="18" y="11" width="1.16" height="1.16" class="z4"/>
<rect x="19" y="11" width="1.16" height="1.16" class="z4"/>
<rect x="20" y="11" width="1.16" height="1.16" class="z4"/>
<rect x="21" y="11" width="1.16" height="1.16" class="z4"/>
<rect x="22" y="11" width="1.16" height="1.16" class="z4"/>
<rect x="23" y="11" width="1.16" height="1.16" class="z4"/>
<rect x="24" y="11" width="1.16" height="1.16" class="z2"/>
<rect x="25" y="11" width="1.16" height="1.16" class="z2"/>
<rect x="26" y="11" width="1.16" height="1.16" class="z3"/>
<rect x="27" y="11" width="1.16" height="1.16" class="z2"/>
<rect x="28" y="11" width="1.16" height="1.16" class="z1"/>
<rect x="29" y="11" width="1.16" height="1.16" class="z3"/>
<rect x="0" y="12" width="1.16" height="1.16" class="z5"/>
<rect x="1" y="12" width="1.16" height="1.16" class="z3"/>
<rect x="2" y="12" width="1.16" height="1.16" class="z3"/>
<rect x="3" y="12" width="1.16" height="1.16" class="z5"/>
<rect x="4" y="12" width="1.16" height="1.16" class="z3"/>
<rect x="5" y="12" width="1.16" height="1.16" class="z2"/>
<rect x="6" y="12" width="1.16" height="1.16" class="z2"/>
<rect x="7" y="12" width="1.16" height="1.16" class="z2"/>
<rect x="8" y="12" width="1.16" height="1.16" class="z6"/>
<rect x="9" y="12" width="1.16" height="1.16" class="z2"/>
<rect x="10" y="12" width="1.16" height="1.16" class="z4"/>
<rect x="11" y="12" width="1.16" height="1.16" class="z5"/>
<rect x="12" y="12" width="1.16" height="1.16" class="z3"/>
<rect x="13" y="12" width="1.16" height="1.16" class="z4"/>
<rect x="14" y="12" width="1.16" height="1.16" class="z4"/>
<rect x="15" y="12" width="1.16" height="1.16" class="z3"/>
<rect x="16" y="12" width="1.16" height="1.16" class="z4"/>
<rect x="17" y="12" width="1.16" height="1.16" class="z3"/>
<rect x="18" y="12" width="1.16" height="1.16" class="z3"/>
<rect x="19" y="12" width="1.16" height="1.16" class="z4"/>
<rect x="20" y="12" width="1.16" height="1.16" class="z3"/>
<rect x="21" y="12" width="1.16" height="1.16" class="z4"/>
<rect x="22" y="12" width="1.16" height="1.16" class="z3"/>
<rect x="23" y="12" width="1.16" height="1.16" class="z4"/>
<rect x="24" y="12" width="1.16" height="1.16" class="z4"/>
<rect x="25" y="12" width="1.16" height="1.16" class="z5"/>
<rect x="26" y="12" width="1.16" height="1.16" class="z4"/>
<rect x="27" y="12" width="1.16" height="1.16" class="z3"/>
<rect x="28" y="12" width="1.16" height="1.16" class="z5"/>
<rect x="29" y="12" width="1.16" height="1.16" class="z5"/>
<rect x="0" y="13" width="1.16" height="1.16" class="z3"/>
<rect x="1" y="13" width="1.16" height="1.16" class="z5"/>
<rect x="2" y="13" width="1.16" height="1.16" class="z3"/>
<rect x="3" y="13" width="1.16" height="1.16" class="z3"/>
<rect x="4" y="13" width="1.16" height="1.16" class="z5"/>
<rect x="5" y="13" width="1.16" height="1.16" class="z6"/>
<rect x="6" y="13" width="1.16" height="1.16" class="z1"/>
<rect x="7" y="13" width="1.16" height="1.16" class="z2"/>
<rect x="8" y="13" width="1.16" height="1.16" class="z4"/>
<rect x="9" y="13" width="1.16" height="1.16" class="z2"/>
<rect x="10" y="13" width="1.16" height="1.16" class="z3"/>
<rect x="11" y="13" width="1.16" height="1.16" class="z3"/>
<rect x="12" y="13" width="1.16" height="1.16" class="z2"/>
<rect x="13" y="13" width="1.16" height="1.16" class="z4"/>
<rect x="14" y="13" width="1.16" height="1.16" class="z3"/>
<rect x="15" y="13" width="1.16" height="1.16" class="z3"/>
<rect x="16" y="13" width="1.16" height="1.16" class="z6"/>
<rect x="17" y="13" width="1.16" height="1.16" class="z5"/>
<rect x="18" y="13" width="1.16" height="1.16" class="z3"/>
<rect x="19" y="13" width="1.16" height="1.16" class="z4"/>
<rect x="20" y="13" width="1.16" height="1.16" class="z2"/>
<rect x="21" y="13" width="1.16" height="1.16" class="z2"/>
<rect x="22" y="13" width="1.16" height="1.16" class="z5"/>
<rect x="23" y="13" width="1.16" height="1.16" class="z2"/>
<rect x="24" y="13" width="1.16" height="1.16" class="z4"/>
<rect x="25" y="13" width="1.16" height="1.16" class="z4"/>
<rect x="26" y="13" width="1.16" height="1.16" class="z4"/>
<rect x="27" y="13" width="1.16" height="1.16" class="z4"/>
<rect x="28" y="13" width="1.16" height="1.16" class="z5"/>
<rect x="29" y="13" width="1.16" height="1.16" class="z2"/>
<rect x="0" y="14" width="1.16" height="1.16" class="z2"/>
<rect x="1" y="14" width="1.16" height="1.16" class="z2"/>
<rect x="2" y="14" width="1.16" height="1.16" class="z2"/>
<rect x="3" y="14" width="1.16" height="1.16" class="z5"/>
<rect x="4" y="14" width="1.16" height="1.16" class="z3"/>
<rect x="5" y="14" width="1.16" height="1.16" class="z5"/>
<rect x="6" y="14" width="1.16" height="1.16" class="z5"/>
<rect x="7" y="14" width="1.16" height="1.16" class="z4"/>
<rect x="8" y="14" width="1.16" height="1.16" class="z5"/>
<rect x="9" y="14" width="1.16" height="1.16" class="z5"/>
<rect x="10" y="14" width="1.16" height="1.16" class="z5"/>
<rect x="11" y="14" width="1.16" height="1.16" class="z4"/>
<rect x="12" y="14" width="1.16" height="1.16" class="z4"/>
<rect x="13" y="14" width="1.16" height="1.16" class="z5"/>
<rect x="14" y="14" width="1.16" height="1.16" class="z4"/>
<rect x="15" y="14" width="1.16" height="1.16" class="z6"/>
<rect x="16" y="14" width="1.16" height="1.16" class="z4"/>
<rect x="17" y="14" width="1.16" height="1.16" class="z5"/>
<rect x="18" y="14" width="1.16" height="1.16" class="z3"/>
<rect x="19" y="14" width="1.16" height="1.16" class="z3"/>
<rect x="20" y="14" width="1.16" height="1.16" class="z6"/>
<rect x="21" y="14" width="1.16" height="1.16" class="z3"/>
<rect x="22" y="14" width="1.16" height="1.16" class="z5"/>
<rect x="23" y="14" width="1.16" height="1.16" class="z4"/>
<rect x="24" y="14" width="1.16" height="1.16" class="z3"/>
<rect x="25" y="14" width="1.16" height="1.16" class="z3"/>
<rect x="26" y="14" width="1.16" height="1.16" class="z3"/>
<rect x="27" y="14" width="1.16" height="1.16" class="z4"/>
<rect x="28" y="14" width="1.16" height="1.16" class="z5"/>
<rect x="29" y="14" width="1.16" height="1.16" class="z4"/>
<rect x="0" y="15" width="1.16" height="1.16" class="z5"/>
<rect x="1" y="15" width="1.16" height="1.16" class="z3"/>
<rect x="2" y="15" width="1.16" height="1.16" class="z5"/>
<rect x="3" y="15" width="1.16" height="1.16" class="z3"/>
<rect x="4" y="15" width="1.16" height="1.16" class="z5"/>
<rect x="5" y="15" width="1.16" height="1.16" class="z4"/>
<rect x="6" y="15" width="1.16" height="1.16" class="z7"/>
<rect x="7" y="15" width="1.16" height="1.16" class="z2"/>
<rect x="8" y="15" width="1.16" height="1.16" class="z5"/>
<rect x="9" y="15" width="1.16" height="1.16" class="z5"/>
<rect x="10" y="15" width="1.16" height="1.16" class="z5"/>
<rect x="11" y="15" width="1.16" height="1.16" class="z3"/>
<rect x="12" y="15" width="1.16" height="1.16" class="z4"/>
<rect x="13" y="15" width="1.16" height="1.16" class="z4"/>
<rect x="14" y="15" width="1.16" height="1.16" class="z4"/>
<rect x="15" y="15" width="1.16" height="1.16" class="z5"/>
<rect x="16" y="15" width="1.16" height="1.16" class="z8"/>
<rect x="17" y="15" width="1.16" height="1.16" class="z1"/>
<rect x="18" y="15" width="1.16" height="1.16" class="z7"/>
<rect x="19" y="15" width="1.16" height="1.16" class="z3"/>
<rect x="20" y="15" width="1.16" height="1.16" class="z3"/>
<rect x="21" y="15" width="1.16" height="1.16" class="z3"/>
<rect x="22" y="15" width="1.16" height="1.16" class="z7"/>
<rect x="23" y="15" width="1.16" height="1.16" class="z3"/>
<rect x="24" y="15" width="1.16" height="1.16" class="z5"/>
<rect x="25" y="15" width="1.16" height="1.16" class="z3"/>
<rect x="26" y="15" width="1.16" height="1.16" class="z3"/>
<rect x="27" y="15" width="1.16" height="1.16" class="z3"/>
<rect x="28" y="15" width="1.16" height="1.16" class="z3"/>
<rect x="29" y="15" width="1.16" height="1.16" class="z3"/>
<rect x="0" y="16" width="1.16" height="1.16" class="z3"/>
<rect x="1" y="16" width="1.16" height="1.16" class="z6"/>
<rect x="2" y="16" width="1.16" height="1.16" class="z3"/>
<rect x="3" y="16" width="1.16" height="1.16" class="z6"/>
<rect x="4" y="16" width="1.16" height="1.16" class="z6"/>
<rect x="5" y="16" width="1.16" height="1.16" class="z5"/>
<rect x="6" y="16" width="1.16" height="1.16" class="z4"/>
<rect x="7" y="16" width="1.16" height="1.16" class="z4"/>
<rect x="8" y="16" width="1.16" height="1.16" class="z4"/>
<rect x="9" y="16" width="1.16" height="1.16" class="z3"/>
<rect x="10" y="16" width="1.16" height="1.16" class="z5"/>
<rect x="11" y="16" width="1.16" height="1.16" class="z4"/>
<rect x="12" y="16" width="1.16" height="1.16" class="z6"/>
<rect x="13" y="16" width="1.16" height="1.16" class="z5"/>
<rect x="14" y="16" width="1.16" height="1.16" class="z6"/>
<rect x="15" y="16" width="1.16" height="1.16" class="z2"/>
<rect x="16" y="16" width="1.16" height="1.16" class="z6"/>
<rect x="17" y="16" width="1.16" height="1.16" class="z5"/>
<rect x="18" y="16" width="1.16" height="1.16" class="z6"/>
<rect x="19" y="16" width="1.16" height="1.16" class="z3"/>
<rect x="20" y="16" width="1.16" height="1.16" class="z3"/>
<rect x="21" y="16" width="1.16" height="1.16" class="z3"/>
<rect x="22" y="16" width="1.16" height="1.16" class="z7"/>
<rect x="23" y="16" width="1.16" height="1.16" class="z7"/>
<rect x="24" y="16" width="1.16" height="1.16" class="z7"/>
<rect x="25" y="16" width="1.16" height="1.16" class="z6"/>
<rect x="26" y="16" width="1.16" height="1.16" class="z3"/>
<rect x="27" y="16" width="1.16" height="1.16" class="z4"/>
<rect x="28" y="16" width="1.16" height="1.16" class="z5"/>
<rect x="29" y="16" width="1.16" height="1.16" class="z7"/>
<rect x="0" y="17" width="1.16" height="1.16" class="z6"/>
<rect x="1" y="17" width="1.16" height="1.16" class="z6"/>
<rect x="2" y="17" width="1.16" height="1.16" class="z6"/>
<rect x="3" y="17" width="1.16" height="1.16" class="z5"/>
<rect x="4" y="17" width="1.16" height="1.16" class="z7"/>
<rect x="5" y="17" width="1.16" height="1.16" class="z7"/>
<rect x="6" y="17" width="1.16" height="1.16" class="za"/>
<rect x="7" y="17" width="1.16" height="1.16" class="z7"/>
<rect x="8" y="17" width="1.16" height="1.16" class="z6"/>
<rect x="9" y="17" width="1.16" height="1.16" class="zb"/>
<rect x="10" y="17" width="1.16" height="1.16" class="z7"/>
<rect x="11" y="17" width="1.16" height="1.16" class="z7"/>
<rect x="12" y="17" width="1.16" height="1.16" class="z7"/>
<rect x="13" y="17" width="1.16" height="1.16" class="z6"/>
<rect x="14" y="17" width="1.16" height="1.16" class="z7"/>
<rect x="15" y="17" width="1.16" height="1.16" class="z7"/>
<rect x="16" y="17" width="1.16" height="1.16" class="z5"/>
<rect x="17" y="17" width="1.16" height="1.16" class="za"/>
<rect x="18" y="17" width="1.16" height="1.16" class="z9"/>
<rect x="19" y="17" width="1.16" height="1.16" class="z6"/>
<rect x="20" y="17" width="1.16" height="1.16" class="z7"/>
<rect x="21" y="17" width="1.16" height="1.16" class="z6"/>
<rect x="22" y="17" width="1.16" height="1.16" class="z9"/>
<rect x="23" y="17" width="1.16" height="1.16" class="z6"/>
<rect x="24" y="17" width="1.16" height="1.16" class="za"/>
<rect x="25" y="17" width="1.16" height="1.16" class="z6"/>
<rect x="26" y="17" width="1.16" height="1.16" class="z6"/>
<rect x="27" y="17" width="1.16" height="1.16" class="z7"/>
<rect x="28" y="17" width="1.16" height="1.16" class="z6"/>
<rect x="29" y="17" width="1.16" height="1.16" class="z6"/>
<rect x="0" y="18" width="1.16" height="1.16" class="z9"/>
<rect x="1" y="18" width="1.16" height="1.16" class="z9"/>
<rect x="2" y="18" width="1.16" height="1.16" class="z8"/>
<rect x="3" y="18" width="1.16" height="1.16" class="ze"/>
<rect x="4" y="18" width="1.16" height="1.16" class="zb"/>
<rect x="5" y="18" width="1.16" height="1.16" class="z8"/>
<rect x="6" y="18" width="1.16" height="1.16" class="za"/>
<rect x="7" y="18" width="1.16" height="1.16" class="zb"/>
<rect x="8" y="18" width="1.16" height="1.16" class="za"/>
<rect x="9" y="18" width="1.16" height="1.16" class="za"/>
<rect x="10" y="18" width="1.16" height="1.16" class="z7"/>
<rect x="11" y="18" width="1.16" height="1.16" class="zb"/>
<rect x="12" y="18" width="1.16" height="1.16" class="z9"/>
<rect x="13" y="18" width="1.16" height="1.16" class="zh"/>
<rect x="14" y="18" width="1.16" height="1.16" class="zf"/>
<rect x="15" y="18" width="1.16" height="1.16" class="za"/>
<rect x="16" y="18" width="1.16" height="1.16" class="za"/>
<rect x="17" y="18" width="1.16" height="1.16" class="za"/>
<rect x="18" y="18" width="1.16" height="1.16" class="zg"/>
<rect x="19" y="18" width="1.16" height="1.16" class="zd"/>
<rect x="20" y="18" width="1.16" height="1.16" class="ze"/>
<rect x="21" y="18" width="1.16" height="1.16" class="z6"/>
<rect x="22" y="18" width="1.16" height="1.16" class="z9"/>
<rect x="23" y="18" width="1.16" height="1.16" class="z9"/>
<rect x="24" y="18" width="1.16" height="1.16" class="z8"/>
<rect x="25" y="18" width="1.16" height="1.16" class="z8"/>
<rect x="26" y="18" width="1.16" height="1.16" class="z8"/>
<rect x="27" y="18" width="1.16" height="1.16" class="z9"/>
<rect x="28" y="18" width="1.16" height="1.16" class="z6"/>
<rect x="29" y="18" width="1.16" height="1.16" class="zc"/>
<rect x="0" y="19" width="1.16" height="1.16" class="zg"/>
<rect x="1" y="19" width="1.16" height="1.16" class="zd"/>
<rect x="2" y="19" width="1.16" height="1.16" class="zk"/>
<rect x="3" y="19" width="1.16" height="1.16" class="zf"/>
<rect x="4" y="19" width="1.16" height="1.16" class="zi"/>
<rect x="5" y="19" width="1.16" height="1.16" class="zh"/>
<rect x="6" y="19" width="1.16" height="1.16" class="zg"/>
<rect x="7" y="19" width="1.16" height="1.16" class="zi"/>
<rect x="8" y="19" width="1.16" height="1.16" class="zi"/>
<rect x="9" y="19" width="1.16" height="1.16" class="zh"/>
<rect x="10" y="19" width="1.16" height="1.16" class="zh"/>
<rect x="11" y="19" width="1.16" height="1.16" class="zg"/>
<rect x="12" y="19" width="1.16" height="1.16" class="zg"/>
<rect x="13" y="19" width="1.16" height="1.16" class="zg"/>
<rect x="14" y="19" width="1.16" height="1.16" class="zj"/>
<rect x="15" y="19" width="1.16" height="1.16" class="zi"/>
<rect x="16" y="19" width="1.16" height="1.16" class="zh"/>
<rect x="17" y="19" width="1.16" height="1.16" class="zi"/>
<rect x="18" y="19" width="1.16" height="1.16" class="zi"/>
<rect x="19" y="19" width="1.16" height="1.16" class="zg"/>
<rect x="20" y="19" width="1.16" height="1.16" class="zi"/>
<rect x="21" y="19" width="1.16" height="1.16" class="zi"/>
<rect x="22" y="19" width="1.16" height="1.16" class="zk"/>
<rect x="23" y="19" width="1.16" height="1.16" class="zg"/>
<rect x="24" y="19" width="1.16" height="1.16" class="zj"/>
<rect x="25" y="19" width="1.16" height="1.16" class="zh"/>
<rect x="26" y="19" width="1.16" height="1.16" class="zi"/>
<rect x="27" y="19" width="1.16" height="1.16" class="zg"/>
<rect x="28" y="19" width="1.16" height="1.16" class="zi"/>
<rect x="29" y="19" width="1.16" height="1.16" class="zi"/>
</g></g>
<rect x="221.3" y="634.6" width="274.5" height="241.1" fill="none" stroke="#c4c4c4" stroke-width="0.8"/>
<path d="M262.48 875.7v-2.8M262.48 634.6v2.8M308.23 875.7v-2.8M308.23 634.6v2.8M353.98 875.7v-2.8M353.98 634.6v2.8M399.73 875.7v-2.8M399.73 634.6v2.8M445.48 875.7v-2.8M445.48 634.6v2.8M491.23 875.7v-2.8M491.23 634.6v2.8M221.3 851.17h2.8M495.8 851.17h-2.8M221.3 805.51h2.8M495.8 805.51h-2.8M221.3 759.87h2.8M495.8 759.87h-2.8M221.3 714.22h2.8M495.8 714.22h-2.8M221.3 668.57h2.8M495.8 668.57h-2.8" stroke="#777" stroke-width="0.6" fill="none"/>
<text x="262.48" y="885.5" text-anchor="middle" class="tk">5</text>
<text x="308.23" y="885.5" text-anchor="middle" class="tk">10</text>
<text x="353.98" y="885.5" text-anchor="middle" class="tk">15</text>
<text x="399.73" y="885.5" text-anchor="middle" class="tk">20</text>
<text x="445.48" y="885.5" text-anchor="middle" class="tk">25</text>
<text x="491.23" y="885.5" text-anchor="middle" class="tk">30</text>
<text x="219" y="854.27" text-anchor="end" class="tky">0</text>
<text x="219" y="808.62" text-anchor="end" class="tky">5</text>
<text x="219" y="762.97" text-anchor="end" class="tky">10</text>
<text x="219" y="717.32" text-anchor="end" class="tky">15</text>
<text x="219" y="671.67" text-anchor="end" class="tky">20</text>
<text x="358.55" y="895.3" text-anchor="middle" class="lb">Number of Runs</text>
<text transform="translate(208 755.15) rotate(-90)" text-anchor="middle" class="lb">Number of Neurons</text>
<text x="253.7" y="631.7" class="ti" textLength="207.5" lengthAdjust="spacingAndGlyphs">Heatmap for results of MSE for train dataset with SPO</text>
<text x="227.9" y="645.9" class="an" textLength="123.5" lengthAdjust="spacingAndGlyphs">Best number of neurons=10</text>
<text x="364.9" y="645.9" class="an" textLength="129.6" lengthAdjust="spacingAndGlyphs">MSE for Train dataset=0.0163</text>
<text x="299.7" y="658.8" class="r2">R</text>
<text x="307.6" y="654.6" class="sup">2</text>
<text x="313.4" y="658.8" class="an" textLength="107.8" lengthAdjust="spacingAndGlyphs">for Train dataset=0.9470</text>
<rect x="498.5" y="634.5" width="6.2" height="241.5" fill="url(#par)"/>
<rect x="498.5" y="634.5" width="6.2" height="241.5" fill="none" stroke="#c4c4c4" stroke-width="0.6"/>
<path d="M504.7 846.6h-2.6" stroke="#555" stroke-width="0.6"/>
<text x="506.3" y="849.35" class="cbt" textLength="12.91" lengthAdjust="spacingAndGlyphs">0.02</text>
<path d="M504.7 806.56h-2.6" stroke="#555" stroke-width="0.6"/>
<text x="506.3" y="809.31" class="cbt" textLength="16.6" lengthAdjust="spacingAndGlyphs">0.025</text>
<path d="M504.7 766.52h-2.6" stroke="#555" stroke-width="0.6"/>
<text x="506.3" y="769.27" class="cbt" textLength="12.91" lengthAdjust="spacingAndGlyphs">0.03</text>
<path d="M504.7 726.48h-2.6" stroke="#555" stroke-width="0.6"/>
<text x="506.3" y="729.23" class="cbt" textLength="16.6" lengthAdjust="spacingAndGlyphs">0.035</text>
<path d="M504.7 686.44h-2.6" stroke="#555" stroke-width="0.6"/>
<text x="506.3" y="689.19" class="cbt" textLength="12.91" lengthAdjust="spacingAndGlyphs">0.04</text>
<path d="M504.7 646.4h-2.6" stroke="#555" stroke-width="0.6"/>
<text x="506.3" y="649.15" class="cbt" textLength="16.6" lengthAdjust="spacingAndGlyphs">0.045</text>
<ellipse cx="354.6" cy="760.6" rx="9.3" ry="8.1" fill="none" stroke="#f00" stroke-width="2.8"/>
<path d="M353.8 751.2L286.63 660.1" stroke="#f00" stroke-width="1.55"/>
<path d="M283.9 656.4L288.32 658.86L284.94 661.35Z" fill="#f00"/>
</svg></body></html>
